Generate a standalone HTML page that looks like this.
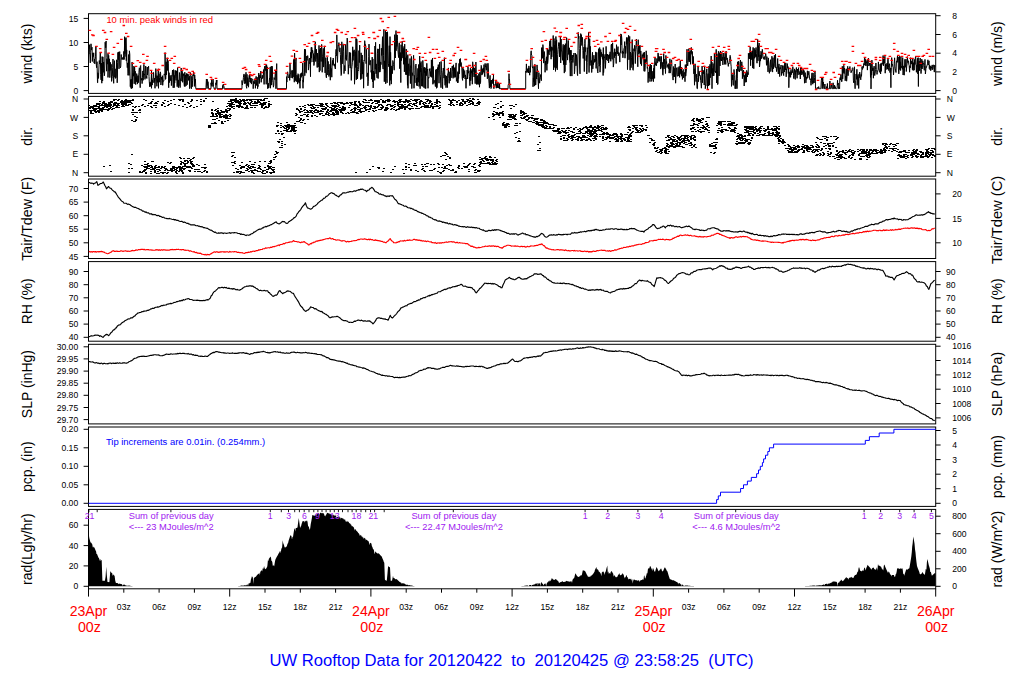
<!DOCTYPE html>
<html><head><meta charset="utf-8"><style>
html,body{margin:0;padding:0;background:#fff;width:1024px;height:700px;overflow:hidden}
svg{display:block}
text{font-family:"Liberation Sans",sans-serif}
</style></head><body>
<svg width="1024" height="700" viewBox="0 0 1024 700" font-family="Liberation Sans, sans-serif"><rect x="88.5" y="13.7" width="847.2" height="79.7" fill="none" stroke="#000" stroke-width="1"/>
<rect x="88.5" y="96.4" width="847.2" height="79.79999999999998" fill="none" stroke="#000" stroke-width="1"/>
<rect x="88.5" y="179.0" width="847.2" height="79.5" fill="none" stroke="#000" stroke-width="1"/>
<rect x="88.5" y="261.6" width="847.2" height="79.59999999999997" fill="none" stroke="#000" stroke-width="1"/>
<rect x="88.5" y="344.3" width="847.2" height="79.59999999999997" fill="none" stroke="#000" stroke-width="1"/>
<rect x="88.5" y="427.0" width="847.2" height="79.39999999999998" fill="none" stroke="#000" stroke-width="1"/>
<rect x="88.5" y="509.4" width="847.2" height="79.39999999999998" fill="none" stroke="#000" stroke-width="1"/>
<line x1="83.6" y1="90.6" x2="88.5" y2="90.6" stroke="#000" stroke-width="1"/>
<text x="78.2" y="93.7" text-anchor="end" font-size="8.6">0</text>
<line x1="83.6" y1="66.5" x2="88.5" y2="66.5" stroke="#000" stroke-width="1"/>
<text x="78.2" y="69.6" text-anchor="end" font-size="8.6">5</text>
<line x1="83.6" y1="42.5" x2="88.5" y2="42.5" stroke="#000" stroke-width="1"/>
<text x="78.2" y="45.6" text-anchor="end" font-size="8.6">10</text>
<line x1="83.6" y1="18.4" x2="88.5" y2="18.4" stroke="#000" stroke-width="1"/>
<text x="78.2" y="21.5" text-anchor="end" font-size="8.6">15</text>
<line x1="935.7" y1="90.6" x2="940.6" y2="90.6" stroke="#000" stroke-width="1"/>
<text x="952.2" y="93.7" font-size="8.6">0</text>
<line x1="935.7" y1="71.9" x2="940.6" y2="71.9" stroke="#000" stroke-width="1"/>
<text x="952.2" y="75.0" font-size="8.6">2</text>
<line x1="935.7" y1="53.2" x2="940.6" y2="53.2" stroke="#000" stroke-width="1"/>
<text x="952.2" y="56.3" font-size="8.6">4</text>
<line x1="935.7" y1="34.5" x2="940.6" y2="34.5" stroke="#000" stroke-width="1"/>
<text x="952.2" y="37.6" font-size="8.6">6</text>
<line x1="935.7" y1="15.7" x2="940.6" y2="15.7" stroke="#000" stroke-width="1"/>
<text x="952.2" y="18.8" font-size="8.6">8</text>
<line x1="83.6" y1="99.0" x2="88.5" y2="99.0" stroke="#000" stroke-width="1"/>
<text x="78.2" y="102.1" text-anchor="end" font-size="8.6">N</text>
<line x1="935.7" y1="99.0" x2="940.6" y2="99.0" stroke="#000" stroke-width="1"/>
<text x="946.8" y="102.1" font-size="8.6">N</text>
<line x1="83.6" y1="117.4" x2="88.5" y2="117.4" stroke="#000" stroke-width="1"/>
<text x="78.2" y="120.5" text-anchor="end" font-size="8.6">W</text>
<line x1="935.7" y1="117.4" x2="940.6" y2="117.4" stroke="#000" stroke-width="1"/>
<text x="946.8" y="120.5" font-size="8.6">W</text>
<line x1="83.6" y1="135.8" x2="88.5" y2="135.8" stroke="#000" stroke-width="1"/>
<text x="78.2" y="138.9" text-anchor="end" font-size="8.6">S</text>
<line x1="935.7" y1="135.8" x2="940.6" y2="135.8" stroke="#000" stroke-width="1"/>
<text x="946.8" y="138.9" font-size="8.6">S</text>
<line x1="83.6" y1="154.3" x2="88.5" y2="154.3" stroke="#000" stroke-width="1"/>
<text x="78.2" y="157.4" text-anchor="end" font-size="8.6">E</text>
<line x1="935.7" y1="154.3" x2="940.6" y2="154.3" stroke="#000" stroke-width="1"/>
<text x="946.8" y="157.4" font-size="8.6">E</text>
<line x1="83.6" y1="172.7" x2="88.5" y2="172.7" stroke="#000" stroke-width="1"/>
<text x="78.2" y="175.8" text-anchor="end" font-size="8.6">N</text>
<line x1="935.7" y1="172.7" x2="940.6" y2="172.7" stroke="#000" stroke-width="1"/>
<text x="946.8" y="175.8" font-size="8.6">N</text>
<line x1="83.6" y1="256.4" x2="88.5" y2="256.4" stroke="#000" stroke-width="1"/>
<text x="78.2" y="259.5" text-anchor="end" font-size="8.6">45</text>
<line x1="83.6" y1="242.8" x2="88.5" y2="242.8" stroke="#000" stroke-width="1"/>
<text x="78.2" y="245.9" text-anchor="end" font-size="8.6">50</text>
<line x1="83.6" y1="229.2" x2="88.5" y2="229.2" stroke="#000" stroke-width="1"/>
<text x="78.2" y="232.3" text-anchor="end" font-size="8.6">55</text>
<line x1="83.6" y1="215.7" x2="88.5" y2="215.7" stroke="#000" stroke-width="1"/>
<text x="78.2" y="218.8" text-anchor="end" font-size="8.6">60</text>
<line x1="83.6" y1="202.1" x2="88.5" y2="202.1" stroke="#000" stroke-width="1"/>
<text x="78.2" y="205.2" text-anchor="end" font-size="8.6">65</text>
<line x1="83.6" y1="188.5" x2="88.5" y2="188.5" stroke="#000" stroke-width="1"/>
<text x="78.2" y="191.6" text-anchor="end" font-size="8.6">70</text>
<line x1="935.7" y1="242.8" x2="940.6" y2="242.8" stroke="#000" stroke-width="1"/>
<text x="952.2" y="245.9" font-size="8.6">10</text>
<line x1="935.7" y1="218.4" x2="940.6" y2="218.4" stroke="#000" stroke-width="1"/>
<text x="952.2" y="221.5" font-size="8.6">15</text>
<line x1="935.7" y1="193.9" x2="940.6" y2="193.9" stroke="#000" stroke-width="1"/>
<text x="952.2" y="197.0" font-size="8.6">20</text>
<line x1="83.6" y1="337.3" x2="88.5" y2="337.3" stroke="#000" stroke-width="1"/>
<text x="78.2" y="340.4" text-anchor="end" font-size="8.6">40</text>
<line x1="935.7" y1="337.3" x2="940.6" y2="337.3" stroke="#000" stroke-width="1"/>
<text x="946.0" y="340.4" font-size="8.6">40</text>
<line x1="83.6" y1="324.1" x2="88.5" y2="324.1" stroke="#000" stroke-width="1"/>
<text x="78.2" y="327.2" text-anchor="end" font-size="8.6">50</text>
<line x1="935.7" y1="324.1" x2="940.6" y2="324.1" stroke="#000" stroke-width="1"/>
<text x="946.0" y="327.2" font-size="8.6">50</text>
<line x1="83.6" y1="311.0" x2="88.5" y2="311.0" stroke="#000" stroke-width="1"/>
<text x="78.2" y="314.1" text-anchor="end" font-size="8.6">60</text>
<line x1="935.7" y1="311.0" x2="940.6" y2="311.0" stroke="#000" stroke-width="1"/>
<text x="946.0" y="314.1" font-size="8.6">60</text>
<line x1="83.6" y1="297.8" x2="88.5" y2="297.8" stroke="#000" stroke-width="1"/>
<text x="78.2" y="300.9" text-anchor="end" font-size="8.6">70</text>
<line x1="935.7" y1="297.8" x2="940.6" y2="297.8" stroke="#000" stroke-width="1"/>
<text x="946.0" y="300.9" font-size="8.6">70</text>
<line x1="83.6" y1="284.7" x2="88.5" y2="284.7" stroke="#000" stroke-width="1"/>
<text x="78.2" y="287.8" text-anchor="end" font-size="8.6">80</text>
<line x1="935.7" y1="284.7" x2="940.6" y2="284.7" stroke="#000" stroke-width="1"/>
<text x="946.0" y="287.8" font-size="8.6">80</text>
<line x1="83.6" y1="271.5" x2="88.5" y2="271.5" stroke="#000" stroke-width="1"/>
<text x="78.2" y="274.6" text-anchor="end" font-size="8.6">90</text>
<line x1="935.7" y1="271.5" x2="940.6" y2="271.5" stroke="#000" stroke-width="1"/>
<text x="946.0" y="274.6" font-size="8.6">90</text>
<line x1="83.6" y1="419.6" x2="88.5" y2="419.6" stroke="#000" stroke-width="1"/>
<text x="78.2" y="422.7" text-anchor="end" font-size="8.6">29.70</text>
<line x1="83.6" y1="407.5" x2="88.5" y2="407.5" stroke="#000" stroke-width="1"/>
<text x="78.2" y="410.6" text-anchor="end" font-size="8.6">29.75</text>
<line x1="83.6" y1="395.3" x2="88.5" y2="395.3" stroke="#000" stroke-width="1"/>
<text x="78.2" y="398.4" text-anchor="end" font-size="8.6">29.80</text>
<line x1="83.6" y1="383.2" x2="88.5" y2="383.2" stroke="#000" stroke-width="1"/>
<text x="78.2" y="386.3" text-anchor="end" font-size="8.6">29.85</text>
<line x1="83.6" y1="371.1" x2="88.5" y2="371.1" stroke="#000" stroke-width="1"/>
<text x="78.2" y="374.2" text-anchor="end" font-size="8.6">29.90</text>
<line x1="83.6" y1="358.9" x2="88.5" y2="358.9" stroke="#000" stroke-width="1"/>
<text x="78.2" y="362.0" text-anchor="end" font-size="8.6">29.95</text>
<line x1="83.6" y1="346.8" x2="88.5" y2="346.8" stroke="#000" stroke-width="1"/>
<text x="78.2" y="349.9" text-anchor="end" font-size="8.6">30.00</text>
<line x1="935.7" y1="417.9" x2="940.6" y2="417.9" stroke="#000" stroke-width="1"/>
<text x="952.2" y="421.0" font-size="8.6">1006</text>
<line x1="935.7" y1="403.5" x2="940.6" y2="403.5" stroke="#000" stroke-width="1"/>
<text x="952.2" y="406.6" font-size="8.6">1008</text>
<line x1="935.7" y1="389.2" x2="940.6" y2="389.2" stroke="#000" stroke-width="1"/>
<text x="952.2" y="392.3" font-size="8.6">1010</text>
<line x1="935.7" y1="374.9" x2="940.6" y2="374.9" stroke="#000" stroke-width="1"/>
<text x="952.2" y="378.0" font-size="8.6">1012</text>
<line x1="935.7" y1="360.5" x2="940.6" y2="360.5" stroke="#000" stroke-width="1"/>
<text x="952.2" y="363.6" font-size="8.6">1014</text>
<line x1="935.7" y1="346.2" x2="940.6" y2="346.2" stroke="#000" stroke-width="1"/>
<text x="952.2" y="349.3" font-size="8.6">1016</text>
<line x1="83.6" y1="503.3" x2="88.5" y2="503.3" stroke="#000" stroke-width="1"/>
<text x="78.2" y="506.4" text-anchor="end" font-size="8.6">0.00</text>
<line x1="83.6" y1="484.8" x2="88.5" y2="484.8" stroke="#000" stroke-width="1"/>
<text x="78.2" y="487.9" text-anchor="end" font-size="8.6">0.05</text>
<line x1="83.6" y1="466.3" x2="88.5" y2="466.3" stroke="#000" stroke-width="1"/>
<text x="78.2" y="469.4" text-anchor="end" font-size="8.6">0.10</text>
<line x1="83.6" y1="447.8" x2="88.5" y2="447.8" stroke="#000" stroke-width="1"/>
<text x="78.2" y="450.9" text-anchor="end" font-size="8.6">0.15</text>
<line x1="83.6" y1="429.3" x2="88.5" y2="429.3" stroke="#000" stroke-width="1"/>
<text x="78.2" y="432.4" text-anchor="end" font-size="8.6">0.20</text>
<line x1="935.7" y1="503.3" x2="940.6" y2="503.3" stroke="#000" stroke-width="1"/>
<text x="952.2" y="506.4" font-size="8.6">0</text>
<line x1="935.7" y1="488.7" x2="940.6" y2="488.7" stroke="#000" stroke-width="1"/>
<text x="952.2" y="491.8" font-size="8.6">1</text>
<line x1="935.7" y1="474.2" x2="940.6" y2="474.2" stroke="#000" stroke-width="1"/>
<text x="952.2" y="477.3" font-size="8.6">2</text>
<line x1="935.7" y1="459.6" x2="940.6" y2="459.6" stroke="#000" stroke-width="1"/>
<text x="952.2" y="462.7" font-size="8.6">3</text>
<line x1="935.7" y1="445.0" x2="940.6" y2="445.0" stroke="#000" stroke-width="1"/>
<text x="952.2" y="448.1" font-size="8.6">4</text>
<line x1="935.7" y1="430.5" x2="940.6" y2="430.5" stroke="#000" stroke-width="1"/>
<text x="952.2" y="433.6" font-size="8.6">5</text>
<line x1="83.6" y1="586.3" x2="88.5" y2="586.3" stroke="#000" stroke-width="1"/>
<text x="78.2" y="589.4" text-anchor="end" font-size="8.6">0</text>
<line x1="83.6" y1="565.9" x2="88.5" y2="565.9" stroke="#000" stroke-width="1"/>
<text x="78.2" y="569.0" text-anchor="end" font-size="8.6">20</text>
<line x1="83.6" y1="545.6" x2="88.5" y2="545.6" stroke="#000" stroke-width="1"/>
<text x="78.2" y="548.7" text-anchor="end" font-size="8.6">40</text>
<line x1="83.6" y1="525.2" x2="88.5" y2="525.2" stroke="#000" stroke-width="1"/>
<text x="78.2" y="528.3" text-anchor="end" font-size="8.6">60</text>
<line x1="935.7" y1="586.3" x2="940.6" y2="586.3" stroke="#000" stroke-width="1"/>
<text x="952.2" y="589.4" font-size="8.6">0</text>
<line x1="935.7" y1="568.8" x2="940.6" y2="568.8" stroke="#000" stroke-width="1"/>
<text x="952.2" y="571.9" font-size="8.6">200</text>
<line x1="935.7" y1="551.3" x2="940.6" y2="551.3" stroke="#000" stroke-width="1"/>
<text x="952.2" y="554.4" font-size="8.6">400</text>
<line x1="935.7" y1="533.7" x2="940.6" y2="533.7" stroke="#000" stroke-width="1"/>
<text x="952.2" y="536.8" font-size="8.6">600</text>
<line x1="935.7" y1="516.2" x2="940.6" y2="516.2" stroke="#000" stroke-width="1"/>
<text x="952.2" y="519.3" font-size="8.6">800</text>
<text transform="translate(32.2,53.6) rotate(-90)" text-anchor="middle" font-size="14">wind (kts)</text>
<text transform="translate(1002.0,53.6) rotate(-90)" text-anchor="middle" font-size="14">wind (m/s)</text>
<text transform="translate(32.2,136.3) rotate(-90)" text-anchor="middle" font-size="14">dir.</text>
<text transform="translate(1002.0,136.3) rotate(-90)" text-anchor="middle" font-size="14">dir.</text>
<text transform="translate(32.2,218.8) rotate(-90)" text-anchor="middle" font-size="14" textLength="84.1" lengthAdjust="spacingAndGlyphs">Tair/Tdew (F)</text>
<text transform="translate(1002.0,219.9) rotate(-90)" text-anchor="middle" font-size="14" textLength="88.3" lengthAdjust="spacingAndGlyphs">Tair/Tdew (C)</text>
<text transform="translate(32.2,301.4) rotate(-90)" text-anchor="middle" font-size="14">RH (%)</text>
<text transform="translate(1002.0,301.4) rotate(-90)" text-anchor="middle" font-size="14">RH (%)</text>
<text transform="translate(32.2,384.1) rotate(-90)" text-anchor="middle" font-size="14">SLP (inHg)</text>
<text transform="translate(1002.0,384.1) rotate(-90)" text-anchor="middle" font-size="14">SLP (hPa)</text>
<text transform="translate(32.2,466.7) rotate(-90)" text-anchor="middle" font-size="14">pcp. (in)</text>
<text transform="translate(1002.0,466.7) rotate(-90)" text-anchor="middle" font-size="14">pcp. (mm)</text>
<text transform="translate(32.2,549.1) rotate(-90)" text-anchor="middle" font-size="14">rad(Lgly/hr)</text>
<text transform="translate(1002.0,549.1) rotate(-90)" text-anchor="middle" font-size="14">rad (W/m^2)</text>
<line x1="88.5" y1="588.8" x2="88.5" y2="596.5999999999999" stroke="#000" stroke-width="1"/>
<line x1="123.8" y1="588.8" x2="123.8" y2="592.6999999999999" stroke="#000" stroke-width="1"/>
<text x="123.8" y="610" text-anchor="middle" font-size="8.6">03z</text>
<line x1="159.1" y1="588.8" x2="159.1" y2="592.6999999999999" stroke="#000" stroke-width="1"/>
<text x="159.1" y="610" text-anchor="middle" font-size="8.6">06z</text>
<line x1="194.4" y1="588.8" x2="194.4" y2="592.6999999999999" stroke="#000" stroke-width="1"/>
<text x="194.4" y="610" text-anchor="middle" font-size="8.6">09z</text>
<line x1="229.7" y1="588.8" x2="229.7" y2="596.5999999999999" stroke="#000" stroke-width="1"/>
<text x="229.7" y="610" text-anchor="middle" font-size="8.6">12z</text>
<line x1="265.0" y1="588.8" x2="265.0" y2="592.6999999999999" stroke="#000" stroke-width="1"/>
<text x="265.0" y="610" text-anchor="middle" font-size="8.6">15z</text>
<line x1="300.3" y1="588.8" x2="300.3" y2="592.6999999999999" stroke="#000" stroke-width="1"/>
<text x="300.3" y="610" text-anchor="middle" font-size="8.6">18z</text>
<line x1="335.6" y1="588.8" x2="335.6" y2="592.6999999999999" stroke="#000" stroke-width="1"/>
<text x="335.6" y="610" text-anchor="middle" font-size="8.6">21z</text>
<line x1="370.9" y1="588.8" x2="370.9" y2="596.5999999999999" stroke="#000" stroke-width="1"/>
<line x1="406.2" y1="588.8" x2="406.2" y2="592.6999999999999" stroke="#000" stroke-width="1"/>
<text x="406.2" y="610" text-anchor="middle" font-size="8.6">03z</text>
<line x1="441.5" y1="588.8" x2="441.5" y2="592.6999999999999" stroke="#000" stroke-width="1"/>
<text x="441.5" y="610" text-anchor="middle" font-size="8.6">06z</text>
<line x1="476.8" y1="588.8" x2="476.8" y2="592.6999999999999" stroke="#000" stroke-width="1"/>
<text x="476.8" y="610" text-anchor="middle" font-size="8.6">09z</text>
<line x1="512.1" y1="588.8" x2="512.1" y2="596.5999999999999" stroke="#000" stroke-width="1"/>
<text x="512.1" y="610" text-anchor="middle" font-size="8.6">12z</text>
<line x1="547.4" y1="588.8" x2="547.4" y2="592.6999999999999" stroke="#000" stroke-width="1"/>
<text x="547.4" y="610" text-anchor="middle" font-size="8.6">15z</text>
<line x1="582.7" y1="588.8" x2="582.7" y2="592.6999999999999" stroke="#000" stroke-width="1"/>
<text x="582.7" y="610" text-anchor="middle" font-size="8.6">18z</text>
<line x1="618.0" y1="588.8" x2="618.0" y2="592.6999999999999" stroke="#000" stroke-width="1"/>
<text x="618.0" y="610" text-anchor="middle" font-size="8.6">21z</text>
<line x1="653.3" y1="588.8" x2="653.3" y2="596.5999999999999" stroke="#000" stroke-width="1"/>
<line x1="688.6" y1="588.8" x2="688.6" y2="592.6999999999999" stroke="#000" stroke-width="1"/>
<text x="688.6" y="610" text-anchor="middle" font-size="8.6">03z</text>
<line x1="723.9" y1="588.8" x2="723.9" y2="592.6999999999999" stroke="#000" stroke-width="1"/>
<text x="723.9" y="610" text-anchor="middle" font-size="8.6">06z</text>
<line x1="759.2" y1="588.8" x2="759.2" y2="592.6999999999999" stroke="#000" stroke-width="1"/>
<text x="759.2" y="610" text-anchor="middle" font-size="8.6">09z</text>
<line x1="794.5" y1="588.8" x2="794.5" y2="596.5999999999999" stroke="#000" stroke-width="1"/>
<text x="794.5" y="610" text-anchor="middle" font-size="8.6">12z</text>
<line x1="829.8" y1="588.8" x2="829.8" y2="592.6999999999999" stroke="#000" stroke-width="1"/>
<text x="829.8" y="610" text-anchor="middle" font-size="8.6">15z</text>
<line x1="865.1" y1="588.8" x2="865.1" y2="592.6999999999999" stroke="#000" stroke-width="1"/>
<text x="865.1" y="610" text-anchor="middle" font-size="8.6">18z</text>
<line x1="900.4" y1="588.8" x2="900.4" y2="592.6999999999999" stroke="#000" stroke-width="1"/>
<text x="900.4" y="610" text-anchor="middle" font-size="8.6">21z</text>
<line x1="935.7" y1="588.8" x2="935.7" y2="596.5999999999999" stroke="#000" stroke-width="1"/>
<text x="88.5" y="616" text-anchor="middle" font-size="14.1" fill="#ff0000">23Apr</text>
<text x="89.4" y="632" text-anchor="middle" font-size="14.2" fill="#ff0000">00z</text>
<text x="370.9" y="616" text-anchor="middle" font-size="14.1" fill="#ff0000">24Apr</text>
<text x="371.8" y="632" text-anchor="middle" font-size="14.2" fill="#ff0000">00z</text>
<text x="653.3" y="616" text-anchor="middle" font-size="14.1" fill="#ff0000">25Apr</text>
<text x="654.2" y="632" text-anchor="middle" font-size="14.2" fill="#ff0000">00z</text>
<text x="935.7" y="616" text-anchor="middle" font-size="14.1" fill="#ff0000">26Apr</text>
<text x="936.6" y="632" text-anchor="middle" font-size="14.2" fill="#ff0000">00z</text>
<text x="269.5" y="665.6" font-size="16.3" fill="#0000ff" xml:space="preserve" textLength="484" lengthAdjust="spacingAndGlyphs">UW Rooftop Data for 20120422  to  20120425 @ 23:58:25  (UTC)</text>
<text x="106.4" y="23.1" font-size="8.7" fill="#ff0000" textLength="106.7" lengthAdjust="spacingAndGlyphs">10 min. peak winds in red</text>
<text x="105.9" y="444.9" font-size="9.2" fill="#0000ff" textLength="159.3" lengthAdjust="spacingAndGlyphs">Tip increments are 0.01in. (0.254mm.)</text>
<polyline fill="none" stroke="#000" stroke-width="1" stroke-linejoin="round" points="88.5,52.9 88.9,54.2 89.2,49.6 89.6,44.7 89.9,54.9 90.3,62.9 90.7,52.8 91.0,43.8 91.4,50.1 91.7,48.1 92.1,47.3 92.3,61.5 92.7,52.9 93.0,56.5 93.4,56.7 93.7,52.8 94.1,63.1 94.5,59.2 94.8,63.9 95.2,59.2 95.5,56.8 95.9,46.0 96.3,64.8 96.6,67.7 97.0,61.7 97.1,65.5 97.5,82.7 97.7,82.8 97.8,72.8 98.2,73.2 98.5,78.4 98.9,68.0 99.3,60.5 99.6,64.0 100.0,60.7 100.3,52.3 100.7,74.7 101.1,79.9 101.4,63.1 101.8,83.2 102.1,56.6 102.5,68.4 102.6,81.0 102.9,56.9 103.2,72.4 103.6,62.0 103.9,68.8 104.3,75.8 104.6,74.0 105.0,50.7 105.0,42.2 105.4,42.6 105.7,47.8 106.1,41.0 106.2,57.4 106.6,71.2 106.9,59.2 107.3,64.2 107.6,63.7 108.0,53.4 108.0,77.4 108.4,59.3 108.7,55.4 109.1,71.1 109.4,58.8 109.8,77.6 110.2,69.9 110.5,62.4 110.9,70.4 111.2,64.3 111.6,81.4 111.9,78.6 112.3,76.6 112.7,67.5 113.0,59.0 113.4,79.1 113.7,83.3 114.1,65.3 114.5,60.7 114.8,77.3 115.2,68.8 115.5,78.4 115.9,78.0 116.3,76.9 116.6,59.8 117.0,64.4 117.2,68.7 117.2,82.8 117.6,62.6 117.9,52.4 118.3,59.7 118.6,51.9 119.0,68.9 119.4,56.1 119.7,51.6 120.1,65.4 120.4,67.9 120.8,66.2 121.2,54.5 121.5,57.5 121.9,59.5 122.2,59.5 122.6,57.5 123.0,59.1 123.3,59.6 123.7,55.3 123.8,51.4 124.2,59.5 124.5,45.9 124.6,36.7 124.9,53.7 125.2,38.5 125.6,43.3 126.0,56.6 126.0,37.5 126.3,60.7 126.7,49.9 126.9,62.0 127.3,67.7 127.6,62.9 128.0,75.3 128.3,73.4 128.7,54.5 129.1,75.4 129.4,50.8 129.8,54.4 129.9,69.1 130.3,86.7 130.6,79.7 131.0,87.6 131.0,88.3 131.3,79.3 131.7,88.7 132.1,62.1 132.4,71.0 132.5,88.0 132.8,74.1 133.1,73.3 133.5,76.2 133.9,66.1 134.2,83.8 134.6,67.1 134.9,74.5 135.3,71.3 135.7,84.6 136.0,77.6 136.4,81.7 136.7,73.6 137.1,76.9 137.5,84.1 137.8,75.8 138.2,75.6 138.5,82.6 138.9,72.5 139.3,67.8 139.6,68.7 140.0,75.6 140.2,87.7 140.3,66.6 140.7,65.5 141.0,78.6 141.4,80.2 141.8,78.2 142.1,83.6 142.5,77.5 142.8,70.9 143.2,80.3 143.6,72.5 143.9,64.4 144.3,74.9 144.6,74.0 145.0,79.4 145.4,68.9 145.7,66.1 146.1,77.9 146.4,76.2 146.8,78.5 147.2,67.0 147.5,75.0 147.9,68.6 148.2,68.3 148.6,66.2 149.0,76.4 149.3,81.8 149.7,86.8 150.0,81.8 150.4,82.4 150.7,86.4 151.1,83.5 151.5,70.2 151.5,88.3 151.8,78.4 152.2,85.1 152.5,80.2 152.9,82.4 153.3,72.3 153.6,72.6 154.0,82.7 154.3,81.1 154.7,78.1 155.0,88.3 155.1,84.4 155.4,79.1 155.8,68.6 156.1,72.7 156.5,78.2 156.9,86.3 157.2,75.7 157.6,82.4 157.9,80.9 158.3,68.8 158.5,88.3 158.7,78.3 159.0,73.6 159.4,77.6 159.7,82.2 160.1,78.1 160.2,71.8 160.6,73.1 160.9,85.0 161.3,80.2 161.6,77.1 162.0,79.2 162.4,75.7 162.7,85.3 163.1,80.6 163.4,81.3 163.8,81.1 164.2,73.9 164.5,74.7 164.9,75.2 165.1,52.6 165.1,54.3 165.5,79.4 165.8,78.8 166.2,61.8 166.5,74.8 166.9,64.1 167.3,57.8 167.6,70.5 168.0,60.5 168.3,63.8 168.7,87.7 168.7,82.0 169.1,72.7 169.4,82.6 169.8,75.6 170.0,79.5 170.4,80.7 170.7,77.1 171.1,75.2 171.4,85.6 171.8,76.8 172.2,74.9 172.5,70.0 172.9,77.3 173.2,87.8 173.6,69.6 174.0,70.8 174.2,87.7 174.3,75.4 174.7,83.1 175.0,76.6 175.4,70.4 175.8,78.4 176.1,80.4 176.5,70.8 176.8,73.3 177.2,86.7 177.6,67.6 177.9,84.6 178.3,79.9 178.4,87.7 178.6,81.5 179.0,85.7 179.4,72.5 179.7,74.5 180.1,87.6 180.4,81.2 180.8,77.1 181.2,68.0 181.5,72.2 181.9,81.2 182.2,71.3 182.6,82.3 183.0,73.6 183.3,75.6 183.7,73.8 184.0,82.6 184.4,86.3 184.8,72.2 185.0,86.6 185.4,74.9 185.7,78.2 186.1,85.8 186.4,73.4 186.8,78.6 187.2,84.7 187.5,73.8 187.9,76.0 188.2,74.3 188.6,80.4 189.0,79.7 189.3,76.1 189.7,88.7 190.0,75.8 190.4,72.5 190.8,74.2 191.1,87.6 191.5,88.7 191.8,76.3 192.2,86.8 192.6,80.2 192.9,74.7 193.3,76.0 193.6,72.1 194.0,73.8 194.4,86.4 194.7,74.9 195.1,80.9 195.4,79.1 195.8,88.7 206.0,88.7 206.0,87.3 206.4,79.1 206.7,81.4 207.1,88.5 207.2,79.2 207.4,85.4 207.8,81.5 208.2,82.1 208.5,88.7 211.0,88.7 211.0,82.8 211.4,85.6 211.7,78.9 212.1,86.5 212.4,82.9 212.8,83.7 213.0,79.0 213.2,80.6 213.5,86.7 213.9,87.1 214.0,88.7 215.8,88.7 215.8,82.8 216.2,85.2 216.4,80.0 216.5,84.2 216.9,80.0 217.0,88.7 222.5,88.7 222.5,85.5 222.9,88.6 223.2,85.2 223.3,84.0 223.6,85.4 223.9,86.2 224.3,88.7 242.0,88.7 242.0,80.5 242.4,85.0 242.7,83.3 243.1,81.4 243.4,77.6 243.8,74.2 244.2,74.2 244.5,81.6 244.9,83.9 245.2,74.8 245.6,83.1 246.0,72.3 246.3,86.4 246.7,88.3 247.0,74.3 247.4,85.6 247.8,77.6 248.1,79.1 248.5,87.2 248.8,82.2 249.2,75.3 249.6,78.7 249.9,74.3 250.0,82.0 250.4,78.2 250.7,82.7 251.1,78.0 251.4,84.1 251.8,80.9 252.2,78.8 252.5,79.0 252.9,79.7 253.2,88.7 253.6,81.4 254.0,81.2 254.3,83.7 254.7,81.3 255.0,78.6 255.4,88.3 255.8,81.9 256.1,76.4 256.5,85.4 256.8,84.2 257.2,77.2 257.6,88.7 257.7,85.0 258.1,86.5 258.3,80.1 258.7,73.0 259.0,73.9 259.4,83.5 259.7,75.3 260.1,76.4 260.5,78.0 260.8,71.1 261.2,82.3 261.5,77.9 261.9,79.0 262.3,75.2 262.6,78.3 263.0,77.4 263.3,75.5 263.7,69.5 264.1,84.4 264.4,68.0 264.8,66.1 265.1,70.2 265.5,70.6 265.9,65.4 266.2,84.3 266.6,64.6 266.9,73.4 267.3,66.8 267.7,88.7 268.0,85.3 268.4,83.2 268.7,88.1 269.1,86.5 269.5,78.2 269.8,79.1 270.2,67.0 270.5,88.2 270.9,73.6 271.3,66.1 271.6,85.1 272.0,67.7 272.3,66.3 272.7,80.5 273.1,82.6 273.4,87.2 273.8,85.2 274.1,77.6 274.5,78.9 274.9,79.6 275.2,73.9 275.6,70.0 275.9,88.7 276.3,81.2 276.7,63.6 277.0,88.7 286.5,88.7 286.5,76.7 286.9,82.1 287.2,75.5 287.6,71.8 287.9,73.4 288.3,77.7 288.7,77.1 289.0,77.7 289.4,74.5 289.7,80.4 290.0,64.1 290.4,73.9 290.7,73.5 291.1,77.9 291.4,71.9 291.8,70.3 292.2,70.6 292.5,78.2 292.9,70.3 293.2,76.9 293.6,59.4 293.9,59.4 294.3,82.2 294.6,53.1 295.0,80.8 295.4,80.6 295.7,61.3 296.1,58.0 296.2,81.8 296.6,81.4 296.9,75.1 297.3,75.9 297.6,84.1 298.0,73.7 298.4,75.0 298.7,82.4 299.1,78.3 299.4,83.1 299.8,80.1 300.0,88.3 300.2,74.4 300.5,81.0 300.9,73.4 301.2,77.3 301.6,72.8 302.0,76.1 302.3,75.8 302.7,63.1 303.0,88.3 303.0,80.0 303.4,82.2 303.8,74.6 304.1,72.7 304.5,49.2 304.8,75.7 305.2,50.5 305.5,49.4 305.9,72.5 306.3,72.9 306.6,56.1 307.0,60.5 307.3,58.7 307.7,55.6 308.1,58.6 308.4,70.1 308.8,66.4 309.1,60.4 309.5,58.0 309.9,63.9 310.2,62.0 310.5,76.7 310.6,52.4 310.9,62.2 311.3,47.3 311.4,58.2 311.8,47.4 312.1,53.2 312.5,50.1 312.8,50.9 313.2,62.0 313.6,53.6 313.9,65.5 314.3,63.1 314.6,54.9 315.0,44.0 315.4,41.8 315.7,61.5 316.1,54.3 316.4,49.2 316.8,59.7 317.2,67.5 317.5,53.2 317.9,58.5 318.2,67.1 318.6,62.3 319.0,45.4 319.3,72.1 319.7,49.6 320.0,70.7 320.4,48.0 320.8,53.0 321.1,61.5 321.5,44.5 321.8,44.5 322.2,72.3 322.6,56.3 322.9,54.0 323.3,48.4 323.6,67.1 324.0,63.2 324.4,45.9 324.7,55.2 325.1,72.9 325.4,64.2 325.8,57.7 326.0,75.7 326.4,77.8 326.7,72.1 327.1,63.2 327.4,57.3 327.8,75.0 328.2,61.4 328.5,69.3 328.9,76.5 329.2,74.1 329.6,74.6 330.0,64.2 330.3,80.2 330.7,57.4 331.0,69.4 331.4,68.6 331.8,77.2 332.1,65.8 332.5,60.4 332.8,65.3 333.2,58.0 333.6,64.3 333.9,63.8 334.3,66.1 334.6,64.2 335.0,67.8 335.4,69.0 335.7,54.4 336.1,49.3 336.4,55.8 336.8,53.2 336.8,34.9 337.1,56.6 337.5,62.4 337.9,49.8 338.2,45.1 338.6,45.7 338.9,42.6 339.3,50.8 339.7,51.8 340.0,47.8 340.4,54.7 340.7,65.1 341.1,75.5 341.5,74.4 341.8,41.8 342.2,63.9 342.5,57.1 342.9,46.7 343.3,43.9 343.6,51.1 344.0,73.6 344.3,69.2 344.7,65.5 345.1,70.9 345.4,44.4 345.8,59.3 346.1,55.2 346.5,60.4 346.9,43.9 347.2,38.1 347.6,42.0 347.9,57.9 348.3,74.2 348.7,64.9 349.0,65.4 349.4,52.3 349.7,58.8 350.1,64.1 350.2,68.1 350.6,52.7 350.9,61.5 351.3,80.4 351.6,69.4 352.0,66.5 352.4,62.2 352.7,46.8 353.1,60.4 353.4,50.8 353.8,56.2 354.2,49.8 354.5,84.2 354.9,75.2 355.2,51.6 355.6,67.5 356.0,38.4 356.3,79.8 356.7,38.9 357.0,41.3 357.4,66.3 357.5,78.8 357.9,70.1 358.2,70.9 358.6,69.4 358.9,50.6 359.3,62.6 359.7,45.1 360.0,60.0 360.4,72.3 360.7,79.6 361.1,52.8 361.5,58.3 361.8,78.7 362.2,55.0 362.5,74.1 362.9,62.0 363.3,64.1 363.6,88.2 364.0,60.4 364.3,61.1 364.7,40.7 365.1,46.1 365.4,44.5 365.8,46.5 366.1,63.7 366.5,49.4 366.9,76.6 367.2,75.9 367.6,72.9 367.9,85.8 368.3,81.3 368.7,56.5 369.0,44.1 369.4,62.1 369.7,64.0 370.0,65.2 370.4,62.4 370.7,60.3 371.1,72.3 371.4,70.3 371.8,79.2 372.2,57.1 372.5,81.7 372.9,58.9 373.2,87.9 373.6,71.0 374.0,73.6 374.3,72.9 374.7,80.3 374.9,46.0 375.3,69.2 375.6,42.3 376.0,73.7 376.3,63.9 376.7,74.4 377.1,77.9 377.4,53.6 377.8,48.8 378.1,78.6 378.5,66.8 378.9,49.0 379.2,72.1 379.6,44.2 379.9,72.1 380.3,70.7 380.7,61.9 381.0,64.6 381.4,48.2 381.7,55.4 382.1,51.4 382.5,36.7 382.8,67.7 383.2,69.1 383.5,55.3 383.9,29.3 384.3,81.7 384.6,60.9 385.0,62.9 385.3,72.4 385.5,31.2 385.7,83.8 386.1,35.0 386.4,32.0 386.8,78.4 387.1,82.8 387.5,31.8 387.9,51.1 388.2,63.3 388.6,65.1 388.9,66.8 389.3,45.7 389.7,85.4 390.0,36.6 390.4,80.3 390.6,52.3 391.0,74.8 391.3,84.1 391.7,65.9 392.0,73.7 392.4,73.6 392.8,60.5 393.1,61.7 393.5,64.6 393.8,66.2 394.2,70.2 394.3,69.3 394.7,34.7 395.0,52.5 395.4,58.0 395.7,44.2 396.0,30.6 396.1,50.8 396.5,34.8 396.8,46.4 397.2,34.9 397.5,40.7 397.9,49.5 398.3,54.6 398.6,57.6 399.0,45.4 399.3,42.9 399.7,68.7 400.1,56.6 400.4,52.5 400.8,82.6 401.1,44.7 401.5,60.6 401.9,52.9 402.2,41.2 402.6,54.9 402.9,58.1 403.3,48.4 403.7,64.3 404.0,46.4 404.4,71.8 404.7,44.1 405.1,61.4 405.5,57.8 405.8,74.7 406.2,49.1 406.4,74.7 406.8,56.2 407.1,66.3 407.5,85.3 407.8,54.7 408.0,88.3 408.2,71.4 408.6,63.8 408.9,75.8 409.3,71.6 409.6,71.6 410.0,58.5 410.4,83.6 410.7,65.7 411.1,67.9 411.4,56.4 411.8,88.6 412.2,72.7 412.5,73.5 412.9,75.6 413.2,60.5 413.6,55.3 414.0,70.3 414.0,88.3 414.3,75.4 414.7,79.5 415.0,82.8 415.4,65.3 415.8,64.3 416.1,64.0 416.5,85.2 416.8,78.0 417.2,86.0 417.6,76.9 417.9,68.4 418.3,82.2 418.6,64.5 419.0,86.4 419.4,83.6 419.7,56.1 420.1,88.7 420.4,63.2 420.8,72.1 421.0,61.5 421.4,67.4 421.7,86.1 422.1,78.7 422.4,86.4 422.8,60.4 423.2,67.5 423.5,67.7 423.9,87.6 424.2,67.0 424.6,72.6 425.0,68.2 425.0,88.3 425.3,71.1 425.7,88.6 426.0,67.6 426.4,75.7 426.8,63.3 427.1,70.0 427.5,69.1 427.8,78.0 428.0,88.3 428.2,79.2 428.6,77.3 428.9,78.1 429.3,68.9 429.6,70.6 430.0,68.5 430.4,76.2 430.7,71.6 431.1,76.9 431.4,59.8 431.8,77.4 432.1,68.9 432.5,58.1 432.9,84.3 433.2,66.4 433.6,76.0 433.9,83.3 434.3,80.4 434.7,81.1 435.0,82.0 435.4,86.6 435.7,69.7 436.1,74.9 436.5,88.3 436.8,69.0 437.0,87.7 437.2,85.1 437.5,67.6 437.9,70.4 438.3,64.6 438.6,70.8 439.0,83.2 439.3,69.9 439.7,62.1 440.1,74.8 440.4,76.2 440.8,83.9 441.0,87.7 441.1,61.4 441.5,70.5 441.9,73.0 442.2,81.6 442.6,88.7 442.9,72.5 443.3,68.0 443.7,70.9 444.0,78.1 444.4,57.7 444.7,71.2 445.1,85.3 445.2,75.2 445.6,83.2 445.9,79.8 446.0,87.7 446.3,79.2 446.6,75.9 447.0,82.7 447.4,87.6 447.7,73.6 448.1,73.1 448.4,67.9 448.8,78.4 449.2,83.3 449.5,78.0 449.9,71.8 450.2,80.8 450.6,68.1 451.0,76.9 451.3,77.7 451.7,77.4 452.0,66.7 452.4,65.9 452.8,71.8 453.1,78.3 453.5,64.8 453.8,76.7 454.2,72.0 454.6,67.8 454.9,77.6 455.0,67.7 455.4,76.8 455.7,68.3 456.1,62.9 456.4,81.3 456.8,80.3 457.2,78.1 457.5,82.9 457.9,71.6 458.0,82.8 458.2,72.7 458.6,78.4 459.0,63.4 459.3,73.8 459.7,59.1 460.0,66.8 460.4,58.5 460.8,65.8 461.1,62.5 461.5,65.8 461.8,68.1 462.2,78.1 462.6,80.4 462.9,67.9 463.3,78.0 463.6,69.2 464.0,76.9 464.4,71.4 464.7,70.6 465.1,79.0 465.4,74.9 465.8,76.7 466.0,88.3 466.2,77.9 466.5,78.8 466.9,78.5 467.2,70.0 467.6,79.0 468.0,66.6 468.3,73.2 468.7,71.5 469.0,70.8 469.4,76.7 469.8,85.6 470.0,85.6 470.4,68.2 470.7,80.8 471.1,77.6 471.4,70.6 471.8,73.1 472.2,68.9 472.3,84.2 472.7,61.8 473.0,65.8 473.4,66.7 473.7,72.4 474.1,77.0 474.5,67.9 474.8,75.4 475.2,83.7 475.5,73.5 475.9,62.0 476.3,73.6 476.6,84.4 477.0,76.2 477.3,84.3 477.7,75.5 478.1,83.8 478.4,84.4 478.8,73.6 479.1,76.8 479.5,87.2 479.9,72.2 480.2,83.7 480.6,82.3 480.8,72.2 481.2,65.4 481.5,66.3 481.9,75.1 482.2,68.8 482.6,74.2 483.0,71.6 483.3,67.9 483.7,72.3 484.0,64.6 484.4,73.3 484.8,76.7 485.1,63.4 485.5,66.9 485.8,66.0 486.2,70.2 486.6,69.2 486.9,63.6 487.3,78.9 487.6,78.4 488.0,63.3 488.4,70.0 488.7,78.3 489.1,83.8 489.4,88.1 489.8,77.9 490.1,75.4 490.5,86.7 490.9,80.3 491.0,88.6 491.4,86.9 491.7,80.0 492.1,83.5 492.4,81.9 492.8,78.8 493.2,83.9 493.5,74.5 493.5,85.4 493.9,88.7 494.1,85.2 494.5,84.8 494.8,84.6 495.2,85.5 495.5,83.7 495.9,81.2 496.3,88.2 496.6,84.6 497.0,86.0 497.0,81.7 497.3,84.3 497.7,87.9 498.1,82.5 498.4,87.8 498.8,86.7 499.1,88.4 499.5,88.7 499.5,83.5 499.8,88.7 500.2,88.6 500.6,88.1 500.8,88.7 508.1,88.7 508.1,85.8 508.5,83.9 508.8,83.3 509.0,73.7 509.2,80.2 509.5,79.2 509.9,88.7 525.7,88.7 525.7,71.2 526.1,72.5 526.4,63.9 526.8,72.2 527.1,72.4 527.5,69.0 527.9,72.3 528.2,68.0 528.6,73.0 528.9,65.9 529.0,70.7 529.4,72.2 529.7,75.2 530.1,67.7 530.4,72.3 530.8,53.2 531.2,50.8 531.5,55.0 531.9,55.6 532.2,66.4 532.6,68.1 533.0,66.3 533.0,86.8 533.4,77.9 533.7,81.7 534.1,66.5 534.4,86.1 534.8,64.3 535.2,65.9 535.5,85.0 535.9,84.9 536.2,71.8 536.6,79.0 537.0,64.9 537.3,68.2 537.7,71.0 537.8,77.5 538.2,82.0 538.5,88.7 538.5,83.3 538.9,72.6 539.2,76.8 539.6,83.2 540.0,79.2 540.3,77.7 540.7,74.5 541.0,77.7 541.4,80.7 541.5,47.8 541.9,58.5 542.2,47.5 542.6,58.1 542.9,44.6 543.3,49.8 543.7,63.1 544.0,52.4 544.4,51.6 544.7,57.2 545.1,72.3 545.5,61.1 545.8,64.8 546.2,60.1 546.5,56.8 546.9,70.4 547.3,48.8 547.6,63.7 548.0,60.1 548.3,54.8 548.7,49.7 549.1,54.9 549.4,46.6 549.8,40.9 550.0,51.5 550.4,50.7 550.7,40.3 551.1,59.2 551.4,46.8 551.8,56.9 552.2,48.4 552.5,47.5 552.9,50.4 553.2,35.5 553.6,69.9 554.0,38.5 554.3,52.8 554.7,45.1 554.8,67.5 555.2,41.1 555.5,71.4 555.9,36.5 556.2,67.9 556.6,39.8 557.0,67.9 557.3,69.8 557.7,54.6 558.0,49.4 558.4,46.7 558.8,42.5 559.1,46.6 559.5,57.0 559.8,42.8 560.0,56.6 560.4,36.2 560.7,63.0 561.1,39.0 561.4,51.1 561.8,50.9 562.2,57.5 562.5,60.3 562.9,47.2 563.2,44.3 563.6,64.6 564.0,46.4 564.3,73.1 564.7,45.1 565.0,71.7 565.4,43.7 565.8,65.0 566.1,58.4 566.5,37.6 566.8,37.8 567.2,56.2 567.6,60.1 567.9,52.3 568.3,40.5 568.6,54.4 569.0,54.0 569.4,47.8 569.7,61.9 570.1,63.2 570.3,76.1 570.4,50.3 570.8,60.2 571.1,50.2 571.5,60.4 571.9,76.1 572.2,55.0 572.6,58.6 572.9,62.5 573.3,57.2 573.7,54.8 574.0,53.0 574.4,73.8 574.7,71.4 575.1,60.4 575.5,53.2 575.8,65.9 576.2,65.4 576.5,54.6 576.9,59.0 577.3,73.7 577.6,75.6 578.0,50.4 578.2,32.4 578.6,38.5 578.9,36.2 579.3,48.5 579.6,67.0 580.0,73.9 580.4,54.0 580.7,33.6 581.1,41.9 581.4,34.7 581.8,45.5 582.2,37.2 582.5,37.8 582.9,50.5 583.2,58.5 583.6,50.2 584.0,47.0 584.3,71.6 584.7,43.7 585.0,39.1 585.4,51.6 585.8,47.5 586.1,60.7 586.5,55.5 586.8,74.0 587.2,62.7 587.6,47.8 587.9,48.6 588.3,43.8 588.6,32.2 589.0,71.6 589.1,72.5 589.4,53.1 589.7,38.7 590.1,65.5 590.3,46.3 590.7,55.2 591.0,62.5 591.4,60.5 591.7,72.5 592.1,64.0 592.5,52.3 592.8,68.9 593.2,62.7 593.5,64.6 593.9,55.2 594.3,62.4 594.6,59.0 595.0,60.1 595.3,61.7 595.7,51.9 596.1,68.4 596.4,61.8 596.8,52.4 597.1,65.5 597.5,71.6 597.9,72.9 598.2,64.4 598.6,48.7 598.9,50.4 599.3,66.2 599.7,47.5 600.0,72.2 600.4,65.5 600.7,49.5 601.1,56.6 601.5,52.4 601.8,56.4 602.2,57.2 602.5,59.3 602.9,53.9 603.1,75.5 603.3,47.6 603.6,72.6 604.0,64.5 604.3,56.8 604.7,57.8 605.1,54.3 605.4,68.4 605.8,60.4 606.1,46.4 606.5,59.8 606.8,54.2 607.2,56.0 607.5,54.2 607.9,60.9 608.3,55.0 608.6,63.0 609.0,59.0 609.3,54.3 609.7,58.7 610.1,51.8 610.4,57.3 610.8,61.3 611.1,45.3 611.5,44.0 611.9,58.4 612.2,59.3 612.6,42.8 612.9,52.2 613.3,67.1 613.7,63.9 614.0,52.4 614.4,57.7 614.7,48.7 615.1,55.7 615.5,52.2 615.8,56.5 616.2,63.5 616.5,44.7 616.9,51.0 617.3,54.0 617.6,50.8 618.0,46.6 618.3,55.7 618.7,52.3 619.1,52.9 619.4,55.4 619.8,62.1 620.1,53.1 620.5,52.9 620.7,33.9 621.1,45.0 621.4,34.4 621.8,38.6 622.1,53.4 622.5,50.9 622.9,57.8 623.2,52.0 623.6,53.4 623.9,48.7 624.3,47.7 624.7,41.6 625.0,58.2 625.4,46.2 625.7,53.5 626.1,49.1 626.5,37.6 626.8,44.2 627.2,37.5 627.5,69.6 627.9,39.6 628.3,40.3 628.6,35.3 629.0,59.8 629.3,47.0 629.7,36.4 630.1,70.2 630.4,52.0 630.8,52.9 631.1,67.7 631.5,57.8 631.9,52.6 632.2,39.6 632.6,64.4 632.8,52.0 632.8,69.5 633.2,70.3 633.5,64.0 633.9,48.7 634.2,51.3 634.6,45.3 635.0,46.3 635.3,63.6 635.7,51.4 636.0,45.5 636.4,39.0 636.8,47.3 637.1,49.6 637.5,57.9 637.8,66.8 638.2,39.7 638.6,52.7 638.9,54.1 639.3,45.9 639.6,53.1 640.0,45.3 640.1,55.3 640.5,63.7 640.8,50.9 641.2,63.4 641.5,65.6 641.9,56.5 642.3,54.5 642.6,56.1 643.0,58.2 643.3,52.7 643.7,56.7 644.1,71.2 644.4,52.1 644.8,71.4 645.1,67.8 645.5,59.5 645.9,62.7 646.2,50.8 646.6,61.4 646.9,54.9 647.3,68.4 647.4,67.2 647.8,67.9 648.1,82.6 648.5,72.1 648.8,78.2 649.2,77.6 649.6,66.4 649.9,79.5 650.0,81.6 650.3,64.2 650.6,69.4 651.0,79.0 651.4,65.1 651.7,81.4 652.1,77.5 652.4,78.7 652.8,71.2 653.2,78.3 653.5,81.6 653.5,68.4 653.9,73.1 654.2,64.7 654.6,78.4 654.7,60.2 655.1,57.7 655.4,65.3 655.8,62.6 656.1,63.7 656.5,65.7 656.9,58.5 657.2,63.1 657.6,62.7 657.9,53.0 658.3,53.2 658.7,61.3 659.0,59.2 659.4,56.8 659.7,61.4 660.0,56.3 660.4,61.6 660.7,69.1 661.1,60.0 661.4,56.4 661.8,66.1 662.2,67.9 662.3,62.3 662.7,74.5 663.0,75.2 663.4,64.5 663.7,53.7 664.1,68.9 664.5,59.2 664.8,60.8 665.2,64.9 665.5,73.5 665.9,55.4 666.3,63.4 666.6,61.6 667.0,67.5 667.3,66.8 667.7,64.6 668.1,65.0 668.4,68.6 668.8,63.5 669.1,73.1 669.5,70.0 669.9,58.8 670.2,73.1 670.6,66.4 670.9,66.1 671.3,59.8 671.7,60.1 672.0,70.0 672.4,75.5 672.7,76.2 673.1,80.1 673.4,66.5 673.8,76.8 674.2,68.2 674.5,76.7 674.9,70.8 675.2,64.0 675.6,83.2 676.0,75.0 676.3,69.0 676.7,67.7 677.0,74.7 677.4,76.3 677.8,75.2 678.1,67.4 678.5,74.7 678.8,76.1 679.2,66.4 679.6,77.4 679.9,70.6 680.3,60.7 680.6,73.5 681.0,74.4 681.4,67.2 681.7,76.2 682.1,70.9 682.4,79.4 682.8,76.6 683.2,69.3 683.5,77.8 683.9,74.3 684.2,72.6 684.6,72.4 685.0,81.7 685.3,64.6 685.7,76.2 686.0,73.8 686.4,70.0 686.6,63.5 687.0,49.2 687.3,62.7 687.7,65.9 688.0,62.4 688.4,60.3 688.8,48.7 689.1,61.6 689.5,52.0 689.8,61.8 690.2,50.7 690.6,64.3 690.9,53.9 691.3,47.4 691.6,53.1 692.0,54.4 692.4,51.5 692.7,63.9 693.1,56.3 693.4,56.7 693.8,73.8 694.2,68.8 694.5,85.2 694.9,64.0 695.2,63.9 695.6,74.7 696.0,81.6 696.3,74.0 696.7,79.2 697.0,88.5 697.4,88.7 697.8,77.5 698.1,66.8 698.5,81.7 698.8,75.5 699.2,71.2 699.6,75.8 699.9,75.1 700.3,75.4 700.6,80.3 701.0,83.5 701.4,88.2 701.7,82.7 702.1,66.1 702.4,82.8 702.8,70.3 703.2,74.0 703.5,71.5 703.9,70.4 704.2,85.0 704.6,65.9 705.0,75.8 705.3,88.7 705.7,84.8 706.0,85.5 706.4,72.3 706.8,68.8 707.1,75.8 707.5,88.7 707.8,75.0 708.2,73.6 708.6,86.0 708.9,66.2 709.3,73.5 709.6,85.1 710.0,64.3 710.4,77.7 710.7,76.0 710.8,67.0 711.2,56.0 711.5,73.3 711.9,62.0 712.0,88.7 712.2,68.4 712.6,75.8 713.0,63.5 713.3,65.1 713.7,76.0 714.0,74.3 714.4,53.5 714.8,71.5 715.1,72.0 715.5,71.2 715.8,72.9 716.2,49.4 716.6,83.0 716.9,53.6 717.3,56.5 717.6,84.6 718.0,84.1 718.4,51.3 718.7,52.0 719.1,75.9 719.3,59.2 719.7,52.8 720.0,66.0 720.4,51.0 720.7,60.4 721.1,59.5 721.5,61.0 721.8,52.3 722.2,58.1 722.5,57.4 722.9,64.9 723.3,53.1 723.6,54.5 724.0,60.2 724.3,57.0 724.7,64.4 725.1,52.7 725.4,60.0 725.8,64.4 726.1,51.1 726.5,57.8 726.9,59.8 727.2,57.9 727.6,62.0 727.9,63.4 728.3,66.4 728.7,63.1 729.0,63.9 729.4,59.9 729.7,58.5 730.1,55.3 730.5,56.7 730.8,63.0 731.2,66.8 731.5,86.4 731.9,84.4 732.2,74.7 732.6,80.0 732.9,74.6 733.3,84.9 733.7,85.4 734.0,69.5 734.4,74.3 734.7,75.5 735.1,88.7 735.5,80.7 735.8,88.7 736.2,85.6 736.5,69.1 736.9,80.8 737.0,88.7 737.3,78.3 737.5,61.8 737.9,70.1 738.2,71.2 738.6,61.2 738.9,62.3 739.3,72.0 739.7,69.6 740.0,70.2 740.4,60.0 740.7,63.0 741.1,70.8 741.5,63.4 741.8,61.8 742.2,64.7 742.4,78.7 742.8,71.5 743.1,76.6 743.5,70.2 743.8,74.2 744.2,86.0 744.6,75.3 744.9,80.8 745.3,82.3 745.6,73.3 746.0,80.6 746.4,82.1 746.7,70.4 747.1,72.3 747.4,77.0 747.8,72.4 748.2,74.7 748.4,53.3 748.8,58.6 749.1,57.5 749.5,52.9 749.8,59.0 750.2,46.9 750.6,65.7 750.9,51.3 751.3,59.7 751.6,52.8 752.0,53.7 752.4,50.8 752.7,68.1 753.1,47.4 753.4,61.3 753.8,68.7 754.2,48.3 754.5,58.2 754.9,58.1 755.2,49.9 755.6,56.7 756.0,47.5 756.3,53.3 756.7,57.9 757.0,63.2 757.3,48.6 757.7,39.4 758.0,60.8 758.4,45.7 758.7,56.8 759.1,43.0 759.5,67.0 759.8,64.3 760.2,54.9 760.5,61.1 760.9,51.2 761.3,51.8 761.6,58.7 762.0,55.7 762.3,49.3 762.7,52.9 763.1,57.5 763.4,57.2 763.8,59.3 764.1,57.6 764.5,56.6 764.9,59.6 765.2,57.4 765.6,53.5 765.8,53.8 766.2,59.1 766.5,65.3 766.9,56.6 767.2,64.8 767.6,60.5 768.0,71.9 768.3,57.9 768.7,63.0 769.0,69.6 769.4,73.3 769.8,67.6 770.1,64.2 770.5,59.7 770.8,71.6 771.2,67.9 771.6,67.1 771.9,56.2 772.3,66.5 772.6,72.1 773.0,57.7 773.4,68.8 773.7,63.5 774.1,62.9 774.4,55.3 774.8,66.5 775.2,67.5 775.5,54.0 775.9,67.6 776.2,67.0 776.6,71.6 777.0,68.0 777.3,67.8 777.7,58.5 777.9,68.0 778.3,74.0 778.6,65.9 779.0,63.9 779.3,66.3 779.7,76.6 780.1,67.9 780.4,69.1 780.8,66.3 781.1,65.0 781.5,75.5 781.9,72.2 782.2,73.1 782.6,65.5 782.9,67.1 783.3,73.2 783.7,75.6 784.0,65.6 784.4,72.0 784.7,63.2 785.1,67.8 785.5,69.9 785.8,62.9 786.2,76.8 786.5,69.0 786.9,69.3 787.3,63.6 787.6,67.9 788.0,66.5 788.3,73.5 788.7,67.7 788.8,73.9 788.8,87.7 789.2,72.1 789.5,72.7 789.9,77.2 790.2,71.6 790.6,77.3 791.0,69.4 791.3,74.7 791.7,71.6 792.0,72.2 792.4,72.8 792.8,66.7 793.1,69.3 793.5,75.4 793.8,78.6 794.2,72.9 794.6,68.9 794.9,77.6 795.3,79.4 795.6,70.5 796.0,71.6 796.4,67.5 796.7,70.8 797.1,78.3 797.4,69.0 797.8,73.3 798.2,74.8 798.5,67.7 798.9,72.2 799.2,72.4 799.6,74.4 800.0,71.3 800.3,79.0 800.7,67.7 801.0,75.0 801.4,73.2 801.8,68.0 802.1,74.7 802.5,71.9 802.8,72.2 803.2,69.6 803.4,69.5 803.8,76.5 804.1,70.6 804.5,83.2 804.8,76.8 805.2,72.6 805.6,78.1 805.9,82.9 806.3,76.9 806.6,79.2 807.0,78.9 807.4,70.8 807.7,77.9 808.1,74.5 808.4,74.9 808.8,71.2 809.2,74.2 809.5,78.1 809.9,79.5 810.2,78.7 810.6,80.6 811.0,85.3 811.3,83.2 811.7,75.1 812.0,72.9 812.4,80.2 812.8,84.2 813.1,72.9 813.5,82.7 813.8,81.4 814.2,82.9 814.6,77.7 814.9,70.9 815.3,74.5 815.5,88.7 815.9,88.7 816.2,88.7 816.6,88.7 816.9,88.7 817.3,87.3 817.7,88.7 818.0,88.7 818.4,88.7 818.7,86.6 819.1,88.7 819.5,88.7 819.8,88.7 820.2,88.7 820.5,88.7 820.9,88.7 821.3,80.7 821.6,78.1 822.0,77.3 822.3,88.7 822.7,77.8 823.1,85.2 823.4,82.1 823.8,88.7 824.1,88.7 824.5,88.7 824.9,84.0 825.2,88.7 825.6,88.7 825.9,88.7 826.3,88.7 826.7,86.6 827.0,88.7 827.4,83.5 827.7,88.7 828.1,88.7 828.5,88.7 828.8,88.7 829.2,88.7 829.5,88.7 829.9,81.0 830.3,88.7 830.6,88.7 831.0,88.7 831.3,87.1 831.7,83.5 832.1,88.7 832.4,88.7 832.8,88.7 833.1,82.8 833.5,88.7 833.9,88.7 834.2,88.7 834.6,85.2 834.9,88.7 835.3,86.7 835.7,88.7 836.0,88.7 836.4,88.7 836.7,88.7 837.1,88.7 837.5,80.3 837.8,85.1 838.2,83.0 838.5,88.7 838.9,88.7 839.3,87.5 839.6,88.7 839.8,78.7 840.2,77.5 840.5,80.1 840.9,74.4 841.2,76.9 841.6,81.8 842.0,81.3 842.3,66.3 842.7,78.9 843.0,71.8 843.4,72.5 843.8,65.3 844.1,73.6 844.5,68.1 844.8,70.2 845.2,80.8 845.6,76.0 845.9,77.1 846.3,68.8 846.6,81.2 847.0,76.8 847.4,71.8 847.7,66.3 848.1,75.7 848.4,70.0 848.8,68.2 849.2,69.0 849.5,69.4 849.9,66.5 850.2,71.4 850.6,72.3 851.0,72.8 851.3,72.6 851.7,70.6 852.0,71.0 852.3,68.2 852.7,67.7 853.0,67.8 853.4,80.2 853.7,82.9 854.1,82.4 854.5,66.8 854.7,81.9 855.1,88.7 855.4,80.6 855.8,80.2 856.1,74.0 856.5,79.2 856.9,69.3 857.2,85.3 857.6,75.5 857.9,74.6 858.3,74.3 858.7,88.5 859.0,77.4 859.4,77.9 859.7,72.1 860.1,74.9 860.5,78.9 860.8,79.8 861.2,74.4 861.5,76.3 861.9,69.2 862.0,66.6 862.4,69.5 862.7,69.2 863.1,66.0 863.4,67.6 863.8,63.5 864.2,65.0 864.5,57.7 864.9,58.2 865.2,65.4 865.6,59.4 866.0,65.9 866.3,61.9 866.7,62.8 867.0,60.4 867.4,70.1 867.8,59.5 868.1,60.5 868.5,58.0 868.8,66.0 869.2,65.2 869.6,63.1 869.9,65.0 870.3,65.9 870.5,77.4 870.9,62.7 871.0,88.9 871.2,70.2 871.6,75.1 871.9,60.1 872.3,67.9 872.7,70.8 873.0,67.8 873.4,78.2 873.7,71.7 874.1,66.1 874.5,75.1 874.8,75.6 875.2,73.1 875.5,69.7 875.9,63.0 876.3,69.3 876.6,69.6 877.0,74.4 877.3,72.7 877.7,71.1 878.1,69.7 878.4,61.9 878.8,69.4 879.1,69.3 879.5,72.3 879.9,71.6 880.2,64.2 880.6,74.0 880.9,63.4 881.3,71.4 881.6,64.0 882.0,62.8 882.4,64.3 882.7,63.8 883.1,55.5 883.4,65.8 883.8,57.1 884.2,62.3 884.5,63.3 884.9,56.2 885.2,73.2 885.6,64.2 886.0,69.7 886.3,66.1 886.7,64.2 887.0,63.2 887.4,69.2 887.8,59.6 888.1,59.0 888.5,67.3 888.8,70.6 889.2,65.6 889.6,63.7 889.9,72.5 890.3,70.1 890.6,67.9 890.9,87.7 891.0,73.8 891.4,67.4 891.7,57.6 892.1,64.8 892.4,64.1 892.8,66.8 893.2,67.6 893.5,75.0 893.9,70.7 894.2,63.4 894.6,57.8 895.0,66.9 895.3,68.8 895.7,71.0 896.0,72.5 896.4,62.0 896.8,60.7 897.1,59.5 897.5,55.7 897.8,62.4 898.2,56.9 898.4,69.0 898.8,73.9 899.1,69.2 899.5,56.3 899.8,69.6 900.2,61.8 900.6,70.5 900.9,56.5 901.3,65.9 901.6,67.7 902.0,66.1 902.4,69.3 902.7,57.6 903.1,75.0 903.4,66.0 903.8,66.0 904.2,75.2 904.5,68.1 904.9,59.3 905.2,66.8 905.6,67.3 906.0,59.2 906.3,71.5 906.7,66.5 907.0,64.1 907.4,56.6 907.8,62.6 908.1,60.9 908.5,60.9 908.8,64.5 909.2,65.7 909.6,72.2 909.9,65.9 910.3,67.8 910.6,57.7 911.0,63.3 911.4,64.1 911.7,60.9 912.1,62.3 912.4,69.7 912.8,58.3 913.2,70.5 913.5,62.8 913.9,62.7 914.2,70.2 914.6,59.5 915.0,64.5 915.3,58.0 915.7,56.3 916.0,62.0 916.4,72.3 916.8,65.2 917.1,66.6 917.5,58.4 917.8,73.9 918.2,57.6 918.4,86.5 918.5,64.7 918.9,66.4 919.2,61.1 919.6,70.7 920.0,58.3 920.3,58.0 920.7,68.5 921.0,73.6 921.4,69.6 921.8,59.2 922.1,69.0 922.5,65.5 922.8,60.8 923.2,63.8 923.6,63.2 923.9,67.4 924.3,70.3 924.6,65.4 925.0,59.4 925.4,74.0 925.7,71.3 926.1,66.5 926.4,67.5 926.8,66.1 927.2,64.9 927.5,63.8 927.9,59.8 928.2,65.0 928.6,63.5 929.0,60.8 929.3,68.6 929.7,65.2 930.0,69.7 930.4,66.2 930.7,70.7 931.1,69.9 931.4,66.7 931.8,68.2 932.2,64.9 932.5,69.7 932.9,68.9 933.2,65.5 933.6,64.8 934.0,67.9 934.3,72.1 934.7,65.1 935.0,67.2"/>
<line x1="195.8" y1="89.4" x2="206.0" y2="89.4" stroke="#ff0000" stroke-width="1.15"/>
<line x1="208.5" y1="89.4" x2="211.0" y2="89.4" stroke="#ff0000" stroke-width="1.15"/>
<line x1="214.0" y1="89.4" x2="215.8" y2="89.4" stroke="#ff0000" stroke-width="1.15"/>
<line x1="217.0" y1="89.4" x2="222.5" y2="89.4" stroke="#ff0000" stroke-width="1.15"/>
<line x1="224.3" y1="89.4" x2="242.0" y2="89.4" stroke="#ff0000" stroke-width="1.15"/>
<line x1="277.0" y1="89.4" x2="286.5" y2="89.4" stroke="#ff0000" stroke-width="1.15"/>
<line x1="500.8" y1="89.4" x2="508.1" y2="89.4" stroke="#ff0000" stroke-width="1.15"/>
<line x1="509.9" y1="89.4" x2="525.7" y2="89.4" stroke="#ff0000" stroke-width="1.15"/>
<path d="M88.6 30.4h2.6M91.0 34.9h2.6M92.2 35.5h2.6M95.2 46.4h2.6M98.9 48.6h2.6M99.5 52.5h2.6M101.9 30.4h2.6M103.7 32.5h2.6M105.5 39.4h2.6M107.4 53.1h2.6M109.8 31.6h2.6M111.6 54.3h2.6M112.8 47.4h2.6M116.5 43.4h2.6M120.1 39.4h2.6M122.5 25.5h2.6M125.0 33.3h2.6M126.8 36.5h2.6M129.8 46.4h2.6M131.6 63.4h2.6M134.7 66.4h2.6M136.5 60.7h2.6M138.9 62.4h2.6M142.0 54.3h2.6M142.6 63.4h2.6M146.2 56.4h2.6M145.6 60.4h2.6M149.8 70.3h2.6M150.4 73.3h2.6M152.9 63.4h2.6M156.5 70.3h2.6M157.7 69.5h2.6M161.4 65.5h2.6M163.8 46.4h2.6M163.8 53.3h2.6M166.2 58.3h2.6M168.7 60.4h2.6M170.5 58.3h2.6M172.9 63.4h2.6M173.5 56.4h2.6M177.8 67.3h2.6M180.8 70.3h2.6M182.6 68.5h2.6M180.5 70.4h2.6M182.9 68.3h2.6M185.4 69.5h2.6M187.8 72.5h2.6M189.6 74.3h2.6M191.4 71.3h2.6M192.7 73.1h2.6M205.4 74.3h2.6M209.6 77.4h2.6M210.5 79.4h2.6M214.7 78.3h2.6M221.8 82.3h2.6M223.8 84.3h2.6M241.8 68.3h2.6M243.6 67.3h2.6M244.8 69.5h2.6M248.5 72.5h2.6M249.1 74.7h2.6M250.9 75.5h2.6M252.7 74.3h2.6M253.9 79.4h2.6M257.6 64.6h2.6M258.2 66.4h2.6M260.6 72.5h2.6M263.7 64.4h2.6M264.9 60.4h2.6M266.7 68.3h2.6M268.5 56.4h2.6M269.7 61.3h2.6M272.8 73.1h2.6M274.0 70.3h2.6M274.3 70.1h2.6M285.2 73.1h2.6M285.8 66.4h2.6M288.9 63.4h2.6M290.7 56.1h2.6M292.5 50.4h2.6M293.7 58.5h2.6M295.5 51.3h2.6M298.6 58.3h2.6M299.8 62.4h2.6M302.8 61.6h2.6M303.4 44.6h2.6M305.9 46.4h2.6M307.7 43.4h2.6M310.7 35.5h2.6M312.5 41.6h2.6M313.7 44.6h2.6M315.6 33.3h2.6M316.8 32.5h2.6M319.8 46.4h2.6M321.0 40.3h2.6M323.5 46.4h2.6M325.9 56.1h2.6M326.5 52.5h2.6M329.5 42.5h2.6M331.7 41.6h2.6M333.8 32.5h2.6M335.6 29.4h2.6M336.8 30.4h2.6M338.6 44.6h2.6M340.4 32.5h2.6M342.9 44.6h2.6M344.7 34.3h2.6M346.5 31.6h2.6M348.9 41.6h2.6M350.8 37.7h2.6M353.6 28.4h2.6M353.8 37.7h2.6M356.8 35.5h2.6M358.7 41.6h2.6M361.7 32.5h2.6M362.0 34.3h2.6M363.5 46.4h2.6M366.5 48.6h2.6M367.8 37.7h2.6M370.8 53.3h2.6M372.6 32.5h2.6M373.2 38.5h2.6M370.5 53.1h2.6M372.3 32.5h2.6M373.6 38.5h2.6M376.6 36.5h2.6M378.4 30.4h2.6M379.6 18.5h2.6M381.4 21.5h2.6M384.5 30.4h2.6M386.7 27.6h2.6M387.5 17.3h2.6M390.5 44.6h2.6M392.4 41.6h2.6M393.6 16.3h2.6M396.6 32.5h2.6M397.8 32.5h2.6M399.6 42.2h2.6M401.5 38.5h2.6M402.7 41.3h2.6M405.7 51.3h2.6M408.7 54.9h2.6M412.4 48.6h2.6M413.0 59.5h2.6M415.4 49.4h2.6M416.6 47.4h2.6M418.5 53.3h2.6M421.5 57.3h2.6M423.9 53.3h2.6M424.5 60.4h2.6M427.6 37.3h2.6M428.8 52.5h2.6M431.8 49.4h2.6M433.6 58.3h2.6M435.4 49.4h2.6M436.7 53.3h2.6M437.9 57.3h2.6M441.5 51.3h2.6M441.5 60.4h2.6M443.9 58.3h2.6M446.4 69.5h2.6M448.8 63.4h2.6M449.4 60.4h2.6M452.4 55.5h2.6M453.7 53.3h2.6M456.7 47.4h2.6M459.7 50.4h2.6M461.5 67.3h2.6M464.6 59.5h2.6M465.8 66.4h2.6M468.2 65.5h2.6M464.3 59.5h2.6M465.5 66.4h2.6M468.6 65.5h2.6M470.4 67.3h2.6M472.8 53.3h2.6M473.4 65.5h2.6M475.2 73.3h2.6M478.3 70.3h2.6M479.5 61.3h2.6M482.5 59.5h2.6M484.6 56.4h2.6M485.5 60.4h2.6M486.5 72.5h2.6M491.6 74.3h2.6M492.8 86.5h2.6M494.6 80.4h2.6M495.9 82.5h2.6M498.9 83.4h2.6M507.4 71.3h2.6M508.6 84.3h2.6M525.6 60.4h2.6M529.8 59.4h2.6M530.4 48.6h2.6M531.7 57.3h2.6M533.5 65.5h2.6M536.5 71.3h2.6M539.5 60.4h2.6M540.8 41.3h2.6M542.6 31.6h2.6M544.4 40.3h2.6M545.6 48.6h2.6M549.9 39.4h2.6M553.5 28.2h2.6M555.3 31.6h2.6M558.4 36.5h2.6M559.6 32.5h2.6M562.6 39.4h2.6M563.2 37.3h2.6M559.3 32.5h2.6M559.3 36.5h2.6M562.9 39.4h2.6M563.6 37.3h2.6M565.4 28.4h2.6M567.8 39.4h2.6M570.2 46.4h2.6M572.7 42.5h2.6M574.5 37.3h2.6M576.3 33.3h2.6M577.5 25.5h2.6M580.5 24.3h2.6M580.5 28.4h2.6M584.8 38.5h2.6M585.4 36.5h2.6M588.4 32.5h2.6M588.4 36.5h2.6M592.7 41.3h2.6M593.9 46.4h2.6M595.7 40.3h2.6M596.9 44.3h2.6M600.0 41.8h2.6M604.2 36.5h2.6M606.6 41.3h2.6M608.5 33.3h2.6M610.9 41.3h2.6M613.9 41.3h2.6M614.5 40.3h2.6M618.2 35.5h2.6M621.8 23.3h2.6M623.6 32.5h2.6M624.8 28.4h2.6M626.7 29.4h2.6M628.8 26.4h2.6M629.7 42.5h2.6M633.7 30.4h2.6M634.5 40.3h2.6M636.4 45.4h2.6M637.6 56.4h2.6M640.6 46.4h2.6M642.4 58.5h2.6M644.9 63.4h2.6M647.3 65.5h2.6M650.9 63.4h2.6M653.4 57.3h2.6M654.6 51.3h2.6M655.8 48.6h2.6M654.9 48.6h2.6M654.9 51.3h2.6M659.8 54.3h2.6M662.2 49.4h2.6M663.4 52.5h2.6M665.8 57.3h2.6M667.7 52.5h2.6M669.5 63.4h2.6M671.9 58.5h2.6M673.7 57.3h2.6M675.5 60.4h2.6M677.4 59.5h2.6M680.4 60.4h2.6M680.4 68.3h2.6M684.6 68.3h2.6M686.5 51.3h2.6M688.9 48.6h2.6M689.5 39.4h2.6M690.7 49.4h2.6M692.5 64.4h2.6M696.8 66.4h2.6M697.4 61.3h2.6M699.8 71.3h2.6M701.6 63.4h2.6M702.9 66.4h2.6M705.9 67.3h2.6M706.5 89.5h2.6M710.7 60.4h2.6M711.7 47.4h2.6M713.8 53.3h2.6M715.0 56.4h2.6M717.4 46.4h2.6M719.8 53.3h2.6M721.7 51.3h2.6M722.9 47.4h2.6M724.7 52.5h2.6M727.5 46.4h2.6M727.7 49.4h2.6M729.5 60.4h2.6M731.4 73.3h2.6M736.2 65.5h2.6M737.4 58.5h2.6M738.7 55.3h2.6M741.1 66.4h2.6M742.9 68.3h2.6M743.5 72.5h2.6M747.8 46.4h2.6M749.0 51.3h2.6M750.8 41.3h2.6M752.6 41.3h2.6M750.5 41.3h2.6M752.3 41.3h2.6M754.8 39.4h2.6M757.8 34.3h2.6M757.8 41.3h2.6M759.6 46.4h2.6M762.7 53.3h2.6M764.5 48.6h2.6M766.3 48.6h2.6M768.1 52.5h2.6M769.9 52.5h2.6M771.8 53.3h2.6M774.8 49.4h2.6M777.8 56.4h2.6M779.6 60.4h2.6M782.7 62.4h2.6M785.7 60.4h2.6M788.7 68.3h2.6M790.6 65.5h2.6M792.4 63.4h2.6M796.6 63.4h2.6M797.9 65.5h2.6M799.7 67.3h2.6M800.9 69.5h2.6M803.3 68.5h2.6M805.7 68.5h2.6M808.8 64.4h2.6M810.6 70.3h2.6M813.0 71.3h2.6M814.8 89.5h2.6M816.7 80.4h2.6M819.7 77.4h2.6M821.5 77.4h2.6M823.9 74.3h2.6M824.9 72.5h2.6M825.8 89.5h2.6M829.8 79.4h2.6M829.8 84.3h2.6M832.4 72.5h2.6M833.7 77.4h2.6M837.9 74.3h2.6M839.7 68.3h2.6M840.9 61.3h2.6M842.8 64.4h2.6M845.2 61.3h2.6M847.6 69.5h2.6M848.2 62.4h2.6M844.3 61.3h2.6M848.6 62.4h2.6M847.9 69.5h2.6M851.6 46.4h2.6M851.6 51.3h2.6M854.6 63.4h2.6M857.0 65.5h2.6M858.9 65.5h2.6M860.7 61.3h2.6M861.7 53.3h2.6M863.7 57.3h2.6M866.8 59.5h2.6M868.6 61.3h2.6M871.0 63.4h2.6M874.6 57.3h2.6M874.6 59.5h2.6M878.9 57.3h2.6M878.9 60.4h2.6M881.9 58.3h2.6M883.7 55.3h2.6M886.8 58.3h2.6M888.6 56.4h2.6M890.4 60.4h2.6M892.9 43.4h2.6M892.9 49.4h2.6M896.5 51.3h2.6M897.1 55.3h2.6M900.7 53.3h2.6M900.7 56.4h2.6M903.8 54.3h2.6M905.6 57.3h2.6M907.4 55.3h2.6M909.2 58.3h2.6M911.1 58.3h2.6M912.6 50.3h2.6M915.3 56.4h2.6M917.7 56.4h2.6M919.5 63.4h2.6M921.4 56.4h2.6M922.6 55.3h2.6M925.6 53.3h2.6M927.4 49.4h2.6M928.7 56.4h2.6M931.7 56.4h2.6" stroke="#ff0000" stroke-width="1.3" fill="none"/>
<path d="M121 103h2v1h-2zM104 104h2v1h-2zM110 107h2v1h-2zM128 104h2v1h-2zM127 102h2v1h-2zM107 104h2v1h-2zM131 100h2v1h-2zM95 106h2v1h-2zM129 104h2v1h-2zM103 109h2v1h-2zM128 102h2v1h-2zM97 110h2v1h-2zM105 103h2v1h-2zM128 102h2v1h-2zM106 107h2v1h-2zM99 103h2v1h-2zM105 105h2v1h-2zM89 108h2v1h-2zM122 102h2v1h-2zM118 105h2v1h-2zM96 103h2v1h-2zM118 105h2v1h-2zM101 104h2v1h-2zM126 105h2v1h-2zM98 108h2v1h-2zM114 103h2v1h-2zM90 107h2v1h-2zM117 105h2v1h-2zM111 102h2v1h-2zM98 106h2v1h-2zM107 105h2v1h-2zM128 100h2v1h-2zM132 100h2v1h-2zM126 101h2v1h-2zM114 104h2v1h-2zM90 112h2v1h-2zM124 101h2v1h-2zM123 103h2v1h-2zM132 99h2v1h-2zM105 104h2v1h-2zM116 106h2v1h-2zM125 103h2v1h-2zM105 109h2v1h-2zM93 106h2v1h-2zM122 103h2v1h-2zM132 99h2v1h-2zM109 103h2v1h-2zM88 105h2v1h-2zM92 107h2v1h-2zM107 106h2v1h-2zM101 109h2v1h-2zM111 109h2v1h-2zM96 108h2v1h-2zM110 104h2v1h-2zM126 100h2v1h-2zM127 101h2v1h-2zM103 107h2v1h-2zM113 103h2v1h-2zM92 113h2v1h-2zM105 103h2v1h-2zM117 104h2v1h-2zM103 105h2v1h-2zM126 101h2v1h-2zM107 110h2v1h-2zM104 105h2v1h-2zM95 109h2v1h-2zM118 103h2v1h-2zM106 104h2v1h-2zM123 103h2v1h-2zM125 102h2v1h-2zM121 100h2v1h-2zM98 112h2v1h-2zM118 105h2v1h-2zM110 105h2v1h-2zM97 104h2v1h-2zM117 105h2v1h-2zM100 108h2v1h-2zM94 109h2v1h-2zM96 108h2v1h-2zM102 107h2v1h-2zM94 108h2v1h-2zM115 102h2v1h-2zM102 108h2v1h-2zM112 106h2v1h-2zM123 103h2v1h-2zM98 107h2v1h-2zM125 103h2v1h-2zM122 102h2v1h-2zM108 109h2v1h-2zM125 104h2v1h-2zM93 109h2v1h-2zM90 113h2v1h-2zM131 103h2v1h-2zM100 110h2v1h-2zM96 111h2v1h-2zM111 101h2v1h-2zM128 102h2v1h-2zM125 104h2v1h-2zM112 108h2v1h-2zM97 111h2v1h-2zM103 102h2v1h-2zM103 103h2v1h-2zM91 110h2v1h-2zM93 105h2v1h-2zM101 105h2v1h-2zM129 104h2v1h-2zM127 105h2v1h-2zM108 108h2v1h-2zM101 111h2v1h-2zM124 104h2v1h-2zM98 104h2v1h-2zM129 102h2v1h-2zM115 107h2v1h-2zM94 110h2v1h-2zM109 108h2v1h-2zM108 103h2v1h-2zM131 100h2v1h-2zM121 106h2v1h-2zM99 109h2v1h-2zM106 104h2v1h-2zM98 111h2v1h-2zM104 106h2v1h-2zM110 101h2v1h-2zM122 105h2v1h-2zM127 101h2v1h-2zM97 106h2v1h-2zM121 104h2v1h-2zM106 106h2v1h-2zM95 112h2v1h-2zM109 105h2v1h-2zM123 101h2v1h-2zM120 102h2v1h-2zM124 100h2v1h-2zM100 108h2v1h-2zM110 104h2v1h-2zM114 102h2v1h-2zM108 102h2v1h-2zM124 101h2v1h-2zM125 103h2v1h-2zM115 105h2v1h-2zM94 111h2v1h-2zM101 110h2v1h-2zM123 104h2v1h-2zM124 102h2v1h-2zM118 107h2v1h-2zM96 104h2v1h-2zM106 106h2v1h-2zM95 105h2v1h-2zM127 102h2v1h-2zM95 105h2v1h-2zM114 102h2v1h-2zM109 106h2v1h-2zM108 106h2v1h-2zM125 99h2v1h-2zM129 100h2v1h-2zM90 111h2v1h-2zM113 105h2v1h-2zM98 110h2v1h-2zM102 109h2v1h-2zM98 108h2v1h-2zM117 103h2v1h-2zM109 102h2v1h-2zM117 105h2v1h-2zM95 108h2v1h-2zM121 101h2v1h-2zM125 105h2v1h-2zM90 106h2v1h-2zM92 106h2v1h-2zM92 108h2v1h-2zM99 105h2v1h-2zM109 104h2v1h-2zM123 104h2v1h-2zM93 105h2v1h-2zM88 107h2v1h-2zM93 110h2v1h-2zM123 106h2v1h-2zM97 103h2v1h-2zM122 103h2v1h-2zM129 101h2v1h-2zM102 103h2v1h-2zM130 102h2v1h-2zM108 105h2v1h-2zM122 105h2v1h-2zM109 103h2v1h-2zM106 109h2v1h-2zM106 107h2v1h-2zM113 104h2v1h-2zM114 103h2v1h-2zM113 108h2v1h-2zM92 107h2v1h-2zM127 105h2v1h-2zM89 110h2v1h-2zM116 107h2v1h-2zM109 102h2v1h-2zM101 109h2v1h-2zM120 101h2v1h-2zM117 105h2v1h-2zM117 100h2v1h-2zM108 104h2v1h-2zM115 103h2v1h-2zM99 101h2v1h-2zM102 102h2v1h-2zM103 101h2v1h-2zM115 99h2v1h-2zM113 99h2v1h-2zM118 99h2v1h-2zM113 100h2v1h-2zM132 112h2v1h-2zM136 112h2v1h-2zM132 114h2v1h-2zM134 121h2v1h-2zM134 112h2v1h-2zM133 121h2v1h-2zM134 116h2v1h-2zM139 112h2v1h-2zM138 110h2v1h-2zM132 106h2v1h-2zM135 119h2v1h-2zM133 112h2v1h-2zM138 110h2v1h-2zM132 114h2v1h-2zM135 120h2v1h-2zM139 109h2v1h-2zM136 112h2v1h-2zM131 112h2v1h-2zM139 110h2v1h-2zM136 117h2v1h-2zM131 120h2v1h-2zM132 110h2v1h-2zM138 106h2v1h-2zM134 107h2v1h-2zM135 106h2v1h-2zM132 109h2v1h-2zM143 99h2v1h-2zM150 103h2v1h-2zM147 105h2v1h-2zM164 100h2v1h-2zM153 105h2v1h-2zM141 105h2v1h-2zM144 106h2v1h-2zM163 103h2v1h-2zM191 99h2v1h-2zM142 104h2v1h-2zM174 104h2v1h-2zM155 102h2v1h-2zM150 102h2v1h-2zM156 103h2v1h-2zM157 101h2v1h-2zM178 99h2v1h-2zM187 102h2v1h-2zM152 99h2v1h-2zM170 103h2v1h-2zM182 101h2v1h-2zM164 106h2v1h-2zM155 107h2v1h-2zM193 107h2v1h-2zM196 100h2v1h-2zM188 103h2v1h-2zM151 107h2v1h-2zM178 105h2v1h-2zM173 99h2v1h-2zM191 100h2v1h-2zM154 103h2v1h-2zM150 102h2v1h-2zM182 99h2v1h-2zM179 99h2v1h-2zM168 104h2v1h-2zM180 99h2v1h-2zM150 106h2v1h-2zM162 102h2v1h-2zM161 104h2v1h-2zM184 104h2v1h-2zM163 103h2v1h-2zM170 100h2v1h-2zM196 106h2v1h-2zM186 107h2v1h-2zM167 105h2v1h-2zM153 105h2v1h-2zM182 106h2v1h-2zM189 106h2v1h-2zM155 105h2v1h-2zM167 101h2v1h-2zM161 105h2v1h-2zM190 105h2v1h-2zM179 100h2v1h-2zM148 103h2v1h-2zM151 101h2v1h-2zM145 100h2v1h-2zM182 100h2v1h-2zM190 101h2v1h-2zM190 101h2v1h-2zM203 101h2v1h-2zM200 101h2v1h-2zM205 98h2v1h-2zM212 101h2v1h-2zM200 104h2v1h-2zM203 100h2v1h-2zM200 99h2v1h-2zM224 117h2v1h-2zM219 112h2v1h-2zM213 123h2v1h-2zM215 123h2v1h-2zM228 110h2v1h-2zM227 108h2v1h-2zM224 121h2v1h-2zM223 116h2v1h-2zM226 110h2v1h-2zM219 112h2v1h-2zM216 111h2v1h-2zM223 117h2v1h-2zM225 118h2v1h-2zM221 122h2v1h-2zM226 117h2v1h-2zM214 122h2v1h-2zM215 109h2v1h-2zM214 119h2v1h-2zM229 118h2v1h-2zM222 123h2v1h-2zM225 115h2v1h-2zM218 120h2v1h-2zM214 110h2v1h-2zM221 121h2v1h-2zM212 119h2v1h-2zM228 110h2v1h-2zM210 116h2v1h-2zM215 123h2v1h-2zM230 115h2v1h-2zM226 118h2v1h-2zM211 123h2v1h-2zM211 109h2v1h-2zM217 108h2v1h-2zM218 114h2v1h-2zM229 114h2v1h-2zM227 120h2v1h-2zM221 112h2v1h-2zM214 116h2v1h-2zM216 118h2v1h-2zM219 113h2v1h-2zM221 123h2v1h-2zM211 113h2v1h-2zM211 110h2v1h-2zM212 113h2v1h-2zM223 115h2v1h-2zM225 116h2v1h-2zM220 114h2v1h-2zM211 112h2v1h-2zM215 114h2v1h-2zM212 114h2v1h-2zM217 113h2v1h-2zM217 110h2v1h-2zM222 116h2v1h-2zM220 110h2v1h-2zM220 116h2v1h-2zM226 115h2v1h-2zM212 116h2v1h-2zM221 111h2v1h-2zM225 116h2v1h-2zM224 111h2v1h-2zM220 112h2v1h-2zM216 115h2v1h-2zM220 112h2v1h-2zM219 117h2v1h-2zM219 117h2v1h-2zM219 117h2v1h-2zM212 113h2v1h-2zM219 115h2v1h-2zM225 114h2v1h-2zM218 114h2v1h-2zM219 115h2v1h-2zM225 109h2v1h-2zM216 116h2v1h-2zM212 116h2v1h-2zM212 115h2v1h-2zM223 111h2v1h-2zM217 111h2v1h-2zM221 114h2v1h-2zM220 112h2v1h-2zM220 117h2v1h-2zM223 117h2v1h-2zM215 113h2v1h-2zM217 112h2v1h-2zM223 111h2v1h-2zM219 116h2v1h-2zM225 109h2v1h-2zM215 113h2v1h-2zM225 110h2v1h-2zM223 112h2v1h-2zM250 107h2v1h-2zM228 101h2v1h-2zM232 100h2v1h-2zM239 105h2v1h-2zM252 99h2v1h-2zM262 103h2v1h-2zM231 106h2v1h-2zM263 100h2v1h-2zM268 106h2v1h-2zM235 98h2v1h-2zM265 106h2v1h-2zM229 106h2v1h-2zM261 104h2v1h-2zM263 108h2v1h-2zM240 106h2v1h-2zM268 101h2v1h-2zM256 105h2v1h-2zM264 104h2v1h-2zM237 101h2v1h-2zM250 100h2v1h-2zM265 107h2v1h-2zM236 105h2v1h-2zM256 99h2v1h-2zM261 106h2v1h-2zM239 99h2v1h-2zM238 106h2v1h-2zM246 106h2v1h-2zM232 99h2v1h-2zM241 107h2v1h-2zM232 99h2v1h-2zM260 99h2v1h-2zM256 99h2v1h-2zM236 105h2v1h-2zM265 102h2v1h-2zM246 99h2v1h-2zM240 101h2v1h-2zM261 105h2v1h-2zM261 103h2v1h-2zM257 100h2v1h-2zM243 101h2v1h-2zM238 105h2v1h-2zM235 101h2v1h-2zM238 107h2v1h-2zM254 103h2v1h-2zM242 107h2v1h-2zM268 103h2v1h-2zM251 107h2v1h-2zM236 101h2v1h-2zM229 103h2v1h-2zM260 100h2v1h-2zM245 108h2v1h-2zM247 102h2v1h-2zM264 107h2v1h-2zM242 99h2v1h-2zM254 105h2v1h-2zM268 105h2v1h-2zM239 103h2v1h-2zM238 103h2v1h-2zM246 107h2v1h-2zM267 107h2v1h-2zM247 108h2v1h-2zM231 107h2v1h-2zM254 107h2v1h-2zM244 108h2v1h-2zM226 106h2v1h-2zM263 102h2v1h-2zM263 100h2v1h-2zM260 103h2v1h-2zM244 100h2v1h-2zM262 105h2v1h-2zM229 108h2v1h-2zM235 102h2v1h-2zM244 104h2v1h-2zM266 107h2v1h-2zM254 102h2v1h-2zM230 99h2v1h-2zM249 104h2v1h-2zM245 108h2v1h-2zM244 102h2v1h-2zM244 100h2v1h-2zM268 104h2v1h-2zM250 102h2v1h-2zM236 101h2v1h-2zM248 103h2v1h-2zM270 104h2v1h-2zM234 99h2v1h-2zM232 102h2v1h-2zM261 107h2v1h-2zM236 106h2v1h-2zM245 103h2v1h-2zM249 99h2v1h-2zM228 105h2v1h-2zM257 102h2v1h-2zM268 106h2v1h-2zM239 99h2v1h-2zM250 105h2v1h-2zM235 99h2v1h-2zM247 99h2v1h-2zM259 104h2v1h-2zM238 103h2v1h-2zM235 100h2v1h-2zM233 106h2v1h-2zM246 105h2v1h-2zM241 106h2v1h-2zM252 105h2v1h-2zM243 104h2v1h-2zM233 108h2v1h-2zM256 103h2v1h-2zM254 99h2v1h-2zM240 101h2v1h-2zM264 98h2v1h-2zM245 107h2v1h-2zM261 105h2v1h-2zM239 101h2v1h-2zM257 101h2v1h-2zM258 102h2v1h-2zM260 104h2v1h-2zM260 104h2v1h-2zM244 104h2v1h-2zM230 104h2v1h-2zM231 102h2v1h-2zM244 103h2v1h-2zM241 100h2v1h-2zM259 102h2v1h-2zM258 101h2v1h-2zM231 103h2v1h-2zM238 101h2v1h-2zM230 100h2v1h-2zM255 103h2v1h-2zM254 101h2v1h-2zM257 102h2v1h-2zM237 102h2v1h-2zM252 103h2v1h-2zM237 100h2v1h-2zM243 99h2v1h-2zM243 103h2v1h-2zM251 99h2v1h-2zM257 99h2v1h-2zM258 99h2v1h-2zM233 100h2v1h-2zM249 100h2v1h-2zM263 104h2v1h-2zM240 103h2v1h-2zM256 102h2v1h-2zM239 104h2v1h-2zM266 98h2v1h-2zM242 100h2v1h-2zM237 101h2v1h-2zM264 98h2v1h-2zM261 100h2v1h-2zM230 104h2v1h-2zM240 100h2v1h-2zM234 101h2v1h-2zM234 99h2v1h-2zM239 102h2v1h-2zM246 100h2v1h-2zM249 103h2v1h-2zM257 100h2v1h-2zM264 103h2v1h-2zM251 101h2v1h-2zM242 99h2v1h-2zM263 102h2v1h-2zM233 104h2v1h-2zM263 99h2v1h-2zM230 105h2v1h-2zM229 116h2v1h-2zM227 110h2v1h-2zM229 104h2v1h-2zM229 109h2v1h-2zM232 104h2v1h-2zM230 101h2v1h-2zM227 103h2v1h-2zM226 111h2v1h-2zM226 116h2v1h-2zM226 112h2v1h-2zM231 103h2v1h-2zM227 115h2v1h-2zM228 118h2v1h-2zM103 166h2v1h-2zM109 165h2v1h-2zM110 171h2v1h-2zM128 163h2v1h-2zM131 154h2v1h-2zM131 168h2v1h-2zM130 164h2v1h-2zM128 172h2v1h-2zM128 168h2v1h-2zM172 168h2v1h-2zM170 169h2v1h-2zM173 166h2v1h-2zM181 168h2v1h-2zM175 169h2v1h-2zM176 168h2v1h-2zM164 166h2v1h-2zM161 166h2v1h-2zM178 171h2v1h-2zM158 173h2v1h-2zM182 173h2v1h-2zM142 171h2v1h-2zM172 170h2v1h-2zM139 172h2v1h-2zM159 170h2v1h-2zM176 168h2v1h-2zM140 172h2v1h-2zM151 166h2v1h-2zM145 173h2v1h-2zM173 167h2v1h-2zM145 172h2v1h-2zM169 170h2v1h-2zM145 169h2v1h-2zM182 166h2v1h-2zM158 166h2v1h-2zM184 166h2v1h-2zM182 172h2v1h-2zM172 166h2v1h-2zM170 169h2v1h-2zM161 167h2v1h-2zM162 172h2v1h-2zM145 172h2v1h-2zM158 167h2v1h-2zM150 169h2v1h-2zM168 170h2v1h-2zM179 169h2v1h-2zM162 173h2v1h-2zM148 166h2v1h-2zM154 168h2v1h-2zM144 169h2v1h-2zM140 172h2v1h-2zM161 172h2v1h-2zM171 171h2v1h-2zM173 168h2v1h-2zM172 167h2v1h-2zM164 170h2v1h-2zM174 167h2v1h-2zM154 172h2v1h-2zM176 173h2v1h-2zM144 167h2v1h-2zM143 171h2v1h-2zM173 170h2v1h-2zM174 169h2v1h-2zM164 172h2v1h-2zM168 170h2v1h-2zM166 169h2v1h-2zM173 170h2v1h-2zM144 169h2v1h-2zM158 169h2v1h-2zM164 168h2v1h-2zM156 169h2v1h-2zM156 173h2v1h-2zM143 166h2v1h-2zM172 168h2v1h-2zM159 170h2v1h-2zM155 167h2v1h-2zM139 172h2v1h-2zM182 168h2v1h-2zM160 168h2v1h-2zM141 172h2v1h-2zM177 167h2v1h-2zM150 171h2v1h-2zM175 169h2v1h-2zM156 167h2v1h-2zM175 172h2v1h-2zM178 166h2v1h-2zM166 173h2v1h-2zM171 169h2v1h-2zM145 166h2v1h-2zM172 166h2v1h-2zM176 170h2v1h-2zM160 172h2v1h-2zM181 170h2v1h-2zM143 170h2v1h-2zM158 167h2v1h-2zM181 171h2v1h-2zM144 167h2v1h-2zM154 170h2v1h-2zM153 169h2v1h-2zM176 167h2v1h-2zM172 168h2v1h-2zM182 173h2v1h-2zM154 170h2v1h-2zM144 169h2v1h-2zM167 170h2v1h-2zM154 166h2v1h-2zM144 170h2v1h-2zM146 168h2v1h-2zM167 172h2v1h-2zM162 167h2v1h-2zM165 168h2v1h-2zM174 167h2v1h-2zM151 169h2v1h-2zM180 167h2v1h-2zM147 166h2v1h-2zM148 168h2v1h-2zM157 171h2v1h-2zM157 169h2v1h-2zM157 171h2v1h-2zM180 169h2v1h-2zM181 167h2v1h-2zM183 169h2v1h-2zM170 168h2v1h-2zM151 167h2v1h-2zM179 168h2v1h-2zM171 169h2v1h-2zM163 167h2v1h-2zM147 168h2v1h-2zM170 170h2v1h-2zM139 171h2v1h-2zM158 166h2v1h-2zM150 167h2v1h-2zM176 170h2v1h-2zM154 167h2v1h-2zM152 168h2v1h-2zM154 171h2v1h-2zM175 171h2v1h-2zM179 170h2v1h-2zM144 166h2v1h-2zM146 167h2v1h-2zM163 172h2v1h-2zM165 169h2v1h-2zM150 173h2v1h-2zM173 168h2v1h-2zM141 165h2v1h-2zM150 165h2v1h-2zM144 164h2v1h-2zM155 165h2v1h-2zM152 161h2v1h-2zM148 165h2v1h-2zM184 164h2v1h-2zM170 162h2v1h-2zM151 161h2v1h-2zM184 161h2v1h-2zM167 162h2v1h-2zM147 163h2v1h-2zM181 162h2v1h-2zM146 164h2v1h-2zM169 163h2v1h-2zM147 165h2v1h-2zM144 161h2v1h-2zM191 168h2v1h-2zM196 169h2v1h-2zM201 172h2v1h-2zM196 164h2v1h-2zM204 164h2v1h-2zM192 165h2v1h-2zM199 171h2v1h-2zM188 166h2v1h-2zM204 170h2v1h-2zM188 170h2v1h-2zM203 167h2v1h-2zM189 170h2v1h-2zM193 165h2v1h-2zM189 167h2v1h-2zM188 167h2v1h-2zM198 169h2v1h-2zM194 171h2v1h-2zM187 167h2v1h-2zM206 172h2v1h-2zM206 171h2v1h-2zM197 171h2v1h-2zM198 165h2v1h-2zM191 164h2v1h-2zM205 167h2v1h-2zM194 169h2v1h-2zM188 170h2v1h-2zM203 171h2v1h-2zM205 167h2v1h-2zM189 171h2v1h-2zM201 167h2v1h-2zM193 165h2v1h-2zM204 168h2v1h-2zM203 167h2v1h-2zM183 163h2v1h-2zM190 167h2v1h-2zM184 165h2v1h-2zM184 166h2v1h-2zM190 163h2v1h-2zM184 160h2v1h-2zM192 166h2v1h-2zM183 158h2v1h-2zM181 168h2v1h-2zM179 166h2v1h-2zM186 163h2v1h-2zM187 162h2v1h-2zM187 158h2v1h-2zM192 158h2v1h-2zM180 164h2v1h-2zM188 166h2v1h-2zM189 167h2v1h-2zM179 157h2v1h-2zM182 166h2v1h-2zM180 163h2v1h-2zM190 159h2v1h-2zM186 167h2v1h-2zM190 161h2v1h-2zM186 160h2v1h-2zM193 166h2v1h-2zM189 160h2v1h-2zM190 162h2v1h-2zM191 161h2v1h-2zM192 164h2v1h-2zM185 163h2v1h-2zM191 163h2v1h-2zM193 157h2v1h-2zM192 165h2v1h-2zM186 166h2v1h-2zM180 161h2v1h-2zM189 166h2v1h-2zM184 168h2v1h-2zM188 158h2v1h-2zM180 158h2v1h-2zM187 161h2v1h-2zM182 162h2v1h-2zM179 167h2v1h-2zM191 163h2v1h-2zM185 160h2v1h-2zM234 157h2v1h-2zM236 171h2v1h-2zM235 168h2v1h-2zM231 152h2v1h-2zM233 152h2v1h-2zM233 172h2v1h-2zM236 172h2v1h-2zM232 155h2v1h-2zM231 156h2v1h-2zM231 162h2v1h-2zM232 165h2v1h-2zM234 163h2v1h-2zM248 171h2v1h-2zM262 171h2v1h-2zM254 169h2v1h-2zM247 166h2v1h-2zM254 170h2v1h-2zM243 172h2v1h-2zM269 172h2v1h-2zM267 169h2v1h-2zM243 167h2v1h-2zM264 173h2v1h-2zM241 166h2v1h-2zM250 168h2v1h-2zM259 166h2v1h-2zM268 168h2v1h-2zM270 168h2v1h-2zM248 167h2v1h-2zM272 170h2v1h-2zM267 166h2v1h-2zM257 171h2v1h-2zM273 172h2v1h-2zM240 168h2v1h-2zM273 169h2v1h-2zM272 167h2v1h-2zM237 172h2v1h-2zM246 170h2v1h-2zM250 170h2v1h-2zM271 172h2v1h-2zM269 167h2v1h-2zM267 166h2v1h-2zM252 172h2v1h-2zM246 168h2v1h-2zM258 167h2v1h-2zM263 170h2v1h-2zM240 172h2v1h-2zM239 171h2v1h-2zM249 167h2v1h-2zM239 173h2v1h-2zM266 169h2v1h-2zM266 172h2v1h-2zM271 169h2v1h-2zM247 169h2v1h-2zM273 171h2v1h-2zM261 172h2v1h-2zM252 170h2v1h-2zM268 167h2v1h-2zM268 166h2v1h-2zM256 170h2v1h-2zM242 172h2v1h-2zM253 167h2v1h-2zM252 170h2v1h-2zM252 166h2v1h-2zM240 171h2v1h-2zM241 167h2v1h-2zM266 172h2v1h-2zM269 167h2v1h-2zM237 171h2v1h-2zM259 168h2v1h-2zM237 169h2v1h-2zM245 170h2v1h-2zM273 167h2v1h-2zM239 171h2v1h-2zM240 167h2v1h-2zM253 173h2v1h-2zM249 168h2v1h-2zM254 167h2v1h-2zM251 171h2v1h-2zM248 171h2v1h-2zM243 166h2v1h-2zM260 169h2v1h-2zM270 166h2v1h-2zM264 170h2v1h-2zM250 166h2v1h-2zM259 171h2v1h-2zM254 169h2v1h-2zM262 170h2v1h-2zM252 167h2v1h-2zM254 169h2v1h-2zM270 173h2v1h-2zM257 168h2v1h-2zM245 170h2v1h-2zM264 167h2v1h-2zM262 173h2v1h-2zM251 172h2v1h-2zM253 170h2v1h-2zM269 167h2v1h-2zM245 165h2v1h-2zM233 162h2v1h-2zM251 164h2v1h-2zM258 165h2v1h-2zM259 161h2v1h-2zM234 161h2v1h-2zM249 161h2v1h-2zM253 164h2v1h-2zM239 165h2v1h-2zM248 165h2v1h-2zM246 164h2v1h-2zM254 162h2v1h-2zM264 161h2v1h-2zM241 162h2v1h-2zM268 163h2v1h-2zM232 162h2v1h-2zM273 159h2v1h-2zM267 169h2v1h-2zM270 162h2v1h-2zM270 161h2v1h-2zM277 152h2v1h-2zM276 153h2v1h-2zM274 154h2v1h-2zM266 171h2v1h-2zM273 157h2v1h-2zM269 163h2v1h-2zM276 152h2v1h-2zM266 169h2v1h-2zM269 161h2v1h-2zM277 152h2v1h-2zM275 151h2v1h-2zM270 160h2v1h-2zM274 157h2v1h-2zM275 156h2v1h-2zM267 165h2v1h-2zM277 131h2v1h-2zM292 127h2v1h-2zM280 131h2v1h-2zM277 125h2v1h-2zM275 133h2v1h-2zM283 130h2v1h-2zM291 128h2v1h-2zM295 130h2v1h-2zM294 133h2v1h-2zM277 130h2v1h-2zM280 125h2v1h-2zM282 133h2v1h-2zM276 126h2v1h-2zM278 133h2v1h-2zM285 130h2v1h-2zM286 130h2v1h-2zM282 126h2v1h-2zM290 130h2v1h-2zM293 125h2v1h-2zM292 130h2v1h-2zM287 126h2v1h-2zM286 122h2v1h-2zM277 125h2v1h-2zM277 122h2v1h-2zM290 130h2v1h-2zM287 124h2v1h-2zM290 131h2v1h-2zM288 124h2v1h-2zM286 126h2v1h-2zM280 123h2v1h-2zM293 129h2v1h-2zM294 123h2v1h-2zM280 127h2v1h-2zM276 125h2v1h-2zM286 127h2v1h-2zM293 128h2v1h-2zM288 128h2v1h-2zM291 125h2v1h-2zM275 133h2v1h-2zM293 126h2v1h-2zM285 126h2v1h-2zM291 126h2v1h-2zM284 128h2v1h-2zM283 127h2v1h-2zM288 126h2v1h-2zM283 127h2v1h-2zM286 127h2v1h-2zM288 127h2v1h-2zM287 125h2v1h-2zM293 130h2v1h-2zM289 125h2v1h-2zM286 131h2v1h-2zM289 126h2v1h-2zM293 131h2v1h-2zM285 128h2v1h-2zM290 126h2v1h-2zM287 129h2v1h-2zM291 129h2v1h-2zM291 127h2v1h-2zM284 125h2v1h-2zM293 131h2v1h-2zM294 125h2v1h-2zM293 126h2v1h-2zM287 126h2v1h-2zM294 131h2v1h-2zM293 127h2v1h-2zM295 127h2v1h-2zM290 130h2v1h-2zM286 127h2v1h-2zM285 130h2v1h-2zM286 126h2v1h-2zM287 129h2v1h-2zM291 128h2v1h-2zM294 130h2v1h-2zM286 129h2v1h-2zM285 126h2v1h-2zM285 125h2v1h-2zM288 131h2v1h-2zM291 125h2v1h-2zM278 142h2v1h-2zM281 133h2v1h-2zM277 141h2v1h-2zM281 134h2v1h-2zM283 137h2v1h-2zM281 141h2v1h-2zM279 147h2v1h-2zM279 139h2v1h-2zM281 145h2v1h-2zM284 144h2v1h-2zM281 143h2v1h-2zM281 147h2v1h-2zM284 144h2v1h-2zM278 141h2v1h-2zM300 109h2v1h-2zM304 109h2v1h-2zM303 114h2v1h-2zM300 118h2v1h-2zM304 123h2v1h-2zM307 119h2v1h-2zM298 117h2v1h-2zM301 122h2v1h-2zM300 111h2v1h-2zM295 113h2v1h-2zM301 111h2v1h-2zM296 114h2v1h-2zM296 108h2v1h-2zM300 111h2v1h-2zM301 115h2v1h-2zM300 108h2v1h-2zM295 115h2v1h-2zM306 110h2v1h-2zM299 111h2v1h-2zM304 114h2v1h-2zM304 105h2v1h-2zM297 109h2v1h-2zM299 112h2v1h-2zM300 122h2v1h-2zM300 115h2v1h-2zM306 116h2v1h-2zM302 120h2v1h-2zM299 106h2v1h-2zM306 115h2v1h-2zM302 106h2v1h-2zM304 112h2v1h-2zM303 110h2v1h-2zM306 112h2v1h-2zM298 121h2v1h-2zM298 110h2v1h-2zM301 122h2v1h-2zM296 109h2v1h-2zM304 107h2v1h-2zM300 119h2v1h-2zM303 119h2v1h-2zM296 121h2v1h-2zM299 120h2v1h-2zM333 113h2v1h-2zM333 105h2v1h-2zM315 109h2v1h-2zM310 105h2v1h-2zM355 108h2v1h-2zM354 103h2v1h-2zM333 108h2v1h-2zM313 107h2v1h-2zM357 109h2v1h-2zM335 110h2v1h-2zM354 112h2v1h-2zM339 102h2v1h-2zM354 103h2v1h-2zM320 105h2v1h-2zM335 109h2v1h-2zM332 108h2v1h-2zM315 112h2v1h-2zM336 106h2v1h-2zM352 112h2v1h-2zM357 113h2v1h-2zM311 108h2v1h-2zM331 105h2v1h-2zM347 112h2v1h-2zM314 110h2v1h-2zM360 111h2v1h-2zM331 103h2v1h-2zM332 109h2v1h-2zM350 103h2v1h-2zM322 115h2v1h-2zM307 111h2v1h-2zM312 113h2v1h-2zM330 114h2v1h-2zM319 114h2v1h-2zM319 103h2v1h-2zM312 104h2v1h-2zM328 115h2v1h-2zM326 111h2v1h-2zM309 110h2v1h-2zM336 103h2v1h-2zM339 107h2v1h-2zM325 113h2v1h-2zM345 103h2v1h-2zM313 104h2v1h-2zM321 111h2v1h-2zM360 112h2v1h-2zM354 102h2v1h-2zM350 110h2v1h-2zM333 115h2v1h-2zM340 103h2v1h-2zM319 105h2v1h-2zM340 109h2v1h-2zM354 101h2v1h-2zM307 116h2v1h-2zM321 106h2v1h-2zM354 102h2v1h-2zM350 112h2v1h-2zM338 109h2v1h-2zM307 111h2v1h-2zM340 111h2v1h-2zM335 103h2v1h-2zM319 111h2v1h-2zM311 105h2v1h-2zM321 113h2v1h-2zM337 106h2v1h-2zM360 108h2v1h-2zM320 110h2v1h-2zM354 105h2v1h-2zM331 109h2v1h-2zM361 108h2v1h-2zM317 110h2v1h-2zM324 109h2v1h-2zM346 102h2v1h-2zM335 106h2v1h-2zM340 112h2v1h-2zM332 110h2v1h-2zM323 106h2v1h-2zM335 109h2v1h-2zM319 113h2v1h-2zM334 106h2v1h-2zM321 113h2v1h-2zM356 112h2v1h-2zM320 104h2v1h-2zM341 102h2v1h-2zM354 109h2v1h-2zM325 108h2v1h-2zM344 103h2v1h-2zM327 112h2v1h-2zM344 109h2v1h-2zM312 106h2v1h-2zM321 103h2v1h-2zM342 109h2v1h-2zM357 107h2v1h-2zM357 106h2v1h-2zM335 105h2v1h-2zM332 114h2v1h-2zM333 102h2v1h-2zM326 105h2v1h-2zM341 108h2v1h-2zM333 114h2v1h-2zM349 102h2v1h-2zM308 112h2v1h-2zM339 110h2v1h-2zM334 102h2v1h-2zM332 113h2v1h-2zM340 102h2v1h-2zM314 115h2v1h-2zM337 104h2v1h-2zM345 113h2v1h-2zM354 109h2v1h-2zM351 102h2v1h-2zM332 112h2v1h-2zM325 104h2v1h-2zM354 109h2v1h-2zM307 104h2v1h-2zM337 114h2v1h-2zM341 112h2v1h-2zM313 111h2v1h-2zM317 107h2v1h-2zM315 109h2v1h-2zM309 112h2v1h-2zM342 113h2v1h-2zM349 102h2v1h-2zM354 107h2v1h-2zM358 107h2v1h-2zM311 112h2v1h-2zM316 116h2v1h-2zM336 113h2v1h-2zM334 106h2v1h-2zM343 110h2v1h-2zM332 106h2v1h-2zM330 111h2v1h-2zM319 105h2v1h-2zM333 110h2v1h-2zM310 107h2v1h-2zM360 104h2v1h-2zM349 105h2v1h-2zM311 110h2v1h-2zM354 110h2v1h-2zM309 112h2v1h-2zM341 108h2v1h-2zM343 108h2v1h-2zM317 112h2v1h-2zM314 107h2v1h-2zM353 108h2v1h-2zM335 111h2v1h-2zM334 107h2v1h-2zM337 102h2v1h-2zM326 103h2v1h-2zM361 111h2v1h-2zM343 103h2v1h-2zM354 104h2v1h-2zM351 109h2v1h-2zM340 111h2v1h-2zM321 113h2v1h-2zM336 111h2v1h-2zM353 104h2v1h-2zM329 107h2v1h-2zM311 115h2v1h-2zM344 107h2v1h-2zM337 113h2v1h-2zM311 108h2v1h-2zM344 108h2v1h-2zM334 105h2v1h-2zM319 111h2v1h-2zM325 114h2v1h-2zM356 113h2v1h-2zM322 109h2v1h-2zM313 108h2v1h-2zM311 110h2v1h-2zM359 110h2v1h-2zM327 106h2v1h-2zM358 101h2v1h-2zM353 111h2v1h-2zM311 116h2v1h-2zM342 106h2v1h-2zM330 110h2v1h-2zM336 113h2v1h-2zM356 105h2v1h-2zM307 114h2v1h-2zM342 110h2v1h-2zM311 104h2v1h-2zM356 105h2v1h-2zM333 114h2v1h-2zM317 111h2v1h-2zM310 111h2v1h-2zM347 103h2v1h-2zM348 113h2v1h-2zM352 111h2v1h-2zM359 109h2v1h-2zM337 112h2v1h-2zM351 109h2v1h-2zM343 104h2v1h-2zM325 107h2v1h-2zM354 110h2v1h-2zM323 115h2v1h-2zM310 104h2v1h-2zM325 103h2v1h-2zM359 105h2v1h-2zM328 113h2v1h-2zM336 110h2v1h-2zM331 108h2v1h-2zM359 104h2v1h-2zM336 108h2v1h-2zM315 105h2v1h-2zM335 112h2v1h-2zM330 103h2v1h-2zM358 102h2v1h-2zM355 101h2v1h-2zM342 103h2v1h-2zM321 108h2v1h-2zM348 107h2v1h-2zM330 107h2v1h-2zM335 105h2v1h-2zM359 103h2v1h-2zM314 110h2v1h-2zM326 112h2v1h-2zM309 112h2v1h-2zM327 114h2v1h-2zM323 108h2v1h-2zM324 109h2v1h-2zM322 111h2v1h-2zM329 111h2v1h-2zM323 108h2v1h-2zM337 111h2v1h-2zM342 107h2v1h-2zM311 105h2v1h-2zM315 105h2v1h-2zM317 111h2v1h-2zM325 114h2v1h-2zM320 106h2v1h-2zM317 105h2v1h-2zM344 109h2v1h-2zM321 113h2v1h-2zM344 107h2v1h-2zM340 110h2v1h-2zM331 103h2v1h-2zM327 114h2v1h-2zM327 110h2v1h-2zM312 113h2v1h-2zM354 105h2v1h-2zM327 109h2v1h-2zM321 105h2v1h-2zM314 112h2v1h-2zM335 114h2v1h-2zM359 111h2v1h-2zM358 111h2v1h-2zM308 105h2v1h-2zM360 111h2v1h-2zM340 109h2v1h-2zM331 108h2v1h-2zM315 110h2v1h-2zM322 104h2v1h-2zM354 108h2v1h-2zM355 104h2v1h-2zM338 105h2v1h-2zM352 104h2v1h-2zM342 108h2v1h-2zM325 104h2v1h-2zM333 109h2v1h-2zM352 104h2v1h-2zM317 107h2v1h-2zM351 104h2v1h-2zM341 102h2v1h-2zM311 112h2v1h-2zM334 103h2v1h-2zM398 109h2v1h-2zM392 105h2v1h-2zM394 104h2v1h-2zM365 110h2v1h-2zM407 102h2v1h-2zM384 101h2v1h-2zM435 106h2v1h-2zM391 106h2v1h-2zM405 101h2v1h-2zM364 108h2v1h-2zM374 106h2v1h-2zM363 99h2v1h-2zM374 107h2v1h-2zM409 109h2v1h-2zM413 104h2v1h-2zM363 111h2v1h-2zM400 108h2v1h-2zM365 109h2v1h-2zM399 101h2v1h-2zM393 100h2v1h-2zM407 101h2v1h-2zM416 100h2v1h-2zM415 105h2v1h-2zM417 108h2v1h-2zM385 107h2v1h-2zM393 109h2v1h-2zM426 106h2v1h-2zM408 101h2v1h-2zM432 108h2v1h-2zM436 102h2v1h-2zM426 105h2v1h-2zM427 106h2v1h-2zM397 103h2v1h-2zM424 105h2v1h-2zM404 108h2v1h-2zM364 99h2v1h-2zM398 100h2v1h-2zM427 99h2v1h-2zM430 101h2v1h-2zM372 108h2v1h-2zM414 103h2v1h-2zM408 104h2v1h-2zM436 103h2v1h-2zM404 104h2v1h-2zM394 106h2v1h-2zM370 107h2v1h-2zM434 106h2v1h-2zM404 102h2v1h-2zM369 100h2v1h-2zM404 108h2v1h-2zM429 100h2v1h-2zM420 107h2v1h-2zM399 108h2v1h-2zM376 103h2v1h-2zM402 107h2v1h-2zM397 102h2v1h-2zM429 102h2v1h-2zM394 101h2v1h-2zM399 106h2v1h-2zM390 106h2v1h-2zM400 99h2v1h-2zM437 101h2v1h-2zM404 109h2v1h-2zM378 100h2v1h-2zM378 101h2v1h-2zM428 103h2v1h-2zM365 102h2v1h-2zM401 101h2v1h-2zM385 109h2v1h-2zM396 101h2v1h-2zM408 100h2v1h-2zM402 106h2v1h-2zM368 106h2v1h-2zM386 107h2v1h-2zM410 108h2v1h-2zM409 101h2v1h-2zM376 107h2v1h-2zM425 99h2v1h-2zM394 102h2v1h-2zM398 108h2v1h-2zM405 107h2v1h-2zM421 101h2v1h-2zM410 103h2v1h-2zM399 104h2v1h-2zM414 100h2v1h-2zM427 100h2v1h-2zM386 109h2v1h-2zM439 102h2v1h-2zM436 99h2v1h-2zM436 100h2v1h-2zM364 108h2v1h-2zM374 108h2v1h-2zM362 101h2v1h-2zM389 100h2v1h-2zM398 102h2v1h-2zM419 103h2v1h-2zM437 106h2v1h-2zM375 110h2v1h-2zM431 104h2v1h-2zM403 101h2v1h-2zM387 101h2v1h-2zM377 106h2v1h-2zM387 108h2v1h-2zM406 107h2v1h-2zM368 109h2v1h-2zM401 106h2v1h-2zM380 107h2v1h-2zM393 107h2v1h-2zM407 100h2v1h-2zM385 107h2v1h-2zM363 107h2v1h-2zM404 106h2v1h-2zM387 104h2v1h-2zM399 107h2v1h-2zM367 105h2v1h-2zM382 106h2v1h-2zM382 101h2v1h-2zM380 109h2v1h-2zM390 109h2v1h-2zM419 101h2v1h-2zM405 99h2v1h-2zM434 104h2v1h-2zM370 105h2v1h-2zM400 106h2v1h-2zM384 109h2v1h-2zM410 99h2v1h-2zM426 107h2v1h-2zM385 107h2v1h-2zM429 107h2v1h-2zM367 109h2v1h-2zM381 108h2v1h-2zM415 103h2v1h-2zM432 106h2v1h-2zM439 107h2v1h-2zM406 106h2v1h-2zM414 103h2v1h-2zM401 104h2v1h-2zM378 102h2v1h-2zM428 107h2v1h-2zM416 106h2v1h-2zM401 105h2v1h-2zM414 99h2v1h-2zM396 109h2v1h-2zM378 104h2v1h-2zM368 102h2v1h-2zM426 99h2v1h-2zM424 106h2v1h-2zM429 101h2v1h-2zM434 102h2v1h-2zM397 109h2v1h-2zM404 106h2v1h-2zM370 99h2v1h-2zM382 100h2v1h-2zM426 101h2v1h-2zM436 105h2v1h-2zM376 107h2v1h-2zM386 105h2v1h-2zM367 109h2v1h-2zM423 104h2v1h-2zM416 102h2v1h-2zM371 103h2v1h-2zM419 104h2v1h-2zM372 102h2v1h-2zM399 99h2v1h-2zM365 105h2v1h-2zM372 110h2v1h-2zM372 108h2v1h-2zM424 102h2v1h-2zM404 109h2v1h-2zM410 103h2v1h-2zM438 101h2v1h-2zM436 101h2v1h-2zM394 102h2v1h-2zM412 108h2v1h-2zM415 100h2v1h-2zM439 105h2v1h-2zM401 108h2v1h-2zM370 106h2v1h-2zM423 106h2v1h-2zM414 99h2v1h-2zM399 102h2v1h-2zM409 103h2v1h-2zM397 105h2v1h-2zM408 108h2v1h-2zM384 102h2v1h-2zM376 100h2v1h-2zM428 107h2v1h-2zM371 103h2v1h-2zM432 107h2v1h-2zM438 108h2v1h-2zM385 100h2v1h-2zM381 105h2v1h-2zM363 102h2v1h-2zM398 106h2v1h-2zM374 100h2v1h-2zM387 100h2v1h-2zM371 100h2v1h-2zM424 107h2v1h-2zM365 109h2v1h-2zM427 105h2v1h-2zM385 108h2v1h-2zM368 100h2v1h-2zM436 100h2v1h-2zM433 106h2v1h-2zM365 100h2v1h-2zM412 100h2v1h-2zM414 105h2v1h-2zM380 104h2v1h-2zM378 109h2v1h-2zM411 106h2v1h-2zM410 99h2v1h-2zM431 106h2v1h-2zM402 105h2v1h-2zM400 107h2v1h-2zM403 102h2v1h-2zM402 101h2v1h-2zM362 105h2v1h-2zM430 105h2v1h-2zM378 105h2v1h-2zM407 105h2v1h-2zM397 104h2v1h-2zM415 108h2v1h-2zM402 107h2v1h-2zM415 100h2v1h-2zM382 102h2v1h-2zM389 104h2v1h-2zM385 110h2v1h-2zM419 102h2v1h-2zM416 108h2v1h-2zM374 106h2v1h-2zM436 102h2v1h-2zM430 106h2v1h-2zM387 100h2v1h-2zM425 103h2v1h-2zM389 104h2v1h-2zM418 108h2v1h-2zM433 106h2v1h-2zM375 103h2v1h-2zM362 101h2v1h-2zM388 101h2v1h-2zM399 100h2v1h-2zM413 103h2v1h-2zM381 107h2v1h-2zM387 99h2v1h-2zM427 106h2v1h-2zM430 101h2v1h-2zM382 107h2v1h-2zM373 111h2v1h-2zM413 104h2v1h-2zM366 102h2v1h-2zM395 110h2v1h-2zM373 106h2v1h-2zM368 111h2v1h-2zM420 107h2v1h-2zM420 100h2v1h-2zM380 99h2v1h-2zM405 100h2v1h-2zM376 101h2v1h-2zM433 106h2v1h-2zM384 110h2v1h-2zM374 101h2v1h-2zM391 108h2v1h-2zM369 109h2v1h-2zM404 107h2v1h-2zM388 99h2v1h-2zM369 108h2v1h-2zM401 107h2v1h-2zM377 102h2v1h-2zM378 109h2v1h-2zM416 100h2v1h-2zM418 99h2v1h-2zM398 102h2v1h-2zM421 106h2v1h-2zM415 101h2v1h-2zM365 107h2v1h-2zM416 99h2v1h-2zM427 107h2v1h-2zM390 105h2v1h-2zM412 108h2v1h-2zM412 104h2v1h-2zM422 103h2v1h-2zM364 106h2v1h-2zM394 102h2v1h-2zM392 101h2v1h-2zM386 107h2v1h-2zM431 103h2v1h-2zM428 100h2v1h-2zM402 107h2v1h-2zM423 102h2v1h-2zM375 110h2v1h-2zM409 105h2v1h-2zM389 100h2v1h-2zM466 101h2v1h-2zM476 103h2v1h-2zM472 102h2v1h-2zM472 99h2v1h-2zM479 102h2v1h-2zM467 100h2v1h-2zM450 103h2v1h-2zM471 103h2v1h-2zM456 102h2v1h-2zM472 103h2v1h-2zM477 99h2v1h-2zM472 98h2v1h-2zM468 102h2v1h-2zM450 101h2v1h-2zM469 104h2v1h-2zM450 102h2v1h-2zM473 99h2v1h-2zM476 105h2v1h-2zM458 100h2v1h-2zM452 100h2v1h-2zM461 103h2v1h-2zM477 102h2v1h-2zM478 101h2v1h-2zM469 98h2v1h-2zM461 99h2v1h-2zM452 104h2v1h-2zM451 100h2v1h-2zM464 102h2v1h-2zM448 99h2v1h-2zM469 101h2v1h-2zM450 102h2v1h-2zM459 105h2v1h-2zM449 100h2v1h-2zM450 102h2v1h-2zM478 104h2v1h-2zM451 102h2v1h-2zM459 105h2v1h-2zM470 103h2v1h-2zM456 101h2v1h-2zM464 101h2v1h-2zM466 99h2v1h-2zM461 105h2v1h-2zM460 102h2v1h-2zM472 104h2v1h-2zM471 101h2v1h-2zM470 100h2v1h-2zM467 99h2v1h-2zM454 100h2v1h-2zM459 103h2v1h-2zM448 104h2v1h-2zM450 105h2v1h-2zM478 103h2v1h-2zM474 105h2v1h-2zM462 104h2v1h-2zM449 104h2v1h-2zM468 104h2v1h-2zM452 99h2v1h-2zM464 103h2v1h-2zM469 100h2v1h-2zM466 105h2v1h-2zM456 104h2v1h-2zM478 103h2v1h-2zM462 101h2v1h-2zM462 99h2v1h-2zM450 100h2v1h-2zM453 105h2v1h-2zM459 104h2v1h-2zM466 105h2v1h-2zM476 103h2v1h-2zM462 100h2v1h-2zM378 168h2v1h-2zM394 166h2v1h-2zM383 168h2v1h-2zM369 169h2v1h-2zM403 173h2v1h-2zM366 172h2v1h-2zM402 169h2v1h-2zM378 167h2v1h-2zM392 169h2v1h-2zM390 172h2v1h-2zM382 171h2v1h-2zM377 167h2v1h-2zM372 166h2v1h-2zM355 172h2v1h-2zM433 164h2v1h-2zM437 163h2v1h-2zM450 165h2v1h-2zM421 169h2v1h-2zM474 163h2v1h-2zM458 168h2v1h-2zM441 167h2v1h-2zM405 166h2v1h-2zM444 166h2v1h-2zM479 166h2v1h-2zM468 171h2v1h-2zM464 167h2v1h-2zM442 171h2v1h-2zM413 165h2v1h-2zM405 167h2v1h-2zM439 172h2v1h-2zM474 167h2v1h-2zM442 164h2v1h-2zM461 168h2v1h-2zM417 171h2v1h-2zM408 164h2v1h-2zM440 173h2v1h-2zM415 165h2v1h-2zM464 166h2v1h-2zM474 163h2v1h-2zM422 166h2v1h-2zM468 164h2v1h-2zM455 171h2v1h-2zM478 171h2v1h-2zM408 167h2v1h-2zM421 164h2v1h-2zM423 170h2v1h-2zM448 164h2v1h-2zM426 163h2v1h-2zM474 170h2v1h-2zM440 172h2v1h-2zM478 165h2v1h-2zM424 164h2v1h-2zM452 169h2v1h-2zM443 170h2v1h-2zM444 166h2v1h-2zM455 172h2v1h-2zM408 167h2v1h-2zM415 170h2v1h-2zM437 171h2v1h-2zM455 172h2v1h-2zM448 169h2v1h-2zM478 171h2v1h-2zM430 164h2v1h-2zM474 163h2v1h-2zM474 172h2v1h-2zM454 172h2v1h-2zM450 170h2v1h-2zM449 165h2v1h-2zM410 170h2v1h-2zM438 164h2v1h-2zM446 165h2v1h-2zM424 171h2v1h-2zM451 170h2v1h-2zM466 167h2v1h-2zM438 167h2v1h-2zM431 170h2v1h-2zM471 166h2v1h-2zM458 165h2v1h-2zM405 169h2v1h-2zM463 166h2v1h-2zM479 170h2v1h-2zM429 170h2v1h-2zM468 164h2v1h-2zM473 167h2v1h-2zM425 166h2v1h-2zM444 168h2v1h-2zM427 163h2v1h-2zM452 170h2v1h-2zM457 167h2v1h-2zM469 163h2v1h-2zM414 163h2v1h-2zM446 168h2v1h-2zM422 168h2v1h-2zM405 163h2v1h-2zM477 171h2v1h-2zM410 169h2v1h-2zM443 168h2v1h-2zM468 169h2v1h-2zM475 169h2v1h-2zM473 164h2v1h-2zM466 166h2v1h-2zM474 170h2v1h-2zM477 170h2v1h-2zM434 168h2v1h-2zM463 163h2v1h-2zM445 168h2v1h-2zM458 166h2v1h-2zM450 170h2v1h-2zM433 169h2v1h-2zM472 166h2v1h-2zM444 167h2v1h-2zM467 165h2v1h-2zM426 166h2v1h-2zM446 154h2v1h-2zM449 157h2v1h-2zM447 156h2v1h-2zM440 156h2v1h-2zM445 153h2v1h-2zM449 158h2v1h-2zM444 152h2v1h-2zM442 155h2v1h-2zM446 154h2v1h-2zM444 155h2v1h-2zM445 159h2v1h-2zM488 162h2v1h-2zM489 157h2v1h-2zM490 160h2v1h-2zM492 163h2v1h-2zM485 163h2v1h-2zM483 161h2v1h-2zM479 162h2v1h-2zM486 160h2v1h-2zM487 159h2v1h-2zM483 161h2v1h-2zM489 156h2v1h-2zM483 163h2v1h-2zM483 158h2v1h-2zM489 159h2v1h-2zM495 164h2v1h-2zM481 158h2v1h-2zM481 159h2v1h-2zM483 161h2v1h-2zM494 157h2v1h-2zM479 157h2v1h-2zM484 157h2v1h-2zM486 159h2v1h-2zM491 164h2v1h-2zM496 159h2v1h-2zM490 157h2v1h-2zM489 163h2v1h-2zM494 157h2v1h-2zM481 163h2v1h-2zM491 162h2v1h-2zM480 161h2v1h-2zM479 162h2v1h-2zM492 159h2v1h-2zM479 162h2v1h-2zM496 161h2v1h-2zM485 159h2v1h-2zM493 164h2v1h-2zM485 158h2v1h-2zM496 159h2v1h-2zM486 158h2v1h-2zM491 164h2v1h-2zM487 163h2v1h-2zM486 159h2v1h-2zM493 164h2v1h-2zM492 161h2v1h-2zM493 163h2v1h-2zM495 160h2v1h-2zM485 156h2v1h-2zM488 159h2v1h-2zM479 164h2v1h-2zM484 163h2v1h-2zM479 159h2v1h-2zM492 161h2v1h-2zM490 160h2v1h-2zM480 162h2v1h-2zM492 160h2v1h-2zM488 162h2v1h-2zM487 160h2v1h-2zM487 162h2v1h-2zM491 159h2v1h-2zM492 159h2v1h-2zM490 159h2v1h-2zM494 163h2v1h-2zM492 159h2v1h-2zM485 159h2v1h-2zM489 156h2v1h-2zM488 163h2v1h-2zM480 163h2v1h-2zM489 164h2v1h-2zM491 162h2v1h-2zM492 159h2v1h-2zM481 163h2v1h-2zM494 162h2v1h-2zM482 160h2v1h-2zM488 159h2v1h-2zM487 160h2v1h-2zM496 161h2v1h-2zM496 163h2v1h-2zM475 172h2v1h-2zM493 111h2v1h-2zM496 114h2v1h-2zM492 113h2v1h-2zM493 115h2v1h-2zM495 112h2v1h-2zM502 105h2v1h-2zM488 117h2v1h-2zM495 112h2v1h-2zM499 117h2v1h-2zM493 119h2v1h-2zM494 114h2v1h-2zM500 106h2v1h-2zM494 107h2v1h-2zM493 107h2v1h-2zM500 101h2v1h-2zM502 115h2v1h-2zM496 112h2v1h-2zM492 114h2v1h-2zM500 107h2v1h-2zM495 104h2v1h-2zM492 116h2v1h-2zM497 108h2v1h-2zM497 103h2v1h-2zM496 113h2v1h-2zM500 112h2v1h-2zM499 112h2v1h-2zM497 114h2v1h-2zM498 114h2v1h-2zM501 113h2v1h-2zM496 114h2v1h-2zM499 113h2v1h-2zM500 113h2v1h-2zM502 111h2v1h-2zM502 114h2v1h-2zM498 115h2v1h-2zM502 113h2v1h-2zM496 114h2v1h-2zM498 113h2v1h-2zM501 112h2v1h-2zM507 124h2v1h-2zM503 122h2v1h-2zM502 124h2v1h-2zM505 127h2v1h-2zM502 124h2v1h-2zM504 125h2v1h-2zM504 126h2v1h-2zM502 123h2v1h-2zM505 126h2v1h-2zM502 123h2v1h-2zM506 123h2v1h-2zM508 126h2v1h-2zM502 124h2v1h-2zM502 123h2v1h-2zM504 127h2v1h-2zM508 126h2v1h-2zM506 125h2v1h-2zM505 125h2v1h-2zM505 124h2v1h-2zM507 124h2v1h-2zM504 126h2v1h-2zM508 124h2v1h-2zM504 124h2v1h-2zM503 124h2v1h-2zM507 123h2v1h-2zM505 124h2v1h-2zM505 126h2v1h-2zM502 125h2v1h-2zM502 125h2v1h-2zM513 115h2v1h-2zM509 115h2v1h-2zM510 119h2v1h-2zM514 119h2v1h-2zM510 116h2v1h-2zM508 116h2v1h-2zM515 114h2v1h-2zM510 115h2v1h-2zM514 115h2v1h-2zM511 114h2v1h-2zM513 117h2v1h-2zM514 118h2v1h-2zM513 115h2v1h-2zM509 117h2v1h-2zM507 119h2v1h-2zM513 117h2v1h-2zM510 114h2v1h-2zM512 118h2v1h-2zM508 114h2v1h-2zM513 117h2v1h-2zM514 116h2v1h-2zM515 119h2v1h-2zM510 117h2v1h-2zM512 116h2v1h-2zM514 118h2v1h-2zM514 115h2v1h-2zM511 117h2v1h-2zM512 114h2v1h-2zM514 116h2v1h-2zM508 119h2v1h-2zM512 118h2v1h-2zM513 117h2v1h-2zM515 104h2v1h-2zM511 105h2v1h-2zM513 106h2v1h-2zM509 105h2v1h-2zM510 108h2v1h-2zM516 132h2v1h-2zM514 133h2v1h-2zM515 123h2v1h-2zM514 125h2v1h-2zM516 125h2v1h-2zM516 125h2v1h-2zM518 140h2v1h-2zM516 123h2v1h-2zM519 123h2v1h-2zM518 138h2v1h-2zM517 141h2v1h-2zM515 137h2v1h-2zM519 141h2v1h-2zM519 131h2v1h-2zM540 125h2v1h-2zM535 118h2v1h-2zM521 112h2v1h-2zM525 119h2v1h-2zM532 118h2v1h-2zM558 132h2v1h-2zM537 118h2v1h-2zM534 118h2v1h-2zM557 129h2v1h-2zM558 128h2v1h-2zM521 118h2v1h-2zM523 117h2v1h-2zM543 122h2v1h-2zM553 127h2v1h-2zM559 131h2v1h-2zM557 133h2v1h-2zM535 121h2v1h-2zM549 127h2v1h-2zM520 115h2v1h-2zM550 124h2v1h-2zM523 112h2v1h-2zM541 120h2v1h-2zM553 127h2v1h-2zM559 132h2v1h-2zM537 118h2v1h-2zM537 122h2v1h-2zM554 131h2v1h-2zM532 115h2v1h-2zM546 126h2v1h-2zM545 127h2v1h-2zM552 128h2v1h-2zM552 124h2v1h-2zM557 131h2v1h-2zM523 112h2v1h-2zM545 123h2v1h-2zM557 128h2v1h-2zM539 122h2v1h-2zM557 128h2v1h-2zM555 130h2v1h-2zM542 127h2v1h-2zM555 131h2v1h-2zM541 119h2v1h-2zM528 118h2v1h-2zM524 117h2v1h-2zM533 118h2v1h-2zM552 130h2v1h-2zM549 126h2v1h-2zM541 126h2v1h-2zM557 130h2v1h-2zM523 118h2v1h-2zM521 111h2v1h-2zM546 122h2v1h-2zM550 128h2v1h-2zM526 120h2v1h-2zM559 132h2v1h-2zM559 133h2v1h-2zM538 124h2v1h-2zM557 131h2v1h-2zM523 114h2v1h-2zM548 124h2v1h-2zM526 116h2v1h-2zM525 116h2v1h-2zM523 117h2v1h-2zM528 121h2v1h-2zM524 116h2v1h-2zM545 122h2v1h-2zM545 125h2v1h-2zM544 121h2v1h-2zM539 124h2v1h-2zM544 122h2v1h-2zM533 122h2v1h-2zM522 114h2v1h-2zM540 122h2v1h-2zM520 110h2v1h-2zM553 127h2v1h-2zM531 118h2v1h-2zM522 111h2v1h-2zM553 130h2v1h-2zM527 115h2v1h-2zM523 113h2v1h-2zM540 124h2v1h-2zM540 125h2v1h-2zM559 131h2v1h-2zM521 111h2v1h-2zM546 122h2v1h-2zM555 125h2v1h-2zM522 118h2v1h-2zM536 121h2v1h-2zM543 121h2v1h-2zM533 118h2v1h-2zM549 128h2v1h-2zM547 123h2v1h-2zM538 125h2v1h-2zM526 115h2v1h-2zM544 128h2v1h-2zM521 115h2v1h-2zM538 122h2v1h-2zM553 125h2v1h-2zM543 122h2v1h-2zM550 128h2v1h-2zM536 118h2v1h-2zM550 128h2v1h-2zM542 125h2v1h-2zM557 128h2v1h-2zM547 128h2v1h-2zM530 121h2v1h-2zM532 122h2v1h-2zM543 127h2v1h-2zM555 131h2v1h-2zM534 119h2v1h-2zM543 126h2v1h-2zM536 124h2v1h-2zM528 117h2v1h-2zM525 113h2v1h-2zM531 115h2v1h-2zM542 124h2v1h-2zM535 123h2v1h-2zM541 124h2v1h-2zM523 114h2v1h-2zM520 111h2v1h-2zM553 125h2v1h-2zM543 123h2v1h-2zM546 128h2v1h-2zM553 131h2v1h-2zM558 129h2v1h-2zM559 132h2v1h-2zM531 117h2v1h-2zM540 125h2v1h-2zM523 118h2v1h-2zM546 126h2v1h-2zM536 119h2v1h-2zM536 122h2v1h-2zM537 123h2v1h-2zM555 125h2v1h-2zM520 117h2v1h-2zM527 119h2v1h-2zM536 118h2v1h-2zM520 113h2v1h-2zM543 120h2v1h-2zM520 112h2v1h-2zM555 130h2v1h-2zM530 117h2v1h-2zM536 122h2v1h-2zM531 117h2v1h-2zM540 120h2v1h-2zM537 123h2v1h-2zM540 119h2v1h-2zM533 120h2v1h-2zM529 117h2v1h-2zM542 122h2v1h-2zM537 150h2v1h-2zM537 150h2v1h-2zM537 144h2v1h-2zM539 142h2v1h-2zM539 150h2v1h-2zM538 136h2v1h-2zM537 150h2v1h-2zM539 148h2v1h-2zM578 131h2v1h-2zM592 134h2v1h-2zM603 129h2v1h-2zM576 136h2v1h-2zM603 133h2v1h-2zM597 128h2v1h-2zM590 131h2v1h-2zM593 131h2v1h-2zM568 130h2v1h-2zM594 136h2v1h-2zM603 132h2v1h-2zM563 138h2v1h-2zM572 137h2v1h-2zM583 133h2v1h-2zM561 130h2v1h-2zM595 133h2v1h-2zM602 138h2v1h-2zM585 140h2v1h-2zM560 132h2v1h-2zM585 127h2v1h-2zM601 129h2v1h-2zM587 130h2v1h-2zM578 133h2v1h-2zM573 129h2v1h-2zM591 135h2v1h-2zM563 140h2v1h-2zM565 130h2v1h-2zM573 132h2v1h-2zM583 139h2v1h-2zM564 135h2v1h-2zM589 130h2v1h-2zM576 133h2v1h-2zM602 137h2v1h-2zM582 128h2v1h-2zM577 138h2v1h-2zM580 132h2v1h-2zM590 127h2v1h-2zM590 136h2v1h-2zM565 132h2v1h-2zM600 130h2v1h-2zM585 131h2v1h-2zM586 132h2v1h-2zM576 139h2v1h-2zM593 140h2v1h-2zM576 133h2v1h-2zM577 139h2v1h-2zM577 136h2v1h-2zM568 134h2v1h-2zM572 139h2v1h-2zM577 140h2v1h-2zM587 131h2v1h-2zM586 139h2v1h-2zM593 138h2v1h-2zM587 135h2v1h-2zM566 138h2v1h-2zM590 136h2v1h-2zM574 137h2v1h-2zM585 131h2v1h-2zM607 137h2v1h-2zM592 138h2v1h-2zM593 132h2v1h-2zM605 139h2v1h-2zM592 133h2v1h-2zM583 127h2v1h-2zM602 138h2v1h-2zM588 133h2v1h-2zM598 127h2v1h-2zM579 130h2v1h-2zM589 132h2v1h-2zM589 139h2v1h-2zM579 128h2v1h-2zM560 138h2v1h-2zM582 133h2v1h-2zM561 128h2v1h-2zM560 139h2v1h-2zM562 131h2v1h-2zM582 135h2v1h-2zM570 136h2v1h-2zM590 140h2v1h-2zM564 131h2v1h-2zM564 131h2v1h-2zM570 127h2v1h-2zM598 130h2v1h-2zM595 138h2v1h-2zM598 127h2v1h-2zM588 138h2v1h-2zM590 135h2v1h-2zM580 138h2v1h-2zM585 132h2v1h-2zM583 133h2v1h-2zM568 136h2v1h-2zM599 136h2v1h-2zM560 132h2v1h-2zM596 128h2v1h-2zM584 136h2v1h-2zM585 131h2v1h-2zM560 136h2v1h-2zM567 135h2v1h-2zM585 137h2v1h-2zM565 140h2v1h-2zM595 139h2v1h-2zM568 137h2v1h-2zM578 136h2v1h-2zM593 132h2v1h-2zM605 133h2v1h-2zM582 136h2v1h-2zM567 139h2v1h-2zM575 139h2v1h-2zM566 128h2v1h-2zM588 130h2v1h-2zM581 129h2v1h-2zM594 137h2v1h-2zM592 129h2v1h-2zM562 135h2v1h-2zM563 137h2v1h-2zM586 139h2v1h-2zM599 136h2v1h-2zM599 134h2v1h-2zM573 128h2v1h-2zM593 136h2v1h-2zM590 134h2v1h-2zM581 139h2v1h-2zM577 129h2v1h-2zM605 137h2v1h-2zM602 140h2v1h-2zM580 129h2v1h-2zM583 133h2v1h-2zM578 137h2v1h-2zM571 140h2v1h-2zM570 131h2v1h-2zM599 130h2v1h-2zM594 130h2v1h-2zM579 133h2v1h-2zM571 138h2v1h-2zM604 139h2v1h-2zM567 127h2v1h-2zM581 137h2v1h-2zM586 140h2v1h-2zM607 136h2v1h-2zM572 132h2v1h-2zM563 132h2v1h-2zM595 131h2v1h-2zM568 134h2v1h-2zM602 136h2v1h-2zM565 133h2v1h-2zM570 138h2v1h-2zM579 133h2v1h-2zM601 131h2v1h-2zM581 140h2v1h-2zM574 134h2v1h-2zM590 131h2v1h-2zM590 132h2v1h-2zM599 134h2v1h-2zM594 135h2v1h-2zM593 132h2v1h-2zM567 132h2v1h-2zM575 127h2v1h-2zM596 134h2v1h-2zM582 136h2v1h-2zM563 128h2v1h-2zM594 127h2v1h-2zM601 134h2v1h-2zM606 138h2v1h-2zM579 131h2v1h-2zM580 137h2v1h-2zM582 137h2v1h-2zM607 137h2v1h-2zM584 137h2v1h-2zM583 135h2v1h-2zM580 140h2v1h-2zM607 134h2v1h-2zM586 128h2v1h-2zM587 139h2v1h-2zM571 137h2v1h-2zM572 136h2v1h-2zM573 135h2v1h-2zM597 127h2v1h-2zM600 134h2v1h-2zM571 131h2v1h-2zM586 137h2v1h-2zM568 128h2v1h-2zM571 135h2v1h-2zM579 137h2v1h-2zM594 132h2v1h-2zM588 129h2v1h-2zM589 136h2v1h-2zM571 136h2v1h-2zM566 140h2v1h-2zM586 139h2v1h-2zM591 130h2v1h-2zM595 135h2v1h-2zM578 136h2v1h-2zM596 136h2v1h-2zM589 134h2v1h-2zM605 129h2v1h-2zM606 134h2v1h-2zM592 127h2v1h-2zM590 130h2v1h-2zM587 127h2v1h-2zM601 125h2v1h-2zM598 129h2v1h-2zM601 127h2v1h-2zM595 127h2v1h-2zM584 133h2v1h-2zM592 128h2v1h-2zM606 128h2v1h-2zM597 126h2v1h-2zM594 133h2v1h-2zM603 133h2v1h-2zM605 127h2v1h-2zM585 126h2v1h-2zM599 130h2v1h-2zM593 132h2v1h-2zM589 131h2v1h-2zM594 126h2v1h-2zM602 127h2v1h-2zM603 132h2v1h-2zM594 129h2v1h-2zM589 126h2v1h-2zM600 128h2v1h-2zM597 128h2v1h-2zM590 126h2v1h-2zM602 129h2v1h-2zM587 133h2v1h-2zM588 127h2v1h-2zM588 130h2v1h-2zM602 125h2v1h-2zM606 132h2v1h-2zM603 129h2v1h-2zM594 126h2v1h-2zM590 133h2v1h-2zM591 134h2v1h-2zM603 134h2v1h-2zM587 129h2v1h-2zM603 128h2v1h-2zM590 125h2v1h-2zM596 130h2v1h-2zM589 127h2v1h-2zM599 126h2v1h-2zM602 133h2v1h-2zM594 126h2v1h-2zM597 128h2v1h-2zM586 132h2v1h-2zM597 127h2v1h-2zM590 132h2v1h-2zM605 128h2v1h-2zM598 127h2v1h-2zM595 130h2v1h-2zM591 131h2v1h-2zM597 125h2v1h-2zM587 129h2v1h-2zM587 130h2v1h-2zM621 138h2v1h-2zM628 138h2v1h-2zM625 134h2v1h-2zM628 141h2v1h-2zM621 140h2v1h-2zM620 136h2v1h-2zM611 137h2v1h-2zM624 140h2v1h-2zM628 137h2v1h-2zM630 136h2v1h-2zM608 136h2v1h-2zM620 139h2v1h-2zM613 133h2v1h-2zM624 134h2v1h-2zM627 138h2v1h-2zM610 137h2v1h-2zM625 134h2v1h-2zM630 133h2v1h-2zM611 138h2v1h-2zM623 138h2v1h-2zM629 134h2v1h-2zM608 137h2v1h-2zM616 136h2v1h-2zM617 140h2v1h-2zM614 139h2v1h-2zM621 135h2v1h-2zM629 135h2v1h-2zM614 134h2v1h-2zM624 139h2v1h-2zM616 134h2v1h-2zM621 136h2v1h-2zM620 138h2v1h-2zM607 133h2v1h-2zM627 140h2v1h-2zM609 134h2v1h-2zM617 140h2v1h-2zM615 141h2v1h-2zM609 141h2v1h-2zM609 138h2v1h-2zM630 139h2v1h-2zM629 136h2v1h-2zM630 141h2v1h-2zM614 139h2v1h-2zM629 134h2v1h-2zM617 139h2v1h-2zM621 141h2v1h-2zM617 136h2v1h-2zM611 135h2v1h-2zM628 135h2v1h-2zM628 140h2v1h-2zM621 135h2v1h-2zM607 134h2v1h-2zM627 141h2v1h-2zM630 135h2v1h-2zM629 136h2v1h-2zM616 141h2v1h-2zM627 139h2v1h-2zM614 133h2v1h-2zM612 135h2v1h-2zM612 138h2v1h-2zM615 134h2v1h-2zM628 136h2v1h-2zM607 133h2v1h-2zM620 133h2v1h-2zM620 133h2v1h-2zM618 138h2v1h-2zM620 134h2v1h-2zM627 141h2v1h-2zM626 141h2v1h-2zM630 136h2v1h-2zM620 136h2v1h-2zM626 134h2v1h-2zM613 137h2v1h-2zM620 141h2v1h-2zM615 133h2v1h-2zM616 140h2v1h-2zM610 137h2v1h-2zM621 140h2v1h-2zM615 138h2v1h-2zM630 141h2v1h-2zM621 136h2v1h-2zM623 139h2v1h-2zM623 139h2v1h-2zM616 139h2v1h-2zM616 135h2v1h-2zM610 137h2v1h-2zM611 135h2v1h-2zM614 136h2v1h-2zM617 141h2v1h-2zM620 137h2v1h-2zM617 137h2v1h-2zM626 137h2v1h-2zM619 136h2v1h-2zM612 134h2v1h-2zM609 135h2v1h-2zM608 136h2v1h-2zM621 134h2v1h-2zM625 137h2v1h-2zM639 128h2v1h-2zM642 130h2v1h-2zM629 129h2v1h-2zM632 131h2v1h-2zM634 127h2v1h-2zM627 132h2v1h-2zM629 127h2v1h-2zM645 125h2v1h-2zM635 128h2v1h-2zM640 131h2v1h-2zM646 127h2v1h-2zM628 126h2v1h-2zM627 127h2v1h-2zM639 132h2v1h-2zM629 127h2v1h-2zM644 129h2v1h-2zM635 125h2v1h-2zM628 126h2v1h-2zM639 125h2v1h-2zM637 131h2v1h-2zM627 127h2v1h-2zM635 129h2v1h-2zM641 130h2v1h-2zM635 127h2v1h-2zM639 128h2v1h-2zM645 129h2v1h-2zM638 130h2v1h-2zM636 129h2v1h-2zM640 129h2v1h-2zM646 127h2v1h-2zM636 132h2v1h-2zM643 129h2v1h-2zM633 126h2v1h-2zM635 128h2v1h-2zM635 127h2v1h-2zM636 129h2v1h-2zM629 130h2v1h-2zM641 126h2v1h-2zM632 125h2v1h-2zM636 130h2v1h-2zM635 129h2v1h-2zM639 125h2v1h-2zM628 129h2v1h-2zM645 130h2v1h-2zM636 127h2v1h-2zM629 130h2v1h-2zM642 128h2v1h-2zM628 127h2v1h-2zM641 131h2v1h-2zM635 132h2v1h-2zM634 125h2v1h-2zM631 132h2v1h-2zM641 125h2v1h-2zM632 128h2v1h-2zM636 125h2v1h-2zM645 129h2v1h-2zM632 125h2v1h-2zM638 132h2v1h-2zM641 131h2v1h-2zM653 144h2v1h-2zM647 135h2v1h-2zM651 140h2v1h-2zM648 135h2v1h-2zM653 144h2v1h-2zM649 138h2v1h-2zM653 140h2v1h-2zM651 139h2v1h-2zM653 145h2v1h-2zM654 142h2v1h-2zM650 138h2v1h-2zM649 142h2v1h-2zM654 147h2v1h-2zM653 143h2v1h-2zM652 144h2v1h-2zM660 153h2v1h-2zM665 148h2v1h-2zM659 151h2v1h-2zM656 148h2v1h-2zM657 147h2v1h-2zM667 153h2v1h-2zM665 150h2v1h-2zM664 151h2v1h-2zM660 150h2v1h-2zM656 148h2v1h-2zM659 149h2v1h-2zM663 148h2v1h-2zM657 152h2v1h-2zM665 153h2v1h-2zM665 148h2v1h-2zM661 152h2v1h-2zM665 148h2v1h-2zM661 150h2v1h-2zM654 148h2v1h-2zM664 151h2v1h-2zM660 150h2v1h-2zM661 149h2v1h-2zM655 151h2v1h-2zM665 149h2v1h-2zM665 152h2v1h-2zM664 152h2v1h-2zM667 146h2v1h-2zM667 149h2v1h-2zM665 151h2v1h-2zM656 150h2v1h-2zM655 151h2v1h-2zM659 149h2v1h-2zM658 152h2v1h-2zM663 148h2v1h-2zM664 147h2v1h-2zM665 150h2v1h-2zM665 150h2v1h-2zM668 151h2v1h-2zM661 150h2v1h-2zM662 148h2v1h-2zM658 152h2v1h-2zM665 153h2v1h-2zM664 150h2v1h-2zM660 151h2v1h-2zM671 146h2v1h-2zM672 139h2v1h-2zM667 135h2v1h-2zM672 140h2v1h-2zM668 135h2v1h-2zM669 146h2v1h-2zM667 144h2v1h-2zM672 143h2v1h-2zM670 138h2v1h-2zM671 142h2v1h-2zM674 141h2v1h-2zM668 146h2v1h-2zM671 139h2v1h-2zM671 136h2v1h-2zM666 146h2v1h-2zM669 145h2v1h-2zM666 140h2v1h-2zM666 145h2v1h-2zM670 139h2v1h-2zM668 137h2v1h-2zM666 143h2v1h-2zM667 136h2v1h-2zM668 140h2v1h-2zM674 139h2v1h-2zM668 147h2v1h-2zM672 140h2v1h-2zM668 137h2v1h-2zM666 140h2v1h-2zM671 136h2v1h-2zM669 137h2v1h-2zM670 139h2v1h-2zM671 144h2v1h-2zM668 139h2v1h-2zM665 137h2v1h-2zM671 145h2v1h-2zM673 147h2v1h-2zM693 139h2v1h-2zM683 143h2v1h-2zM678 139h2v1h-2zM688 141h2v1h-2zM681 142h2v1h-2zM672 140h2v1h-2zM677 137h2v1h-2zM683 143h2v1h-2zM683 141h2v1h-2zM687 140h2v1h-2zM694 137h2v1h-2zM670 142h2v1h-2zM687 139h2v1h-2zM680 139h2v1h-2zM676 145h2v1h-2zM691 138h2v1h-2zM684 140h2v1h-2zM673 144h2v1h-2zM683 147h2v1h-2zM693 146h2v1h-2zM676 136h2v1h-2zM690 136h2v1h-2zM687 137h2v1h-2zM687 135h2v1h-2zM672 146h2v1h-2zM683 140h2v1h-2zM694 144h2v1h-2zM675 143h2v1h-2zM679 140h2v1h-2zM677 137h2v1h-2zM677 138h2v1h-2zM674 146h2v1h-2zM679 142h2v1h-2zM690 143h2v1h-2zM673 147h2v1h-2zM693 145h2v1h-2zM678 145h2v1h-2zM686 135h2v1h-2zM679 143h2v1h-2zM683 147h2v1h-2zM690 145h2v1h-2zM694 139h2v1h-2zM693 135h2v1h-2zM690 136h2v1h-2zM682 140h2v1h-2zM671 143h2v1h-2zM690 137h2v1h-2zM676 144h2v1h-2zM683 135h2v1h-2zM677 146h2v1h-2zM677 138h2v1h-2zM681 146h2v1h-2zM690 139h2v1h-2zM686 135h2v1h-2zM671 139h2v1h-2zM686 136h2v1h-2zM671 145h2v1h-2zM674 135h2v1h-2zM672 136h2v1h-2zM677 142h2v1h-2zM686 138h2v1h-2zM683 139h2v1h-2zM684 136h2v1h-2zM685 135h2v1h-2zM693 137h2v1h-2zM684 137h2v1h-2zM681 138h2v1h-2zM686 144h2v1h-2zM691 147h2v1h-2zM681 141h2v1h-2zM678 138h2v1h-2zM682 147h2v1h-2zM671 144h2v1h-2zM678 142h2v1h-2zM676 144h2v1h-2zM682 138h2v1h-2zM681 135h2v1h-2zM672 146h2v1h-2zM672 140h2v1h-2zM687 135h2v1h-2zM693 137h2v1h-2zM694 140h2v1h-2zM684 142h2v1h-2zM672 141h2v1h-2zM689 145h2v1h-2zM688 143h2v1h-2zM673 140h2v1h-2zM682 135h2v1h-2zM689 136h2v1h-2zM684 138h2v1h-2zM674 147h2v1h-2zM685 144h2v1h-2zM685 142h2v1h-2zM692 135h2v1h-2zM679 137h2v1h-2zM685 140h2v1h-2zM693 137h2v1h-2zM676 146h2v1h-2zM688 140h2v1h-2zM679 144h2v1h-2zM673 144h2v1h-2zM675 145h2v1h-2zM671 146h2v1h-2zM691 135h2v1h-2zM674 146h2v1h-2zM690 138h2v1h-2zM690 142h2v1h-2zM676 143h2v1h-2zM680 136h2v1h-2zM691 144h2v1h-2zM676 140h2v1h-2zM687 139h2v1h-2zM676 141h2v1h-2zM694 136h2v1h-2zM676 141h2v1h-2zM695 147h2v1h-2zM670 143h2v1h-2zM673 137h2v1h-2zM673 141h2v1h-2zM695 147h2v1h-2zM679 146h2v1h-2zM687 135h2v1h-2zM692 138h2v1h-2zM694 136h2v1h-2zM707 125h2v1h-2zM700 120h2v1h-2zM699 129h2v1h-2zM700 132h2v1h-2zM700 131h2v1h-2zM692 128h2v1h-2zM701 131h2v1h-2zM696 124h2v1h-2zM705 121h2v1h-2zM697 130h2v1h-2zM702 125h2v1h-2zM690 129h2v1h-2zM698 121h2v1h-2zM697 119h2v1h-2zM706 129h2v1h-2zM708 127h2v1h-2zM693 123h2v1h-2zM708 117h2v1h-2zM696 119h2v1h-2zM693 121h2v1h-2zM701 118h2v1h-2zM706 124h2v1h-2zM693 118h2v1h-2zM700 122h2v1h-2zM699 119h2v1h-2zM697 125h2v1h-2zM692 125h2v1h-2zM706 126h2v1h-2zM692 127h2v1h-2zM692 119h2v1h-2zM690 125h2v1h-2zM693 121h2v1h-2zM692 131h2v1h-2zM693 127h2v1h-2zM705 124h2v1h-2zM701 122h2v1h-2zM705 128h2v1h-2zM691 128h2v1h-2zM693 124h2v1h-2zM693 124h2v1h-2zM702 128h2v1h-2zM696 118h2v1h-2zM698 131h2v1h-2zM700 127h2v1h-2zM704 127h2v1h-2zM708 132h2v1h-2zM704 129h2v1h-2zM693 121h2v1h-2zM703 126h2v1h-2zM706 129h2v1h-2zM696 120h2v1h-2zM702 119h2v1h-2zM699 121h2v1h-2zM697 127h2v1h-2zM702 127h2v1h-2zM691 131h2v1h-2zM703 131h2v1h-2zM701 127h2v1h-2zM706 129h2v1h-2zM702 118h2v1h-2zM690 128h2v1h-2zM706 123h2v1h-2zM694 124h2v1h-2zM706 129h2v1h-2zM692 120h2v1h-2zM694 129h2v1h-2zM695 131h2v1h-2zM698 120h2v1h-2zM698 119h2v1h-2zM706 117h2v1h-2zM698 123h2v1h-2zM691 120h2v1h-2zM708 130h2v1h-2zM698 131h2v1h-2zM707 130h2v1h-2zM714 145h2v1h-2zM713 148h2v1h-2zM713 153h2v1h-2zM710 152h2v1h-2zM714 142h2v1h-2zM715 139h2v1h-2zM712 145h2v1h-2zM716 138h2v1h-2zM715 147h2v1h-2zM716 139h2v1h-2zM714 152h2v1h-2zM715 148h2v1h-2zM715 144h2v1h-2zM713 142h2v1h-2zM713 146h2v1h-2zM716 142h2v1h-2zM711 143h2v1h-2zM715 142h2v1h-2zM715 142h2v1h-2zM711 146h2v1h-2zM709 144h2v1h-2zM711 145h2v1h-2zM709 145h2v1h-2zM711 146h2v1h-2zM711 145h2v1h-2zM709 146h2v1h-2zM714 146h2v1h-2zM731 122h2v1h-2zM731 125h2v1h-2zM720 131h2v1h-2zM729 125h2v1h-2zM718 128h2v1h-2zM718 124h2v1h-2zM717 123h2v1h-2zM731 124h2v1h-2zM736 124h2v1h-2zM732 129h2v1h-2zM729 128h2v1h-2zM719 130h2v1h-2zM734 127h2v1h-2zM720 122h2v1h-2zM721 132h2v1h-2zM723 124h2v1h-2zM727 121h2v1h-2zM732 130h2v1h-2zM722 121h2v1h-2zM734 130h2v1h-2zM731 123h2v1h-2zM735 128h2v1h-2zM717 132h2v1h-2zM730 123h2v1h-2zM734 128h2v1h-2zM729 121h2v1h-2zM721 130h2v1h-2zM717 123h2v1h-2zM718 128h2v1h-2zM719 130h2v1h-2zM725 130h2v1h-2zM734 132h2v1h-2zM720 125h2v1h-2zM732 125h2v1h-2zM735 125h2v1h-2zM729 124h2v1h-2zM730 124h2v1h-2zM725 129h2v1h-2zM733 122h2v1h-2zM720 123h2v1h-2zM731 129h2v1h-2zM730 130h2v1h-2zM721 127h2v1h-2zM716 125h2v1h-2zM728 124h2v1h-2zM732 123h2v1h-2zM725 129h2v1h-2zM721 129h2v1h-2zM724 121h2v1h-2zM718 128h2v1h-2zM732 129h2v1h-2zM733 129h2v1h-2zM732 131h2v1h-2zM728 127h2v1h-2zM720 124h2v1h-2zM718 122h2v1h-2zM724 124h2v1h-2zM727 130h2v1h-2zM722 131h2v1h-2zM733 123h2v1h-2zM728 123h2v1h-2zM718 123h2v1h-2zM720 121h2v1h-2zM717 130h2v1h-2zM733 131h2v1h-2zM718 121h2v1h-2zM733 125h2v1h-2zM723 129h2v1h-2zM727 125h2v1h-2zM719 122h2v1h-2zM730 131h2v1h-2zM717 123h2v1h-2zM727 124h2v1h-2zM743 138h2v1h-2zM739 134h2v1h-2zM741 142h2v1h-2zM736 139h2v1h-2zM748 139h2v1h-2zM740 143h2v1h-2zM748 144h2v1h-2zM739 138h2v1h-2zM742 142h2v1h-2zM745 139h2v1h-2zM743 143h2v1h-2zM740 134h2v1h-2zM737 135h2v1h-2zM736 144h2v1h-2zM744 142h2v1h-2zM742 139h2v1h-2zM738 143h2v1h-2zM741 137h2v1h-2zM747 143h2v1h-2zM751 138h2v1h-2zM741 142h2v1h-2zM741 135h2v1h-2zM742 136h2v1h-2zM739 142h2v1h-2zM740 140h2v1h-2zM739 134h2v1h-2zM748 142h2v1h-2zM746 140h2v1h-2zM737 138h2v1h-2zM749 142h2v1h-2zM744 140h2v1h-2zM737 133h2v1h-2zM749 133h2v1h-2zM738 137h2v1h-2zM746 141h2v1h-2zM749 143h2v1h-2zM739 135h2v1h-2zM736 136h2v1h-2zM736 144h2v1h-2zM744 138h2v1h-2zM735 143h2v1h-2zM738 142h2v1h-2zM738 136h2v1h-2zM736 139h2v1h-2zM739 139h2v1h-2zM747 135h2v1h-2zM736 139h2v1h-2zM741 138h2v1h-2zM740 134h2v1h-2zM736 141h2v1h-2zM745 141h2v1h-2zM745 139h2v1h-2zM737 143h2v1h-2zM743 138h2v1h-2zM739 137h2v1h-2zM751 137h2v1h-2zM748 134h2v1h-2zM744 136h2v1h-2zM738 136h2v1h-2zM741 140h2v1h-2zM741 143h2v1h-2zM737 143h2v1h-2zM742 142h2v1h-2zM741 136h2v1h-2zM750 140h2v1h-2zM747 139h2v1h-2zM769 135h2v1h-2zM770 135h2v1h-2zM756 129h2v1h-2zM775 134h2v1h-2zM775 130h2v1h-2zM758 135h2v1h-2zM751 127h2v1h-2zM750 129h2v1h-2zM758 129h2v1h-2zM760 126h2v1h-2zM756 131h2v1h-2zM746 130h2v1h-2zM776 132h2v1h-2zM777 134h2v1h-2zM761 126h2v1h-2zM746 131h2v1h-2zM773 129h2v1h-2zM748 133h2v1h-2zM763 130h2v1h-2zM748 131h2v1h-2zM764 133h2v1h-2zM775 126h2v1h-2zM773 129h2v1h-2zM758 129h2v1h-2zM772 130h2v1h-2zM746 130h2v1h-2zM749 126h2v1h-2zM745 129h2v1h-2zM760 126h2v1h-2zM749 135h2v1h-2zM763 135h2v1h-2zM763 135h2v1h-2zM768 129h2v1h-2zM745 127h2v1h-2zM772 132h2v1h-2zM754 127h2v1h-2zM766 135h2v1h-2zM752 135h2v1h-2zM763 128h2v1h-2zM750 133h2v1h-2zM776 128h2v1h-2zM752 127h2v1h-2zM751 128h2v1h-2zM758 128h2v1h-2zM767 128h2v1h-2zM753 130h2v1h-2zM750 126h2v1h-2zM747 126h2v1h-2zM767 126h2v1h-2zM761 134h2v1h-2zM765 129h2v1h-2zM758 130h2v1h-2zM755 126h2v1h-2zM749 127h2v1h-2zM751 129h2v1h-2zM747 132h2v1h-2zM751 131h2v1h-2zM768 131h2v1h-2zM770 133h2v1h-2zM759 128h2v1h-2zM745 132h2v1h-2zM757 129h2v1h-2zM747 127h2v1h-2zM775 130h2v1h-2zM774 134h2v1h-2zM752 128h2v1h-2zM775 128h2v1h-2zM765 135h2v1h-2zM760 130h2v1h-2zM777 134h2v1h-2zM776 133h2v1h-2zM752 126h2v1h-2zM744 135h2v1h-2zM763 134h2v1h-2zM777 128h2v1h-2zM778 128h2v1h-2zM750 128h2v1h-2zM779 135h2v1h-2zM756 130h2v1h-2zM773 134h2v1h-2zM775 129h2v1h-2zM752 131h2v1h-2zM777 132h2v1h-2zM774 128h2v1h-2zM762 135h2v1h-2zM764 133h2v1h-2zM772 130h2v1h-2zM768 132h2v1h-2zM759 131h2v1h-2zM772 134h2v1h-2zM778 129h2v1h-2zM768 131h2v1h-2zM774 128h2v1h-2zM760 128h2v1h-2zM772 133h2v1h-2zM744 127h2v1h-2zM749 131h2v1h-2zM771 129h2v1h-2zM746 131h2v1h-2zM765 130h2v1h-2zM753 129h2v1h-2zM752 134h2v1h-2zM757 133h2v1h-2zM763 128h2v1h-2zM754 132h2v1h-2zM774 135h2v1h-2zM749 128h2v1h-2zM747 128h2v1h-2zM757 133h2v1h-2zM776 131h2v1h-2zM749 129h2v1h-2zM749 128h2v1h-2zM764 131h2v1h-2zM750 128h2v1h-2zM775 132h2v1h-2zM765 129h2v1h-2zM754 133h2v1h-2zM744 132h2v1h-2zM777 132h2v1h-2zM745 126h2v1h-2zM771 128h2v1h-2zM759 132h2v1h-2zM767 129h2v1h-2zM768 135h2v1h-2zM760 130h2v1h-2zM768 134h2v1h-2zM768 135h2v1h-2zM771 135h2v1h-2zM753 132h2v1h-2zM751 127h2v1h-2zM756 135h2v1h-2zM754 129h2v1h-2zM776 135h2v1h-2zM770 129h2v1h-2zM773 126h2v1h-2zM744 126h2v1h-2zM755 128h2v1h-2zM774 130h2v1h-2zM774 130h2v1h-2zM757 129h2v1h-2zM745 130h2v1h-2zM777 135h2v1h-2zM776 127h2v1h-2zM759 134h2v1h-2zM749 126h2v1h-2zM751 127h2v1h-2zM770 133h2v1h-2zM778 126h2v1h-2zM768 133h2v1h-2zM750 126h2v1h-2zM778 133h2v1h-2zM746 128h2v1h-2zM767 127h2v1h-2zM759 127h2v1h-2zM747 130h2v1h-2zM763 134h2v1h-2zM744 129h2v1h-2zM746 131h2v1h-2zM750 129h2v1h-2zM778 132h2v1h-2zM767 132h2v1h-2zM778 141h2v1h-2zM790 147h2v1h-2zM788 146h2v1h-2zM778 140h2v1h-2zM788 145h2v1h-2zM778 139h2v1h-2zM778 139h2v1h-2zM790 147h2v1h-2zM782 140h2v1h-2zM778 139h2v1h-2zM790 149h2v1h-2zM784 145h2v1h-2zM788 151h2v1h-2zM780 138h2v1h-2zM789 149h2v1h-2zM789 146h2v1h-2zM787 144h2v1h-2zM777 135h2v1h-2zM781 141h2v1h-2zM785 148h2v1h-2zM782 143h2v1h-2zM781 141h2v1h-2zM779 136h2v1h-2zM779 141h2v1h-2zM787 148h2v1h-2zM782 142h2v1h-2zM778 137h2v1h-2zM791 150h2v1h-2zM781 142h2v1h-2zM783 141h2v1h-2zM782 141h2v1h-2zM789 151h2v1h-2zM779 140h2v1h-2zM778 143h2v1h-2zM777 138h2v1h-2zM775 136h2v1h-2zM782 139h2v1h-2zM777 138h2v1h-2zM782 141h2v1h-2zM776 136h2v1h-2zM780 138h2v1h-2zM784 142h2v1h-2zM803 150h2v1h-2zM787 148h2v1h-2zM807 151h2v1h-2zM808 151h2v1h-2zM807 146h2v1h-2zM812 150h2v1h-2zM802 152h2v1h-2zM788 151h2v1h-2zM798 149h2v1h-2zM812 146h2v1h-2zM802 144h2v1h-2zM788 152h2v1h-2zM794 148h2v1h-2zM790 152h2v1h-2zM803 151h2v1h-2zM795 148h2v1h-2zM794 149h2v1h-2zM809 149h2v1h-2zM805 147h2v1h-2zM816 144h2v1h-2zM792 150h2v1h-2zM817 151h2v1h-2zM794 152h2v1h-2zM801 149h2v1h-2zM807 149h2v1h-2zM814 151h2v1h-2zM797 151h2v1h-2zM797 150h2v1h-2zM792 149h2v1h-2zM796 152h2v1h-2zM807 147h2v1h-2zM817 145h2v1h-2zM810 149h2v1h-2zM787 148h2v1h-2zM790 152h2v1h-2zM790 149h2v1h-2zM804 145h2v1h-2zM816 149h2v1h-2zM806 146h2v1h-2zM791 147h2v1h-2zM788 146h2v1h-2zM802 147h2v1h-2zM810 145h2v1h-2zM793 148h2v1h-2zM808 147h2v1h-2zM793 145h2v1h-2zM798 147h2v1h-2zM812 146h2v1h-2zM797 150h2v1h-2zM793 145h2v1h-2zM817 151h2v1h-2zM797 147h2v1h-2zM801 146h2v1h-2zM811 151h2v1h-2zM809 147h2v1h-2zM813 152h2v1h-2zM792 150h2v1h-2zM792 152h2v1h-2zM812 147h2v1h-2zM810 147h2v1h-2zM789 148h2v1h-2zM789 148h2v1h-2zM813 149h2v1h-2zM795 146h2v1h-2zM804 148h2v1h-2zM815 146h2v1h-2zM801 148h2v1h-2zM798 146h2v1h-2zM799 149h2v1h-2zM793 147h2v1h-2zM803 152h2v1h-2zM802 147h2v1h-2zM788 148h2v1h-2zM797 145h2v1h-2zM801 149h2v1h-2zM798 150h2v1h-2zM806 145h2v1h-2zM788 148h2v1h-2zM806 149h2v1h-2zM794 147h2v1h-2zM809 147h2v1h-2zM803 146h2v1h-2zM806 148h2v1h-2zM787 150h2v1h-2zM812 152h2v1h-2zM816 150h2v1h-2zM801 146h2v1h-2zM809 148h2v1h-2zM797 145h2v1h-2zM806 150h2v1h-2zM811 145h2v1h-2zM793 149h2v1h-2zM791 151h2v1h-2zM816 149h2v1h-2zM795 149h2v1h-2zM811 147h2v1h-2zM807 149h2v1h-2zM815 150h2v1h-2zM808 149h2v1h-2zM814 149h2v1h-2zM808 147h2v1h-2zM790 149h2v1h-2zM794 152h2v1h-2zM794 151h2v1h-2zM797 146h2v1h-2zM805 147h2v1h-2zM818 149h2v1h-2zM790 147h2v1h-2zM790 148h2v1h-2zM803 147h2v1h-2zM808 148h2v1h-2zM812 150h2v1h-2zM795 151h2v1h-2zM788 146h2v1h-2zM815 155h2v1h-2zM827 153h2v1h-2zM837 137h2v1h-2zM835 136h2v1h-2zM830 152h2v1h-2zM823 154h2v1h-2zM832 146h2v1h-2zM821 139h2v1h-2zM816 147h2v1h-2zM826 139h2v1h-2zM826 137h2v1h-2zM821 149h2v1h-2zM818 146h2v1h-2zM817 154h2v1h-2zM819 155h2v1h-2zM836 155h2v1h-2zM821 149h2v1h-2zM816 155h2v1h-2zM830 136h2v1h-2zM817 138h2v1h-2zM822 155h2v1h-2zM833 142h2v1h-2zM833 136h2v1h-2zM827 143h2v1h-2zM816 154h2v1h-2zM829 156h2v1h-2zM829 148h2v1h-2zM817 145h2v1h-2zM835 147h2v1h-2zM829 145h2v1h-2zM822 136h2v1h-2zM819 139h2v1h-2zM816 137h2v1h-2zM832 156h2v1h-2zM830 153h2v1h-2zM819 153h2v1h-2zM823 153h2v1h-2zM820 142h2v1h-2zM826 140h2v1h-2zM820 150h2v1h-2zM833 156h2v1h-2zM829 143h2v1h-2zM825 148h2v1h-2zM828 154h2v1h-2zM827 155h2v1h-2zM825 145h2v1h-2zM815 142h2v1h-2zM825 136h2v1h-2zM824 138h2v1h-2zM820 154h2v1h-2zM836 138h2v1h-2zM828 145h2v1h-2zM815 142h2v1h-2zM827 144h2v1h-2zM827 137h2v1h-2zM828 148h2v1h-2zM818 147h2v1h-2zM836 154h2v1h-2zM828 146h2v1h-2zM832 145h2v1h-2zM831 143h2v1h-2zM827 151h2v1h-2zM828 148h2v1h-2zM823 143h2v1h-2zM829 145h2v1h-2zM824 143h2v1h-2zM821 148h2v1h-2zM835 139h2v1h-2zM829 146h2v1h-2zM829 149h2v1h-2zM823 136h2v1h-2zM823 146h2v1h-2zM829 154h2v1h-2zM829 149h2v1h-2zM822 152h2v1h-2zM817 154h2v1h-2zM851 154h2v1h-2zM858 154h2v1h-2zM869 150h2v1h-2zM836 155h2v1h-2zM842 151h2v1h-2zM869 154h2v1h-2zM844 153h2v1h-2zM842 152h2v1h-2zM838 159h2v1h-2zM860 153h2v1h-2zM837 159h2v1h-2zM866 150h2v1h-2zM865 155h2v1h-2zM869 153h2v1h-2zM849 149h2v1h-2zM854 151h2v1h-2zM865 151h2v1h-2zM865 152h2v1h-2zM863 156h2v1h-2zM867 155h2v1h-2zM846 152h2v1h-2zM842 150h2v1h-2zM844 152h2v1h-2zM863 149h2v1h-2zM852 154h2v1h-2zM839 156h2v1h-2zM841 156h2v1h-2zM840 158h2v1h-2zM845 150h2v1h-2zM839 151h2v1h-2zM838 152h2v1h-2zM868 153h2v1h-2zM848 157h2v1h-2zM836 150h2v1h-2zM865 152h2v1h-2zM840 151h2v1h-2zM860 159h2v1h-2zM848 156h2v1h-2zM850 151h2v1h-2zM845 152h2v1h-2zM843 157h2v1h-2zM837 153h2v1h-2zM860 149h2v1h-2zM868 155h2v1h-2zM857 151h2v1h-2zM841 157h2v1h-2zM869 149h2v1h-2zM863 151h2v1h-2zM836 155h2v1h-2zM837 157h2v1h-2zM864 152h2v1h-2zM839 154h2v1h-2zM860 149h2v1h-2zM859 150h2v1h-2zM847 151h2v1h-2zM836 154h2v1h-2zM844 158h2v1h-2zM866 156h2v1h-2zM852 155h2v1h-2zM845 154h2v1h-2zM853 153h2v1h-2zM850 158h2v1h-2zM869 156h2v1h-2zM864 152h2v1h-2zM836 151h2v1h-2zM851 157h2v1h-2zM860 158h2v1h-2zM862 152h2v1h-2zM835 154h2v1h-2zM845 158h2v1h-2zM866 154h2v1h-2zM861 156h2v1h-2zM852 153h2v1h-2zM868 157h2v1h-2zM854 159h2v1h-2zM839 157h2v1h-2zM853 152h2v1h-2zM838 155h2v1h-2zM865 151h2v1h-2zM866 159h2v1h-2zM840 155h2v1h-2zM851 152h2v1h-2zM838 152h2v1h-2zM867 157h2v1h-2zM868 154h2v1h-2zM851 150h2v1h-2zM849 155h2v1h-2zM869 150h2v1h-2zM857 149h2v1h-2zM868 151h2v1h-2zM858 155h2v1h-2zM841 154h2v1h-2zM849 151h2v1h-2zM848 150h2v1h-2zM859 159h2v1h-2zM853 153h2v1h-2zM852 150h2v1h-2zM860 156h2v1h-2zM837 153h2v1h-2zM838 156h2v1h-2zM834 158h2v1h-2zM836 157h2v1h-2zM840 154h2v1h-2zM859 158h2v1h-2zM865 151h2v1h-2zM859 153h2v1h-2zM864 151h2v1h-2zM880 149h2v1h-2zM875 151h2v1h-2zM879 151h2v1h-2zM865 153h2v1h-2zM862 152h2v1h-2zM866 149h2v1h-2zM864 153h2v1h-2zM863 153h2v1h-2zM863 153h2v1h-2zM861 152h2v1h-2zM871 152h2v1h-2zM880 150h2v1h-2zM881 151h2v1h-2zM877 150h2v1h-2zM881 152h2v1h-2zM870 150h2v1h-2zM879 151h2v1h-2zM881 153h2v1h-2zM876 152h2v1h-2zM864 153h2v1h-2zM875 149h2v1h-2zM861 149h2v1h-2zM865 152h2v1h-2zM876 152h2v1h-2zM868 153h2v1h-2zM863 150h2v1h-2zM869 150h2v1h-2zM876 153h2v1h-2zM876 150h2v1h-2zM872 150h2v1h-2zM872 151h2v1h-2zM863 153h2v1h-2zM877 152h2v1h-2zM862 150h2v1h-2zM876 153h2v1h-2zM873 153h2v1h-2zM869 150h2v1h-2zM870 150h2v1h-2zM868 152h2v1h-2zM867 152h2v1h-2zM873 149h2v1h-2zM871 153h2v1h-2zM874 153h2v1h-2zM874 153h2v1h-2zM861 151h2v1h-2zM864 152h2v1h-2zM866 152h2v1h-2zM874 149h2v1h-2zM873 150h2v1h-2zM865 152h2v1h-2zM874 150h2v1h-2zM875 149h2v1h-2zM861 153h2v1h-2zM880 153h2v1h-2zM881 152h2v1h-2zM872 151h2v1h-2zM871 153h2v1h-2zM881 151h2v1h-2zM864 151h2v1h-2zM869 153h2v1h-2zM880 152h2v1h-2zM862 151h2v1h-2zM863 151h2v1h-2zM878 152h2v1h-2zM870 149h2v1h-2zM880 153h2v1h-2zM870 149h2v1h-2zM875 151h2v1h-2zM868 151h2v1h-2zM886 144h2v1h-2zM892 148h2v1h-2zM888 150h2v1h-2zM889 144h2v1h-2zM886 148h2v1h-2zM892 149h2v1h-2zM893 146h2v1h-2zM893 148h2v1h-2zM885 144h2v1h-2zM891 151h2v1h-2zM896 151h2v1h-2zM894 148h2v1h-2zM885 146h2v1h-2zM895 145h2v1h-2zM889 148h2v1h-2zM882 144h2v1h-2zM885 150h2v1h-2zM894 144h2v1h-2zM884 152h2v1h-2zM884 150h2v1h-2zM891 151h2v1h-2zM893 144h2v1h-2zM894 150h2v1h-2zM882 152h2v1h-2zM886 147h2v1h-2zM890 148h2v1h-2zM890 143h2v1h-2zM895 148h2v1h-2zM883 148h2v1h-2zM884 147h2v1h-2zM893 150h2v1h-2zM884 145h2v1h-2zM897 149h2v1h-2zM884 149h2v1h-2zM885 143h2v1h-2zM892 144h2v1h-2zM884 149h2v1h-2zM897 143h2v1h-2zM893 144h2v1h-2zM882 143h2v1h-2zM882 150h2v1h-2zM896 143h2v1h-2zM884 143h2v1h-2zM888 146h2v1h-2zM884 151h2v1h-2zM883 149h2v1h-2zM884 149h2v1h-2zM884 145h2v1h-2zM911 152h2v1h-2zM904 156h2v1h-2zM911 155h2v1h-2zM899 156h2v1h-2zM907 155h2v1h-2zM903 157h2v1h-2zM898 155h2v1h-2zM905 158h2v1h-2zM908 152h2v1h-2zM903 155h2v1h-2zM903 150h2v1h-2zM911 154h2v1h-2zM899 151h2v1h-2zM897 158h2v1h-2zM899 155h2v1h-2zM911 157h2v1h-2zM906 152h2v1h-2zM907 157h2v1h-2zM900 152h2v1h-2zM903 155h2v1h-2zM910 155h2v1h-2zM901 156h2v1h-2zM899 151h2v1h-2zM897 155h2v1h-2zM905 154h2v1h-2zM905 152h2v1h-2zM900 155h2v1h-2zM903 154h2v1h-2zM910 154h2v1h-2zM908 150h2v1h-2zM904 150h2v1h-2zM900 152h2v1h-2zM903 151h2v1h-2zM911 153h2v1h-2zM901 151h2v1h-2zM902 157h2v1h-2zM905 158h2v1h-2zM906 156h2v1h-2zM903 157h2v1h-2zM904 151h2v1h-2zM900 157h2v1h-2zM898 152h2v1h-2zM906 156h2v1h-2zM904 156h2v1h-2zM903 155h2v1h-2zM898 154h2v1h-2zM911 155h2v1h-2zM902 156h2v1h-2zM911 154h2v1h-2zM903 157h2v1h-2zM931 150h2v1h-2zM927 151h2v1h-2zM920 155h2v1h-2zM920 156h2v1h-2zM923 156h2v1h-2zM914 152h2v1h-2zM912 156h2v1h-2zM932 152h2v1h-2zM922 157h2v1h-2zM920 151h2v1h-2zM915 156h2v1h-2zM930 153h2v1h-2zM928 156h2v1h-2zM927 149h2v1h-2zM926 156h2v1h-2zM922 152h2v1h-2zM926 150h2v1h-2zM917 154h2v1h-2zM934 149h2v1h-2zM927 153h2v1h-2zM912 150h2v1h-2zM918 154h2v1h-2zM915 151h2v1h-2zM926 155h2v1h-2zM934 156h2v1h-2zM916 153h2v1h-2zM925 153h2v1h-2zM925 152h2v1h-2zM917 154h2v1h-2zM931 154h2v1h-2zM927 157h2v1h-2zM917 153h2v1h-2zM930 154h2v1h-2zM912 153h2v1h-2zM930 150h2v1h-2zM920 157h2v1h-2zM922 153h2v1h-2zM925 156h2v1h-2zM922 156h2v1h-2zM928 152h2v1h-2zM926 151h2v1h-2zM913 152h2v1h-2zM913 151h2v1h-2zM931 157h2v1h-2zM916 150h2v1h-2zM920 152h2v1h-2zM915 155h2v1h-2zM915 153h2v1h-2zM918 154h2v1h-2zM914 153h2v1h-2zM931 148h2v1h-2zM916 149h2v1h-2zM931 154h2v1h-2zM917 156h2v1h-2zM915 152h2v1h-2zM928 154h2v1h-2zM913 149h2v1h-2zM916 157h2v1h-2zM932 151h2v1h-2zM913 154h2v1h-2zM916 156h2v1h-2zM932 155h2v1h-2zM929 155h2v1h-2zM930 152h2v1h-2zM928 148h2v1h-2zM927 152h2v1h-2zM934 155h2v1h-2zM922 154h2v1h-2zM925 154h2v1h-2zM912 150h2v1h-2zM917 154h2v1h-2zM932 154h2v1h-2zM929 154h2v1h-2zM915 150h2v1h-2zM925 155h2v1h-2zM921 154h2v1h-2zM919 151h2v1h-2zM915 152h2v1h-2zM925 149h2v1h-2zM933 148h2v1h-2z" fill="#000" shape-rendering="crispEdges"/>
<rect x="208" y="125" width="3" height="3" fill="#000"/>
<polyline fill="none" stroke="#000" stroke-width="1.15" stroke-linejoin="round" points="88.9,182.6 89.8,182.6 90.8,183.4 91.7,183.1 92.7,183.2 93.6,184.1 94.4,183.2 95.2,183.1 96.0,182.4 96.8,181.6 97.9,185.3 98.8,184.9 99.7,184.1 100.6,183.5 101.5,183.5 102.4,182.9 103.3,182.0 104.1,183.7 104.9,185.5 105.7,186.8 106.5,188.8 107.5,187.7 108.6,186.5 109.4,187.6 110.2,188.2 111.0,188.3 111.8,189.4 112.7,190.5 113.5,190.8 114.3,191.8 115.1,191.8 115.9,193.1 116.7,194.5 117.5,195.8 118.3,197.1 119.2,198.1 120.1,199.2 121.0,200.4 121.9,201.2 122.8,201.5 123.7,203.0 124.6,203.2 125.5,203.2 126.4,203.3 127.4,204.3 128.3,204.0 129.2,204.4 130.1,204.7 130.9,205.6 131.7,206.1 132.5,206.5 133.3,206.9 134.2,207.3 135.0,207.3 135.8,207.4 136.6,208.0 137.5,208.3 138.3,208.6 139.2,209.0 140.0,209.6 140.9,209.7 141.8,210.3 142.6,211.2 143.5,211.0 144.3,211.6 145.2,212.3 146.1,211.9 146.9,212.8 147.8,212.9 148.6,212.8 149.5,213.9 150.3,214.0 151.2,213.6 152.1,214.6 152.9,214.4 153.8,214.7 154.6,214.6 155.4,214.6 156.3,215.4 157.2,215.7 158.0,215.4 158.8,215.5 159.6,216.3 160.4,216.3 161.2,216.6 162.1,217.3 162.9,217.3 163.7,217.2 164.5,218.0 165.3,218.2 166.1,218.2 167.0,218.7 167.8,218.5 168.6,218.8 169.4,218.4 170.3,218.8 171.1,219.0 171.9,219.3 172.7,219.5 173.6,219.3 174.4,220.0 175.2,219.6 176.1,220.0 176.9,220.5 177.8,220.2 178.6,220.7 179.5,221.3 180.4,221.5 181.2,221.4 182.1,221.4 182.9,222.1 183.8,222.4 184.6,222.0 185.4,222.6 186.2,223.0 187.1,223.4 187.9,223.2 188.7,224.0 189.5,224.1 190.3,224.6 191.1,224.9 191.9,224.8 192.8,224.9 193.6,224.8 194.4,224.9 195.2,225.2 196.1,225.7 196.9,225.7 197.7,225.6 198.5,226.3 199.4,226.1 200.2,226.7 201.0,226.5 201.8,226.9 202.6,226.8 203.4,227.7 204.2,227.5 205.1,227.9 205.9,228.0 206.7,228.3 207.5,228.3 208.4,228.9 209.2,229.4 210.1,230.1 210.9,230.0 211.8,230.5 212.7,231.3 213.5,231.6 214.4,232.4 215.2,232.0 216.1,232.8 216.9,233.2 217.7,233.2 218.5,232.9 219.3,233.1 220.1,233.1 220.9,232.8 221.7,232.9 222.5,233.1 223.3,233.6 224.1,233.0 224.9,233.0 225.7,233.3 226.5,233.4 227.3,233.3 228.1,233.0 228.9,233.0 229.8,232.6 230.6,233.3 231.4,232.9 232.2,232.8 233.0,232.7 233.8,232.9 234.6,232.6 235.4,232.7 236.3,232.7 237.1,233.0 238.0,233.5 238.8,233.5 239.7,233.5 240.5,234.4 241.3,233.9 242.1,234.4 242.9,234.5 243.7,234.4 244.5,234.8 245.3,235.2 246.1,235.6 247.0,235.0 247.8,235.0 248.7,235.3 249.5,234.9 250.4,234.6 251.3,233.8 252.1,233.7 253.0,233.3 253.8,232.1 254.7,232.1 255.6,231.3 256.4,230.9 257.3,230.1 258.1,229.8 259.0,229.4 259.9,229.0 260.7,229.1 261.6,228.8 262.4,227.8 263.3,227.8 264.1,227.0 264.9,227.0 265.7,226.4 266.6,226.8 267.4,226.1 268.2,225.9 269.0,225.8 269.8,225.3 270.7,224.8 271.6,224.6 272.5,223.9 273.5,223.5 274.4,222.8 275.3,222.2 276.2,221.9 277.3,223.3 278.3,223.6 279.4,223.9 280.2,223.2 281.0,222.7 281.9,221.8 282.7,221.4 283.6,221.8 284.4,221.5 285.3,222.6 286.1,223.2 287.0,223.4 287.9,223.0 288.7,221.8 289.6,221.4 290.4,220.8 291.3,220.3 292.1,219.5 293.0,219.0 293.8,217.9 294.7,217.6 295.5,216.8 296.3,215.8 297.1,213.9 298.0,212.8 298.8,211.7 300.0,210.5 300.9,209.3 301.8,207.6 302.7,206.4 303.6,205.4 304.5,204.5 305.4,202.8 306.4,205.8 307.5,207.9 308.6,208.3 309.6,208.7 310.7,209.2 311.5,208.7 312.3,208.3 313.1,207.0 313.9,206.2 314.8,206.2 315.6,205.3 316.4,204.9 317.2,204.1 318.0,202.9 318.8,202.4 319.6,201.6 320.4,201.2 321.2,200.3 322.0,200.2 322.8,199.5 323.6,198.2 324.4,198.3 325.3,197.6 326.1,196.4 327.0,196.2 327.8,195.6 328.7,194.7 329.5,193.7 330.4,193.3 331.2,192.7 332.0,192.8 332.9,193.4 333.7,193.6 334.5,194.1 335.4,195.2 336.2,195.2 337.0,196.0 337.9,196.3 338.7,197.0 339.6,195.9 340.4,194.9 341.3,194.7 342.1,193.6 343.0,192.8 343.9,192.9 344.7,192.8 345.6,193.0 346.4,192.7 347.3,192.3 348.2,192.1 349.0,192.1 349.9,191.6 350.7,191.6 351.6,191.7 352.5,191.8 353.4,191.3 354.3,190.8 355.3,191.3 356.2,190.9 357.1,190.2 358.0,190.2 358.9,189.6 359.7,189.9 360.6,189.1 361.4,189.4 362.3,189.0 363.2,189.6 364.0,190.0 364.9,190.2 365.7,190.6 366.6,191.7 367.5,190.4 368.4,190.2 369.3,189.7 370.2,188.4 371.1,188.0 372.0,187.3 373.1,188.4 374.1,189.9 375.2,191.7 376.1,191.7 377.0,192.2 377.9,192.6 378.8,193.7 379.7,194.1 380.6,193.9 381.5,194.6 382.4,194.8 383.2,194.8 384.1,195.4 385.0,196.1 385.9,195.9 386.7,196.7 387.5,196.0 388.3,196.0 389.1,196.5 390.0,195.7 390.8,195.7 391.6,195.9 392.4,195.7 393.2,196.7 394.0,198.0 394.8,199.3 395.6,199.8 396.4,200.5 397.2,201.8 398.0,203.2 398.8,203.8 399.7,203.8 400.5,204.3 401.4,204.6 402.2,205.0 403.1,205.3 404.0,206.0 404.8,206.3 405.7,206.1 406.5,206.5 407.4,207.4 408.3,207.8 409.1,208.0 410.0,207.8 410.8,208.6 411.7,208.3 412.6,209.2 413.4,209.1 414.3,210.0 415.1,210.3 416.0,210.3 416.9,210.9 417.7,211.6 418.6,211.9 419.4,212.2 420.3,212.6 421.2,212.8 422.0,213.5 422.9,213.4 423.7,214.1 424.6,214.2 425.5,214.7 426.3,215.6 427.2,215.8 428.0,216.1 428.9,217.2 429.8,217.0 430.6,217.6 431.5,218.0 432.3,218.2 433.2,219.3 434.1,219.5 434.9,219.9 435.8,219.7 436.6,220.5 437.5,220.9 438.4,221.2 439.2,220.9 440.1,221.2 440.9,221.4 441.8,221.7 442.7,222.5 443.5,222.0 444.4,222.6 445.2,222.6 446.1,223.2 447.0,222.7 447.8,223.5 448.7,223.9 449.5,223.4 450.4,223.7 451.2,224.2 452.0,224.0 452.8,224.7 453.6,225.0 454.4,224.5 455.2,224.9 456.0,224.8 456.9,225.4 457.7,225.4 458.5,226.1 459.3,226.1 460.1,226.5 460.9,226.5 461.7,226.7 462.5,226.5 463.3,226.9 464.1,226.5 464.9,226.8 465.7,227.3 466.5,227.4 467.3,226.7 468.1,227.1 468.9,227.0 469.8,227.3 470.6,227.3 471.4,227.0 472.2,227.6 473.0,227.3 473.8,227.6 474.6,227.6 475.4,227.9 476.2,227.5 477.0,227.9 477.8,228.3 478.6,228.2 479.4,228.3 480.2,229.3 481.0,229.5 481.8,229.8 482.6,230.2 483.4,229.9 484.2,230.8 485.0,230.9 485.8,231.5 486.7,231.0 487.5,231.2 488.4,230.4 489.2,230.4 490.1,230.6 490.9,230.6 491.8,230.2 492.6,229.9 493.4,230.5 494.3,229.6 495.1,230.3 496.0,229.6 496.8,229.9 497.7,229.7 498.5,229.7 499.4,230.1 500.2,230.3 501.1,230.9 501.9,230.9 502.8,231.5 503.6,231.6 504.4,231.7 505.3,232.5 506.1,232.5 507.0,233.4 507.8,233.2 508.7,233.4 509.5,234.1 510.4,234.3 511.3,233.8 512.2,234.1 513.2,233.7 514.1,234.3 515.0,233.7 515.8,233.8 516.6,234.0 517.4,234.8 518.2,235.1 519.1,234.5 519.9,234.2 520.8,233.9 521.6,233.5 522.5,233.0 523.4,233.6 524.3,234.0 525.2,233.7 526.1,234.8 527.0,234.5 527.9,235.0 528.8,235.1 529.7,235.8 530.6,235.9 531.6,236.3 532.5,236.5 533.4,236.9 534.3,236.8 535.2,237.4 536.0,236.7 536.9,236.4 537.7,236.6 538.6,235.9 539.4,235.7 540.2,234.6 541.1,233.7 541.9,233.4 542.8,233.9 543.6,234.6 544.5,236.1 545.3,236.8 546.2,237.2 547.0,237.0 547.9,236.5 548.7,235.7 549.6,235.1 550.4,235.1 551.2,234.7 552.1,235.1 552.9,235.0 553.8,234.6 554.6,235.0 555.5,235.2 556.3,234.7 557.2,235.1 558.0,234.6 558.8,234.2 559.6,234.6 560.5,234.5 561.3,235.0 562.1,234.6 562.9,235.0 563.8,234.3 564.6,234.5 565.4,234.2 566.2,234.2 567.1,234.8 567.9,234.2 568.7,234.3 569.6,234.2 570.4,234.3 571.3,233.3 572.1,232.8 573.0,233.1 573.8,233.0 574.7,232.4 575.5,233.0 576.3,232.9 577.2,232.9 578.0,232.7 578.8,232.3 579.6,232.4 580.5,231.8 581.3,232.2 582.1,231.8 583.0,231.7 583.8,231.6 584.6,231.3 585.4,231.8 586.2,231.6 587.0,230.8 587.8,231.1 588.6,230.5 589.4,230.9 590.2,230.4 591.0,231.0 591.8,230.3 592.6,230.3 593.4,229.9 594.2,230.4 595.0,229.4 595.8,229.6 596.6,229.4 597.5,230.0 598.3,229.9 599.2,230.6 600.0,230.3 600.9,230.4 601.7,230.5 602.5,230.0 603.3,229.8 604.1,230.0 605.0,229.8 605.8,229.3 606.6,229.1 607.4,229.2 608.3,229.1 609.1,229.1 610.0,229.3 610.8,228.8 611.7,228.7 612.6,228.7 613.4,229.3 614.3,229.2 615.1,228.7 616.0,228.8 616.9,228.9 617.8,229.6 618.7,229.2 619.7,229.5 620.6,229.1 621.5,229.1 622.4,229.4 623.2,229.7 624.1,229.4 624.9,229.7 625.7,229.6 626.6,229.4 627.4,229.6 628.2,229.5 629.0,229.3 629.9,228.5 630.7,228.7 631.5,228.4 632.4,228.8 633.2,228.6 634.1,228.6 635.0,228.9 635.9,229.6 636.7,230.1 637.6,230.3 638.5,230.7 639.4,231.0 640.3,231.2 641.2,231.4 642.1,231.4 643.0,231.3 643.9,232.1 644.8,230.7 645.6,230.3 646.5,229.6 647.3,229.3 648.2,228.7 649.1,227.5 650.0,227.2 650.9,226.5 651.8,225.9 652.7,224.6 653.6,224.5 654.7,225.5 655.7,227.1 656.8,228.3 657.7,228.7 658.5,228.3 659.4,228.2 660.2,227.7 661.1,227.1 662.2,226.9 663.2,226.0 664.3,226.6 665.4,227.8 666.2,226.5 667.0,226.3 667.8,225.4 668.6,225.5 669.4,225.9 670.3,225.1 671.1,225.5 671.9,226.2 672.8,225.7 673.6,225.9 674.4,226.6 675.3,226.7 676.1,226.3 676.9,226.7 677.7,226.9 678.5,226.7 679.4,226.5 680.2,227.0 681.0,227.4 681.8,227.8 682.6,227.4 683.5,227.2 684.4,226.9 685.3,226.8 686.2,226.1 687.1,226.6 688.0,226.4 688.9,226.1 689.8,226.6 690.6,227.3 691.5,227.7 692.4,228.7 693.3,229.3 694.1,229.2 695.0,229.7 695.8,229.1 696.6,229.2 697.5,229.5 698.3,229.7 699.1,229.6 699.9,230.4 700.8,230.4 701.6,230.1 702.4,230.2 703.3,230.4 704.1,230.6 705.0,230.5 705.8,230.3 706.7,230.1 707.5,229.0 708.4,228.8 709.3,228.7 710.1,228.9 711.0,228.1 711.8,228.0 712.7,227.8 713.6,227.7 714.4,227.8 715.3,228.4 716.1,228.5 717.0,229.0 717.9,228.9 718.7,230.0 719.6,230.1 720.4,230.9 721.3,231.2 722.1,231.1 722.9,231.3 723.7,230.6 724.5,230.7 725.3,230.8 726.1,231.1 726.9,230.5 727.7,231.0 728.9,230.6 730.0,231.2 730.9,231.4 731.8,231.7 732.7,231.6 733.5,232.0 734.4,232.0 735.3,231.8 736.2,232.0 737.0,231.8 737.8,232.2 738.7,231.6 739.5,231.4 740.3,231.4 741.1,231.4 741.9,231.8 742.8,231.6 743.6,231.1 744.4,231.2 745.3,232.0 746.1,232.3 747.0,232.0 747.9,232.9 748.8,232.4 749.6,233.5 750.5,233.2 751.4,234.0 752.2,233.3 753.1,234.1 753.9,234.5 754.8,234.6 755.6,234.5 756.5,234.3 757.4,234.6 758.2,235.4 759.1,235.5 759.9,235.1 760.8,235.4 761.6,235.7 762.5,235.5 763.3,235.5 764.2,236.2 765.0,235.6 765.9,236.1 766.8,236.0 767.6,236.1 768.5,236.6 769.3,236.6 770.1,236.7 771.0,236.1 771.8,236.6 772.6,236.4 773.5,235.6 774.3,235.6 775.1,235.9 775.9,235.8 776.7,235.4 777.6,235.5 778.4,234.6 779.2,234.6 780.0,235.0 780.8,234.8 781.7,234.1 782.5,234.2 783.3,233.9 784.1,234.3 784.9,234.0 785.8,234.0 786.6,234.4 787.4,234.4 788.2,234.2 789.0,234.6 789.9,234.2 790.7,234.5 791.5,234.3 792.3,234.4 793.1,234.6 794.0,234.3 794.8,234.6 795.6,234.7 796.4,234.6 797.2,234.6 798.1,234.9 798.9,234.7 799.7,234.1 800.5,233.9 801.3,233.8 802.2,234.4 803.0,234.2 803.8,234.1 804.6,234.1 805.4,233.6 806.3,233.3 807.1,233.1 807.9,233.3 808.7,233.5 809.5,232.7 810.4,232.9 811.2,232.5 812.0,232.4 812.8,232.6 813.6,232.6 814.5,232.7 815.3,232.0 816.1,231.8 816.9,231.5 817.7,231.4 818.6,231.2 819.4,231.0 820.2,231.0 821.0,231.5 821.8,231.6 822.7,232.1 823.5,231.9 824.3,231.7 825.1,231.9 825.9,232.5 826.8,232.9 827.6,232.9 828.4,232.6 829.3,232.5 830.1,232.4 831.0,232.2 831.8,231.9 832.7,231.6 833.5,231.3 834.4,231.9 835.3,231.8 836.1,231.7 837.0,230.9 837.8,231.0 838.7,230.4 839.6,230.5 840.4,230.5 841.2,230.9 842.1,231.4 843.0,231.3 843.8,231.1 844.6,231.4 845.5,231.6 846.4,231.4 847.2,231.7 848.0,232.3 848.9,232.0 849.7,232.2 850.6,231.7 851.4,230.9 852.2,231.3 853.0,230.8 853.9,230.3 854.7,229.8 855.5,230.0 856.4,229.3 857.2,229.3 858.0,228.7 858.8,228.7 859.7,228.9 860.5,228.3 861.3,228.0 862.1,227.8 862.9,227.5 863.8,227.2 864.6,226.7 865.4,226.3 866.3,226.4 867.1,226.4 868.0,226.1 868.9,225.4 869.8,225.0 870.6,225.0 871.5,224.2 872.4,224.5 873.3,224.6 874.2,224.7 875.0,223.8 875.9,223.8 876.8,223.9 877.7,223.9 878.5,223.8 879.3,222.7 880.2,222.4 881.0,222.3 881.8,222.2 882.6,221.2 883.4,221.1 884.3,221.0 885.1,220.4 885.9,219.8 886.7,219.5 887.5,220.0 888.4,219.6 889.2,219.5 890.0,219.4 890.8,219.3 891.6,218.8 892.5,218.6 893.3,218.9 894.1,218.0 895.0,218.8 895.8,218.7 896.7,219.0 897.6,218.9 898.5,219.7 899.3,219.3 900.2,219.5 901.1,219.4 902.0,220.2 902.9,220.2 903.7,219.5 904.6,219.7 905.5,219.9 906.4,219.7 907.2,219.7 908.0,219.6 908.9,219.0 909.7,218.4 910.5,218.4 911.4,217.4 912.2,217.0 913.1,216.5 914.0,216.3 914.9,215.8 915.7,215.0 916.6,214.9 917.5,215.3 918.4,215.2 919.3,215.0 920.2,215.2 921.1,214.9 922.0,214.9 922.9,215.1 923.8,214.6 924.7,214.4 925.7,213.7 926.6,212.9 927.6,212.5 928.5,211.6 929.3,212.6 930.2,212.6 931.0,213.5 931.9,213.3 932.9,213.9 933.8,213.7 934.7,214.3"/>
<polyline fill="none" stroke="#ff0000" stroke-width="1.15" stroke-linejoin="round" points="88.9,252.1 89.7,251.4 90.6,252.1 91.4,251.6 92.2,252.2 93.1,251.6 93.9,251.5 94.7,252.0 95.6,251.6 96.4,252.1 97.2,251.8 98.0,251.6 98.9,251.9 99.7,251.6 100.5,251.6 101.4,251.4 102.2,251.6 103.1,251.9 104.0,252.1 104.9,252.7 105.8,253.0 106.7,253.5 107.6,253.7 108.5,253.4 109.4,252.9 110.2,252.4 111.1,252.3 112.0,251.2 112.9,250.9 113.7,250.7 114.6,251.5 115.4,251.4 116.3,251.0 117.1,251.4 117.9,251.2 118.8,251.5 119.6,251.5 120.5,250.9 121.3,250.9 122.1,251.0 123.0,251.5 123.8,251.1 124.6,251.0 125.5,250.7 126.3,251.0 127.2,251.5 128.0,251.0 128.8,251.3 129.6,251.3 130.4,251.2 131.2,250.9 132.0,250.6 132.8,250.4 133.6,250.8 134.4,250.6 135.3,250.5 136.1,249.8 136.9,250.2 137.7,250.1 138.5,249.6 139.3,249.6 140.1,249.7 140.9,249.4 141.7,249.3 142.6,249.3 143.4,249.6 144.2,249.3 145.1,250.0 145.9,249.7 146.7,249.6 147.6,249.6 148.4,249.6 149.2,249.9 150.1,250.0 150.9,249.8 151.7,250.1 152.6,250.0 153.4,250.2 154.2,250.2 155.1,250.2 155.9,249.6 156.7,249.9 157.5,249.7 158.4,250.3 159.2,249.7 160.0,250.4 160.8,249.9 161.7,249.7 162.5,250.2 163.3,249.7 164.1,249.9 165.0,249.9 165.8,250.1 166.6,250.0 167.4,250.1 168.3,250.1 169.1,250.2 169.9,249.9 170.8,249.6 171.6,249.6 172.4,249.4 173.2,249.8 174.1,249.5 174.9,249.6 175.7,249.6 176.6,249.4 177.4,249.5 178.3,249.2 179.1,249.5 180.0,249.8 180.8,249.5 181.7,249.9 182.6,249.5 183.4,249.5 184.3,250.2 185.1,250.0 186.0,250.4 186.8,250.3 187.6,250.2 188.5,250.3 189.3,251.2 190.1,250.8 190.9,250.9 191.8,251.4 192.6,251.8 193.4,251.9 194.2,251.6 195.1,252.5 195.9,252.6 196.7,252.4 197.6,253.2 198.4,253.0 199.3,253.5 200.1,253.1 201.0,253.5 201.9,254.2 202.7,254.3 203.6,254.5 204.4,254.8 205.3,254.4 206.2,255.1 207.0,254.4 207.9,254.6 208.7,254.6 209.6,254.8 210.5,253.9 211.3,253.7 212.2,252.9 213.0,252.6 213.9,252.1 214.8,251.8 215.6,252.4 216.5,251.7 217.3,251.8 218.2,252.4 219.1,251.9 219.9,252.3 220.8,251.7 221.6,251.9 222.5,251.8 223.3,251.7 224.1,252.2 224.9,251.7 225.7,252.1 226.5,251.8 227.3,251.7 228.1,252.1 228.9,252.2 229.8,251.4 230.6,251.9 231.4,252.0 232.2,251.8 233.0,251.7 233.8,252.0 234.6,251.5 235.4,251.8 236.3,251.7 237.1,252.4 238.0,252.4 238.8,252.2 239.7,252.7 240.6,252.6 241.4,252.8 242.3,252.6 243.1,253.2 244.0,253.2 244.8,253.4 245.6,252.6 246.5,252.6 247.3,252.7 248.1,252.1 248.9,252.4 249.8,252.3 250.6,251.6 251.4,251.9 252.2,251.4 253.1,251.2 253.9,251.1 254.7,251.4 255.5,251.0 256.4,250.6 257.2,250.6 258.0,250.5 258.9,249.7 259.7,250.1 260.5,249.6 261.3,249.5 262.2,249.5 263.0,248.7 263.8,248.7 264.7,248.7 265.5,247.9 266.4,248.1 267.2,248.0 268.1,247.8 268.9,247.7 269.8,247.9 270.7,247.1 271.5,247.4 272.4,246.9 273.2,246.6 274.1,246.8 275.0,246.2 275.8,246.2 276.7,245.7 277.5,245.6 278.4,245.1 279.3,245.6 280.1,244.6 281.0,244.5 281.8,244.4 282.7,244.2 283.5,243.4 284.3,243.9 285.2,243.2 286.0,242.7 286.8,242.8 287.6,242.7 288.5,242.3 289.3,242.4 290.1,241.8 290.9,242.0 291.8,241.9 292.6,241.5 293.4,240.6 294.2,241.1 295.0,241.4 295.8,241.5 296.6,241.5 297.4,242.0 298.2,241.8 299.0,242.0 299.8,242.4 300.7,242.7 301.6,242.0 302.5,242.3 303.4,241.9 304.3,241.6 305.2,242.5 306.0,242.9 306.9,243.6 307.7,244.0 308.6,245.0 309.5,244.7 310.3,243.5 311.2,244.0 312.0,242.8 312.9,243.0 313.8,242.1 314.6,242.3 315.5,241.7 316.3,241.0 317.2,241.3 318.0,240.6 318.8,241.0 319.6,240.4 320.4,240.4 321.2,240.1 322.0,240.2 322.8,239.6 323.6,239.6 324.5,239.2 325.3,239.1 326.1,238.7 326.9,238.7 327.7,238.5 328.5,238.7 329.3,238.1 330.1,237.9 331.0,238.8 331.8,238.8 332.7,238.5 333.5,239.4 334.4,239.5 335.3,239.6 336.1,240.2 337.0,240.0 337.8,239.9 338.7,240.0 339.5,240.1 340.3,240.6 341.2,240.8 342.0,241.2 342.8,240.6 343.6,240.7 344.5,240.8 345.3,241.2 346.1,241.8 346.9,241.8 347.8,241.3 348.6,241.9 349.4,241.6 350.2,241.5 351.0,241.4 351.8,241.1 352.6,241.0 353.4,240.7 354.2,240.6 355.0,240.7 355.9,240.5 356.7,240.4 357.5,239.8 358.3,239.4 359.1,239.7 359.9,239.3 360.7,239.0 361.5,239.0 362.3,239.3 363.1,239.1 363.9,239.2 364.8,238.7 365.6,239.2 366.4,239.4 367.2,239.6 368.1,239.6 368.9,239.0 369.7,239.9 370.5,239.1 371.4,239.8 372.2,239.6 373.0,240.1 373.8,240.3 374.6,240.3 375.4,239.8 376.2,240.5 377.0,240.2 377.8,240.7 378.6,240.6 379.4,240.9 380.3,240.9 381.1,241.5 381.9,241.3 382.7,241.6 383.5,242.2 384.3,242.0 385.1,242.4 385.9,242.8 386.8,241.9 387.6,241.3 388.5,240.7 389.3,239.4 390.2,238.6 391.1,240.2 391.9,241.0 392.8,241.3 393.6,242.7 394.5,242.8 395.3,242.7 396.1,243.0 396.9,242.0 397.8,242.4 398.6,241.6 399.4,241.8 400.2,240.9 401.0,241.0 401.8,241.0 402.6,240.9 403.4,241.1 404.2,240.3 405.0,240.8 405.8,240.8 406.6,240.5 407.4,240.1 408.3,240.5 409.1,240.1 409.9,239.9 410.7,240.3 411.5,240.2 412.3,240.2 413.1,239.8 413.9,239.3 414.7,239.4 415.5,239.9 416.4,239.6 417.2,240.2 418.0,239.9 418.8,240.5 419.7,240.0 420.5,240.7 421.3,240.4 422.1,241.1 423.0,240.8 423.8,240.9 424.6,241.3 425.4,240.9 426.2,241.7 427.0,241.2 427.8,241.1 428.6,241.5 429.4,241.7 430.2,242.0 431.1,241.7 431.9,242.6 432.7,242.6 433.5,242.7 434.3,243.1 435.1,242.4 435.9,243.1 436.7,243.4 437.5,242.9 438.3,243.0 439.1,242.8 439.9,243.3 440.7,242.8 441.5,243.1 442.3,242.5 443.1,242.7 443.9,242.8 444.8,242.3 445.6,242.2 446.4,241.9 447.2,242.3 448.0,242.1 448.8,241.8 449.6,241.8 450.4,241.7 451.2,241.6 452.1,242.1 452.9,241.8 453.7,241.9 454.6,242.1 455.4,242.8 456.2,242.6 457.1,242.2 457.9,242.9 458.7,243.0 459.6,242.5 460.4,243.0 461.2,243.0 462.1,243.0 462.9,243.3 463.7,243.2 464.6,243.3 465.4,243.6 466.2,243.6 467.1,243.6 467.9,243.9 468.7,245.0 469.6,245.1 470.4,245.9 471.2,246.4 472.0,246.1 472.9,246.5 473.7,247.2 474.5,247.1 475.4,247.5 476.2,247.9 477.1,247.9 477.9,247.8 478.8,247.4 479.6,247.6 480.5,247.5 481.4,247.3 482.2,246.9 483.1,246.8 483.9,246.7 484.8,246.4 485.6,246.0 486.4,246.3 487.2,246.5 488.0,246.0 488.8,246.1 489.6,245.8 490.4,246.3 491.2,245.9 492.1,246.2 492.9,245.9 493.7,245.9 494.5,246.5 495.3,246.0 496.1,246.6 496.9,246.4 497.7,246.3 498.6,246.6 499.4,247.2 500.3,247.7 501.1,247.6 502.0,248.3 502.9,247.5 503.7,246.8 504.6,246.2 505.4,246.2 506.3,245.7 507.2,245.3 508.0,245.2 508.9,245.3 509.8,245.5 510.6,245.6 511.5,246.2 512.4,246.0 513.3,246.0 514.1,246.2 515.0,245.9 515.9,246.1 516.7,246.3 517.6,246.0 518.4,246.3 519.3,246.6 520.2,246.7 521.0,246.4 521.9,246.3 522.7,246.8 523.6,246.5 524.4,246.3 525.2,247.1 526.0,246.8 526.8,246.9 527.6,246.3 528.4,246.7 529.2,246.7 530.0,246.4 530.9,245.8 531.7,246.0 532.5,246.0 533.3,246.0 534.1,246.1 534.9,245.6 535.7,245.6 536.5,245.4 537.4,245.4 538.3,244.9 539.2,244.7 540.1,244.2 541.0,244.6 541.9,243.8 542.8,244.8 543.6,245.6 544.5,245.9 545.3,247.2 546.2,248.2 547.1,247.9 548.0,248.6 548.9,249.0 549.7,249.1 550.6,249.2 551.5,249.6 552.3,249.8 553.1,249.6 554.0,249.9 554.8,250.0 555.6,250.0 556.4,249.8 557.2,249.6 558.1,249.6 558.9,249.8 559.7,250.1 560.5,249.7 561.3,249.9 562.1,249.8 563.0,250.2 563.8,250.0 564.6,250.6 565.4,249.9 566.2,250.2 567.1,250.6 567.9,250.8 568.7,250.4 569.5,250.9 570.4,250.9 571.2,250.7 572.0,250.5 572.9,250.5 573.7,250.9 574.5,250.4 575.3,251.0 576.2,250.7 577.0,250.7 577.8,251.1 578.7,251.0 579.5,250.7 580.3,250.8 581.1,251.5 582.0,251.2 582.8,251.6 583.6,251.5 584.4,251.0 585.3,251.3 586.1,251.6 586.9,251.4 587.7,251.3 588.6,252.1 589.4,251.6 590.2,251.9 591.0,251.6 591.8,252.0 592.7,251.3 593.5,251.0 594.3,251.4 595.1,251.4 596.0,251.4 596.8,250.6 597.6,250.6 598.4,250.8 599.3,250.5 600.1,250.3 600.9,250.2 601.7,250.1 602.6,250.5 603.4,250.3 604.2,250.3 605.1,250.4 605.9,251.0 606.7,251.0 607.5,250.7 608.4,251.2 609.2,250.6 610.0,250.9 610.9,251.4 611.7,250.7 612.5,250.5 613.3,250.6 614.2,250.2 615.0,249.7 615.8,250.2 616.6,249.9 617.5,249.5 618.3,249.1 619.1,248.9 619.9,248.6 620.8,248.5 621.6,248.0 622.4,248.2 623.2,247.8 624.0,247.3 624.8,247.5 625.6,247.5 626.4,247.1 627.2,246.8 628.0,246.8 628.8,246.8 629.7,246.2 630.5,246.6 631.3,246.0 632.1,245.9 632.9,245.8 633.7,245.9 634.5,245.2 635.3,245.0 636.2,245.1 637.0,244.5 637.9,244.7 638.7,244.3 639.6,244.2 640.5,244.2 641.3,244.5 642.2,244.0 643.0,243.6 643.9,243.7 644.7,243.3 645.5,242.5 646.3,242.6 647.1,242.5 648.0,242.3 648.8,242.1 649.6,240.9 650.4,241.0 651.2,240.8 652.0,240.7 652.9,240.9 653.7,240.4 654.5,240.4 655.3,240.4 656.2,240.4 657.0,240.0 657.8,239.8 658.6,239.3 659.5,239.5 660.3,239.2 661.1,239.5 662.0,239.5 662.8,239.1 663.7,239.5 664.5,239.8 665.4,239.8 666.3,239.4 667.1,239.5 668.0,239.6 668.8,239.6 669.7,240.1 670.5,239.7 671.3,239.4 672.2,239.2 673.0,238.0 673.8,238.4 674.6,237.6 675.5,237.2 676.3,237.1 677.1,236.6 677.9,236.1 678.8,236.5 679.6,235.4 680.4,235.0 681.2,235.3 682.0,235.6 682.8,235.5 683.6,235.2 684.5,235.1 685.3,234.8 686.1,235.3 686.9,235.2 687.7,234.9 688.5,235.4 689.4,235.7 690.2,235.4 691.0,235.4 691.8,236.0 692.7,236.0 693.5,236.0 694.3,235.7 695.1,236.1 696.0,236.6 696.8,236.3 697.6,236.7 698.4,236.9 699.3,236.6 700.1,236.4 700.9,236.9 701.8,236.9 702.6,236.8 703.4,237.1 704.2,236.6 705.1,236.7 705.9,236.7 706.7,237.0 707.6,236.5 708.4,236.5 709.3,236.2 710.1,236.3 711.0,235.9 711.8,235.1 712.7,235.3 713.6,235.1 714.4,234.2 715.3,234.2 716.1,233.8 717.0,233.4 717.9,233.4 718.8,233.5 719.7,234.5 720.7,234.3 721.6,235.1 722.5,235.4 723.4,235.7 724.2,235.9 725.0,236.3 725.9,236.7 726.7,237.1 727.5,237.5 728.4,237.8 729.2,237.6 730.0,238.5 730.8,237.6 731.6,237.6 732.5,238.1 733.3,237.7 734.1,237.9 734.9,237.2 735.7,236.9 736.6,236.8 737.4,237.4 738.2,237.2 739.0,236.8 739.8,237.0 740.7,236.4 741.5,237.1 742.3,236.5 743.1,236.4 743.9,236.6 744.8,236.6 745.6,236.5 746.4,236.7 747.3,236.7 748.2,237.7 749.1,237.7 749.9,238.2 750.8,239.1 751.7,239.4 752.6,239.8 753.5,240.0 754.3,239.8 755.1,239.8 756.0,240.1 756.9,240.5 757.7,240.0 758.5,240.6 759.4,240.5 760.2,241.0 761.1,241.0 761.9,241.3 762.8,240.9 763.7,241.1 764.5,241.0 765.4,241.0 766.2,241.2 767.1,241.2 768.0,241.7 768.8,241.8 769.7,242.0 770.5,242.1 771.4,242.4 772.2,242.1 773.1,242.3 774.0,242.3 774.8,242.2 775.6,242.2 776.5,242.2 777.4,242.2 778.2,242.4 779.0,242.4 779.9,242.5 780.8,242.7 781.6,243.0 782.4,242.6 783.3,243.0 784.1,242.2 784.9,242.3 785.8,242.1 786.6,241.8 787.4,241.6 788.2,241.2 789.0,241.6 789.9,240.6 790.7,241.1 791.5,240.6 792.3,240.4 793.1,240.3 794.0,240.8 794.8,240.2 795.6,240.3 796.4,240.1 797.2,240.3 798.1,240.1 798.9,240.0 799.7,239.6 800.5,239.4 801.3,239.9 802.2,239.3 803.0,239.7 803.8,239.4 804.6,239.9 805.4,239.6 806.3,239.4 807.1,239.6 807.9,239.8 808.7,240.1 809.5,240.3 810.4,240.4 811.2,240.6 812.0,240.3 812.8,239.9 813.6,240.5 814.5,240.3 815.3,240.6 816.1,240.3 817.0,240.2 817.9,239.8 818.8,239.9 819.6,239.8 820.5,239.0 821.4,238.8 822.3,238.6 823.1,238.6 824.0,238.0 824.8,237.8 825.7,238.0 826.5,237.5 827.4,237.5 828.2,237.4 829.1,237.2 830.0,237.4 830.8,236.7 831.6,236.4 832.5,236.4 833.3,236.7 834.1,236.6 835.0,235.8 835.8,235.8 836.6,235.7 837.4,236.1 838.2,235.9 839.1,235.3 839.9,235.7 840.7,235.7 841.5,235.5 842.3,235.0 843.2,235.3 844.0,234.7 844.8,235.2 845.6,234.4 846.4,234.5 847.3,234.3 848.1,234.6 848.9,234.4 849.8,234.1 850.6,234.0 851.4,233.7 852.2,233.8 853.0,233.2 853.9,233.7 854.7,233.8 855.5,233.2 856.3,233.1 857.2,233.1 858.0,232.8 858.8,233.1 859.6,232.4 860.5,232.5 861.3,232.6 862.1,232.5 863.0,231.9 863.8,231.6 864.7,232.0 865.5,231.4 866.4,231.8 867.2,231.0 868.1,231.6 869.0,231.4 869.8,231.0 870.6,231.2 871.5,231.0 872.4,230.8 873.2,230.4 874.1,230.2 874.9,230.2 875.8,230.2 876.6,230.7 877.5,230.6 878.4,230.8 879.2,230.3 880.1,230.2 880.9,230.7 881.8,230.6 882.6,230.7 883.4,229.8 884.3,230.6 885.1,230.1 885.9,230.4 886.7,229.9 887.5,230.2 888.4,230.3 889.2,230.3 890.0,230.2 890.8,229.6 891.6,230.4 892.5,229.6 893.3,230.2 894.1,230.0 894.9,229.9 895.7,229.4 896.6,229.8 897.4,229.7 898.2,229.1 899.0,229.6 899.8,229.1 900.7,229.4 901.5,228.7 902.3,228.7 903.1,228.5 903.9,228.2 904.8,228.2 905.6,228.1 906.4,228.3 907.2,228.2 908.0,227.9 908.9,228.6 909.7,228.3 910.5,228.1 911.3,227.9 912.1,227.9 913.0,228.3 913.8,227.9 914.6,227.9 915.4,228.4 916.2,228.1 917.1,228.6 917.9,228.1 918.7,228.8 919.5,228.4 920.3,228.7 921.2,228.6 922.0,229.5 922.8,229.7 923.7,229.8 924.5,229.7 925.4,229.6 926.3,230.1 927.2,230.7 928.0,230.7 928.9,230.3 929.7,230.7 930.6,230.3 931.4,229.6 932.2,228.7 933.0,228.9 933.9,228.4 934.7,227.9"/>
<polyline fill="none" stroke="#000" stroke-width="1.15" stroke-linejoin="round" points="88.9,336.5 89.8,336.6 90.8,335.9 91.7,335.7 92.7,336.0 93.6,335.8 94.5,335.4 95.3,335.1 96.2,335.2 97.0,335.0 97.9,335.3 98.8,335.3 99.7,336.3 100.6,335.8 101.5,336.4 102.4,337.1 103.3,337.3 104.1,336.1 104.9,335.6 105.7,334.7 106.5,334.4 107.5,334.6 108.6,335.7 109.5,334.8 110.3,333.6 111.2,332.4 112.0,331.9 112.9,330.5 113.8,329.8 114.6,329.6 115.5,328.0 116.3,327.9 117.2,326.3 118.1,325.5 118.9,324.9 119.8,325.0 120.6,324.4 121.5,323.2 122.4,322.6 123.2,322.0 124.1,321.6 124.9,320.7 125.8,320.2 126.6,320.0 127.4,319.3 128.2,318.9 129.1,319.0 129.9,318.7 130.7,317.8 131.5,317.9 132.3,317.9 133.2,317.0 134.1,316.3 135.0,315.9 136.0,314.5 136.9,313.9 137.8,313.0 138.7,313.0 139.6,312.5 140.4,312.5 141.3,312.1 142.1,311.6 143.0,311.7 143.9,311.1 144.7,311.1 145.6,311.0 146.4,311.0 147.3,310.3 148.2,310.4 149.0,309.9 149.9,309.7 150.7,308.9 151.6,308.9 152.5,308.2 153.3,308.4 154.2,308.2 155.0,307.5 155.9,307.2 156.8,307.2 157.6,306.9 158.5,307.1 159.3,306.7 160.2,306.4 161.1,305.8 161.9,305.4 162.8,305.7 163.6,305.1 164.5,305.3 165.4,305.0 166.2,305.0 167.1,304.1 167.9,304.2 168.8,303.9 169.7,303.7 170.5,303.4 171.4,303.7 172.2,303.2 173.1,303.0 174.0,302.4 174.8,302.5 175.7,302.3 176.5,301.6 177.4,301.6 178.3,301.2 179.1,301.2 180.0,300.5 180.8,301.1 181.7,300.3 182.5,300.6 183.3,299.6 184.1,300.0 184.9,299.9 185.7,299.3 186.5,299.0 187.3,299.0 188.1,298.5 188.9,298.7 189.7,299.5 190.5,299.5 191.3,299.5 192.2,299.7 193.0,300.2 193.8,300.4 194.6,300.2 195.5,300.3 196.3,300.4 197.2,300.1 198.0,300.5 198.9,300.3 199.8,300.8 200.6,300.5 201.5,300.6 202.3,300.5 203.2,300.6 204.0,300.3 204.8,300.7 205.6,300.1 206.4,300.0 207.2,299.6 208.0,299.9 208.8,299.4 209.6,298.8 210.4,297.8 211.2,295.8 212.0,295.2 212.8,293.5 213.7,292.1 214.6,291.4 215.5,291.0 216.4,289.9 217.3,289.1 218.2,288.0 219.0,287.6 219.8,287.9 220.6,287.8 221.4,287.4 222.2,287.3 223.0,287.6 223.8,287.9 224.6,287.3 225.5,287.8 226.3,287.4 227.2,288.3 228.0,288.4 228.9,288.1 229.8,288.6 230.6,288.8 231.5,288.6 232.3,289.2 233.2,288.6 234.0,288.9 234.8,288.9 235.6,289.7 236.4,289.8 237.3,289.4 238.1,290.0 238.9,290.0 239.7,290.2 240.5,289.5 241.3,289.2 242.1,288.7 242.9,288.0 243.7,287.5 244.5,286.9 245.3,286.8 246.1,286.5 246.9,286.0 247.7,286.3 248.5,286.1 249.3,285.9 250.2,285.8 251.0,285.8 251.8,286.4 252.6,285.9 253.4,286.5 254.2,287.2 255.0,287.4 255.8,288.2 256.6,288.6 257.4,288.9 258.2,289.8 259.0,290.2 259.9,290.6 260.7,290.2 261.6,290.7 262.4,290.7 263.3,290.7 264.2,290.3 265.0,290.7 265.9,290.9 266.7,290.7 267.6,290.8 268.5,292.4 269.4,292.6 270.3,293.9 271.2,294.5 272.1,295.6 273.0,296.4 273.9,295.9 274.7,295.6 275.6,295.0 276.4,295.2 277.3,294.4 278.4,292.1 279.4,290.7 280.2,290.9 281.0,292.1 281.9,292.8 282.7,293.7 283.6,292.9 284.5,292.6 285.4,292.2 286.2,291.7 287.1,291.1 288.0,290.9 288.9,291.2 289.8,291.3 290.7,291.8 291.6,292.7 292.5,293.2 293.4,293.2 294.3,295.2 295.1,296.6 296.0,298.0 296.8,299.2 297.7,300.6 298.8,302.4 299.8,304.6 300.9,306.2 301.8,307.0 302.7,308.0 303.6,309.7 304.5,310.2 305.4,311.3 306.2,311.2 307.0,310.3 307.8,310.2 308.6,309.5 309.6,308.6 310.7,306.8 311.6,307.2 312.4,307.5 313.3,307.5 314.1,308.6 315.0,309.1 315.9,308.6 316.7,309.4 317.6,310.0 318.4,310.4 319.3,310.9 320.2,311.3 321.0,311.7 321.9,311.4 322.7,312.6 323.6,313.0 324.4,313.4 325.2,314.2 326.0,314.3 326.9,315.0 327.7,315.4 328.5,316.3 329.3,317.4 330.1,317.8 330.9,317.4 331.8,317.1 332.6,316.9 333.4,317.0 334.3,316.7 335.1,316.7 335.9,316.7 336.8,316.4 337.6,316.4 338.5,316.9 339.4,317.6 340.3,318.2 341.2,319.2 342.1,319.9 343.0,320.3 343.9,320.7 344.7,320.5 345.6,320.6 346.4,321.0 347.3,321.1 348.2,321.9 349.0,322.3 349.9,322.3 350.7,322.2 351.6,322.4 352.5,322.5 353.4,321.9 354.3,321.1 355.3,321.4 356.2,320.8 357.1,320.5 358.0,320.1 358.8,320.1 359.6,320.5 360.4,320.7 361.2,320.1 362.1,320.5 362.9,320.9 363.7,321.1 364.5,320.9 365.4,320.9 366.3,321.2 367.1,321.3 368.0,320.8 368.9,321.1 369.8,320.9 370.9,322.1 371.9,322.6 373.0,323.9 373.9,322.9 374.7,321.9 375.6,320.7 376.4,318.9 377.3,318.2 378.2,317.7 379.0,318.0 379.9,317.9 380.7,318.4 381.6,318.2 382.5,318.8 383.3,318.7 384.2,319.2 385.0,318.8 385.9,319.5 387.0,319.5 388.1,320.2 389.1,318.0 390.2,315.4 391.3,317.2 392.4,318.0 393.3,317.1 394.1,316.2 395.0,315.3 395.8,314.6 396.7,313.5 397.6,312.1 398.4,311.2 399.3,310.6 400.1,309.4 401.0,307.9 401.8,307.8 402.6,307.1 403.5,307.0 404.3,306.4 405.1,306.1 405.9,305.7 406.8,305.8 407.6,304.7 408.4,304.3 409.2,303.9 410.1,303.8 410.9,303.3 411.7,303.4 412.5,302.8 413.4,302.1 414.2,301.6 415.0,301.6 415.9,301.5 416.7,300.5 417.5,300.7 418.3,299.9 419.2,300.1 420.0,299.7 420.8,298.6 421.7,298.8 422.5,298.3 423.3,297.8 424.1,297.6 425.0,297.7 425.8,297.0 426.6,296.8 427.4,296.4 428.3,295.7 429.1,296.1 429.9,295.2 430.7,295.6 431.6,294.5 432.4,294.8 433.2,294.2 434.0,294.2 434.8,293.8 435.6,293.6 436.4,293.3 437.2,293.2 438.0,292.0 438.8,291.8 439.6,291.7 440.5,291.7 441.3,290.9 442.1,290.4 442.9,290.4 443.7,289.8 444.5,289.3 445.3,289.6 446.1,289.0 446.9,289.1 447.8,288.2 448.6,288.1 449.4,287.7 450.3,288.1 451.1,287.5 451.9,287.4 452.8,286.7 453.6,286.8 454.4,286.5 455.3,286.6 456.1,285.9 456.9,286.3 457.8,285.5 458.6,285.4 459.4,285.2 460.3,284.8 461.1,284.3 461.9,284.6 462.7,285.8 463.5,286.2 464.4,286.2 465.2,286.1 466.0,286.5 466.8,287.0 467.6,287.1 468.5,287.4 469.3,287.3 470.2,287.3 471.0,287.8 471.9,287.6 472.8,289.0 473.6,289.4 474.5,290.2 475.3,291.9 476.2,292.9 477.1,292.0 477.9,290.7 478.8,290.1 479.6,288.5 480.5,288.1 481.4,287.2 482.2,286.1 483.1,285.2 483.9,284.1 484.8,283.1 485.6,283.2 486.4,283.4 487.3,283.7 488.1,283.3 488.9,283.6 489.7,283.5 490.6,283.4 491.4,283.9 492.2,283.4 493.0,284.2 493.9,283.6 494.7,283.7 495.5,284.3 496.3,284.5 497.1,284.9 497.9,285.5 498.8,286.4 499.6,286.6 500.4,286.8 501.2,287.8 502.0,287.7 503.1,284.8 504.1,282.7 505.2,280.1 506.1,279.6 506.9,278.8 507.8,278.6 508.6,277.8 509.5,277.4 510.4,278.4 511.3,278.6 512.1,279.1 513.0,279.1 513.9,279.6 514.8,279.7 515.6,279.1 516.5,278.9 517.4,278.1 518.2,277.6 519.1,277.2 519.9,277.8 520.8,278.6 521.6,278.9 522.5,279.2 523.4,279.2 524.2,278.7 525.1,279.1 525.9,278.5 526.8,278.9 527.6,277.9 528.5,277.8 529.3,277.0 530.1,276.6 531.0,276.3 531.8,275.8 532.6,275.4 533.5,274.9 534.3,273.8 535.1,273.9 535.9,273.9 536.7,273.8 537.5,274.3 538.4,274.3 539.2,274.1 540.0,274.1 540.8,273.8 541.7,274.4 542.5,275.5 543.4,275.6 544.2,277.0 545.1,276.9 545.9,277.5 546.8,278.6 547.6,279.4 548.4,279.3 549.3,280.6 550.1,280.8 550.9,281.1 551.8,282.0 552.6,282.4 553.4,282.8 554.2,282.8 555.0,283.1 555.8,283.2 556.6,283.2 557.5,283.1 558.3,283.2 559.1,283.3 559.9,283.4 560.7,283.1 561.5,283.5 562.3,283.6 563.2,283.0 564.0,283.1 564.9,283.6 565.7,283.6 566.6,283.6 567.5,283.7 568.3,283.6 569.2,283.8 570.0,284.1 570.9,284.3 571.8,284.6 572.6,284.4 573.5,284.9 574.3,285.4 575.2,286.0 576.1,285.9 576.9,286.7 577.8,286.6 578.6,287.0 579.5,287.8 580.4,287.5 581.2,288.3 582.0,288.3 582.9,288.1 583.8,288.8 584.6,289.1 585.5,289.0 586.3,289.5 587.1,289.8 588.0,290.1 588.8,290.4 589.6,289.9 590.4,290.4 591.2,289.8 592.0,290.2 592.8,289.6 593.6,290.0 594.5,290.1 595.3,290.1 596.1,289.4 596.9,290.0 597.7,289.4 598.5,290.1 599.3,289.5 600.1,289.9 600.9,289.3 601.7,290.3 602.5,290.2 603.3,290.1 604.1,291.0 604.9,291.2 605.8,291.4 606.6,291.3 607.4,291.4 608.2,292.0 609.0,292.5 609.8,292.7 610.6,292.9 611.4,292.0 612.3,292.0 613.1,291.5 613.9,291.4 614.8,291.1 615.6,290.7 616.4,289.8 617.3,289.8 618.1,289.4 618.9,289.4 619.7,289.1 620.5,288.9 621.3,288.8 622.1,288.9 622.9,289.2 623.7,288.4 624.5,289.0 625.4,288.6 626.2,288.6 627.0,288.5 627.8,288.3 628.6,288.3 629.4,287.5 630.2,287.7 631.0,287.4 631.9,286.5 632.7,285.9 633.6,285.5 634.4,284.3 635.3,283.6 636.2,283.6 637.0,282.8 637.9,281.4 638.7,280.8 639.6,280.0 640.5,280.5 641.3,281.0 642.2,280.3 643.0,280.7 643.9,280.7 644.8,281.0 645.6,281.0 646.5,281.2 647.3,280.7 648.2,281.5 649.1,282.1 649.9,282.2 650.8,282.8 651.6,284.3 652.5,285.0 653.3,285.4 654.2,286.6 655.1,283.7 655.9,280.9 656.8,277.9 657.7,278.1 658.5,277.9 659.4,277.8 660.2,277.6 661.1,277.9 662.0,278.0 662.8,278.4 663.7,279.1 664.5,280.1 665.4,280.4 666.2,281.1 667.0,282.3 667.8,283.2 668.6,283.5 669.4,282.5 670.2,281.8 671.0,280.9 671.8,280.7 672.6,279.8 673.5,278.6 674.3,278.1 675.1,277.5 675.9,276.8 676.7,275.3 677.5,274.8 678.3,274.1 679.2,273.6 680.0,273.4 680.9,273.1 681.7,272.7 682.6,272.6 683.5,272.8 684.4,273.0 685.3,273.5 686.3,274.2 687.2,274.0 688.1,274.6 689.0,274.8 689.9,274.7 690.7,273.3 691.6,272.9 692.4,272.9 693.3,272.0 694.2,271.3 695.0,271.5 695.9,271.0 696.7,270.3 697.6,270.0 698.5,269.7 699.3,269.6 700.2,269.5 701.0,269.7 701.9,269.4 702.8,269.0 703.6,269.0 704.5,268.9 705.3,269.0 706.2,268.5 707.1,268.7 707.9,268.2 708.8,268.1 709.6,268.1 710.5,268.1 711.6,268.8 712.7,269.8 713.6,268.9 714.4,268.7 715.3,268.5 716.1,268.2 717.0,267.8 717.9,267.1 718.7,266.8 719.6,265.8 720.4,266.2 721.3,265.5 722.1,266.1 723.0,265.9 723.8,266.6 724.7,266.9 725.5,267.9 726.4,268.2 727.2,268.1 728.1,269.3 728.9,269.0 729.8,269.4 730.6,269.4 731.4,269.0 732.2,269.2 733.0,268.0 733.8,268.5 734.6,268.0 735.4,267.3 736.2,266.9 737.0,267.6 737.8,267.2 738.7,267.6 739.5,267.6 740.3,268.1 741.1,268.4 741.9,268.1 742.8,267.6 743.6,267.5 744.4,267.3 745.2,267.3 746.0,267.1 746.9,267.0 747.7,266.8 748.5,266.1 749.4,267.1 750.2,267.0 751.0,267.4 751.9,268.3 752.8,268.3 753.6,269.5 754.5,269.5 755.4,269.1 756.3,268.5 757.2,268.5 758.1,267.9 759.0,268.1 759.9,268.3 760.8,267.5 761.6,267.5 762.4,267.6 763.3,267.6 764.1,267.5 764.9,267.5 765.7,267.3 766.5,267.7 767.4,267.6 768.2,267.7 769.0,267.4 769.8,267.9 770.6,267.7 771.5,267.5 772.3,267.3 773.1,267.7 774.0,267.8 774.8,268.3 775.7,268.9 776.6,268.9 777.5,269.8 778.3,269.9 779.2,271.1 780.0,271.3 780.8,271.0 781.7,271.4 782.5,272.1 783.3,272.3 784.2,271.9 785.0,271.7 785.9,271.3 786.8,271.2 787.6,270.6 788.5,270.3 789.4,270.0 790.2,269.3 791.0,269.0 791.9,268.5 792.8,268.2 793.6,267.9 794.4,268.3 795.3,268.1 796.1,268.2 797.0,268.0 797.8,268.3 798.6,268.2 799.5,267.7 800.3,268.1 801.2,267.9 802.0,268.4 802.9,268.2 803.7,268.3 804.5,268.1 805.4,268.9 806.2,268.3 807.1,268.2 807.9,268.5 808.7,268.8 809.5,269.1 810.3,269.9 811.1,270.0 811.9,270.0 812.7,271.2 813.5,270.8 814.3,271.9 815.1,272.3 816.0,271.5 816.8,271.3 817.7,270.2 818.5,270.0 819.4,270.1 820.2,269.6 821.1,268.8 821.9,268.7 822.8,268.3 823.6,268.7 824.5,268.4 825.4,267.9 826.2,267.8 827.1,267.5 827.9,267.1 828.8,267.1 829.6,266.4 830.5,266.8 831.4,267.0 832.2,266.2 833.0,266.4 833.9,266.6 834.8,266.6 835.6,266.6 836.5,266.2 837.3,266.6 838.2,266.2 839.0,266.5 839.9,266.2 840.7,266.3 841.5,266.3 842.3,265.5 843.2,265.6 844.0,265.2 844.8,264.8 845.6,265.2 846.4,264.5 847.3,264.2 848.1,264.0 848.9,264.4 849.8,264.5 850.7,264.4 851.6,264.8 852.4,264.9 853.3,265.2 854.2,265.1 855.1,265.5 856.0,266.4 856.8,266.0 857.7,266.6 858.5,266.8 859.4,266.9 860.2,267.3 861.1,267.6 862.0,267.7 862.8,268.1 863.7,267.9 864.5,268.1 865.4,268.6 866.3,268.9 867.1,268.6 868.0,268.2 868.9,268.6 869.8,269.0 870.6,268.3 871.5,268.7 872.3,268.5 873.1,268.9 873.9,269.2 874.7,268.9 875.5,268.9 876.3,269.3 877.1,269.9 878.0,269.1 878.8,269.5 879.6,269.6 880.4,269.9 881.2,270.3 882.0,270.2 882.8,270.4 883.8,272.0 884.9,274.1 885.9,276.2 886.8,276.0 887.6,276.0 888.5,277.0 889.4,276.8 890.3,277.4 891.1,277.3 892.0,277.3 893.0,278.2 894.1,279.9 895.1,278.2 896.1,276.5 897.0,275.6 897.8,275.5 898.7,275.2 899.5,274.5 900.4,274.5 901.2,274.1 902.1,273.5 903.0,273.4 903.8,273.4 904.7,273.0 905.5,272.6 906.4,271.7 907.3,272.2 908.1,272.9 909.0,273.8 909.9,273.6 910.8,274.0 911.6,275.2 912.5,275.0 913.3,276.6 914.1,278.3 915.0,279.1 915.8,279.8 916.6,281.3 917.4,281.9 918.2,282.0 919.1,281.6 919.9,282.1 920.7,282.2 921.5,282.1 922.3,282.2 923.2,282.5 924.0,282.8 924.8,283.4 925.6,284.2 926.4,286.0 927.3,286.6 928.1,288.3 928.9,289.4 930.0,286.3 931.0,283.4 931.9,282.9 932.9,281.9 933.8,280.8 934.7,280.1"/>
<polyline fill="none" stroke="#000" stroke-width="1.15" stroke-linejoin="round" points="88.9,361.5 89.8,361.6 90.8,362.0 91.7,362.0 92.7,361.8 93.6,362.5 94.4,362.8 95.2,362.8 96.0,362.8 96.8,362.6 97.6,363.2 98.4,363.1 99.2,363.4 100.0,363.7 100.8,363.2 101.6,363.1 102.4,363.8 103.2,363.8 104.1,363.2 104.9,363.5 105.7,363.8 106.5,363.7 107.3,363.6 108.1,363.9 109.0,363.1 109.8,363.3 110.6,363.1 111.4,363.6 112.3,363.3 113.1,363.1 113.9,363.4 114.7,363.4 115.6,363.1 116.4,363.4 117.2,362.8 118.0,363.1 118.8,363.3 119.6,362.8 120.4,363.1 121.2,363.2 122.1,363.3 122.9,362.8 123.7,362.9 124.5,362.7 125.3,363.0 126.1,363.3 126.9,362.9 128.0,362.7 129.0,361.7 130.1,361.3 131.0,360.9 131.8,360.4 132.7,359.9 133.5,359.0 134.4,358.4 135.3,358.3 136.2,358.0 137.1,357.6 138.0,356.9 138.9,356.9 139.8,356.5 140.6,356.4 141.5,356.2 142.3,356.5 143.1,356.0 144.0,356.5 144.8,356.2 145.6,356.5 146.5,356.4 147.3,356.2 148.1,356.0 148.9,355.9 149.7,355.5 150.6,355.4 151.4,355.5 152.2,355.0 153.0,355.3 153.8,354.8 154.7,354.7 155.5,354.7 156.4,354.9 157.2,355.0 158.1,354.9 158.9,355.1 159.8,355.6 160.6,355.7 161.5,355.7 162.3,355.8 163.2,355.4 164.0,355.3 164.9,354.8 165.7,354.4 166.6,354.0 167.5,354.3 168.3,354.4 169.2,354.4 170.0,354.3 170.9,353.9 171.8,354.0 172.6,354.2 173.5,354.0 174.3,354.0 175.2,354.0 176.0,353.7 176.8,353.9 177.6,353.4 178.4,353.7 179.3,353.4 180.1,353.2 180.9,353.6 181.7,353.5 182.5,353.4 183.3,353.4 184.1,353.3 184.9,353.7 185.7,353.7 186.5,353.7 187.3,353.9 188.1,353.4 189.0,354.1 189.8,354.3 190.7,354.0 191.5,354.1 192.4,354.9 193.3,354.6 194.1,355.0 195.0,355.4 195.8,355.1 196.7,355.5 197.6,355.4 198.4,356.1 199.3,356.2 200.1,356.1 201.0,356.5 201.8,356.1 202.6,356.5 203.4,356.5 204.2,356.5 205.1,356.0 205.9,356.2 206.7,356.4 207.5,356.5 208.6,355.4 209.6,354.7 210.7,353.7 211.6,353.4 212.5,352.8 213.4,352.4 214.3,352.6 215.2,352.0 216.1,351.5 216.9,351.6 217.7,351.8 218.5,352.1 219.3,352.0 220.1,352.4 220.9,352.5 221.7,352.7 222.5,352.8 223.3,352.6 224.1,353.2 224.9,352.8 225.7,353.2 226.5,353.3 227.3,353.0 228.1,353.0 228.9,353.2 229.8,353.4 230.6,353.2 231.4,353.3 232.2,352.9 233.0,353.1 233.8,353.2 234.6,353.4 235.4,353.2 236.3,353.4 237.1,353.4 238.0,352.9 238.8,353.1 239.7,352.7 240.6,352.8 241.4,352.9 242.3,353.0 243.1,352.5 244.0,352.9 244.9,353.1 245.8,353.4 246.7,353.1 247.6,353.7 248.5,353.7 249.4,354.4 250.3,354.1 251.2,353.5 252.1,353.8 252.9,353.5 253.8,352.9 254.7,352.5 255.6,352.8 256.4,352.4 257.3,352.6 258.1,352.1 259.0,352.4 259.9,351.9 260.7,352.0 261.6,351.7 262.4,351.8 263.3,351.3 264.1,351.7 264.9,351.8 265.7,352.2 266.6,352.5 267.4,352.4 268.2,352.9 269.0,352.5 269.8,353.1 270.7,352.6 271.6,352.3 272.5,352.1 273.3,351.9 274.2,351.8 275.1,351.6 275.9,351.9 276.8,352.0 277.6,351.9 278.5,352.3 279.3,352.3 280.2,352.0 281.0,352.7 281.9,352.8 282.7,352.8 283.5,352.8 284.3,353.1 285.1,353.3 285.9,353.1 286.7,352.8 287.5,353.2 288.3,353.0 289.1,353.3 290.0,353.1 290.8,352.6 291.7,352.2 292.5,352.3 293.4,352.1 294.2,352.1 295.0,352.4 295.8,352.6 296.6,352.7 297.4,352.3 298.2,352.5 299.0,352.7 299.8,352.5 300.6,353.0 301.4,352.9 302.3,353.0 303.1,352.6 303.9,352.7 304.8,352.7 305.6,352.4 306.4,352.5 307.2,352.9 308.0,353.2 308.8,352.8 309.6,353.1 310.5,353.3 311.3,353.4 312.1,353.4 312.9,353.5 313.8,353.7 314.6,353.6 315.5,353.9 316.3,353.8 317.2,354.5 318.1,354.5 318.9,354.5 319.8,354.5 320.6,354.8 321.5,354.7 322.4,355.5 323.2,355.9 324.1,355.9 324.9,356.5 325.8,356.9 326.7,357.7 327.5,357.6 328.4,357.9 329.2,358.5 330.1,359.4 330.9,359.4 331.7,359.6 332.5,359.6 333.3,359.9 334.1,359.9 334.9,360.2 335.7,360.4 336.6,360.7 337.4,361.0 338.2,360.9 339.0,361.3 339.8,361.0 340.6,361.2 341.4,361.8 342.2,361.4 343.0,361.9 343.8,362.0 344.6,362.5 345.5,362.6 346.3,363.3 347.1,363.0 347.9,363.8 348.8,364.2 349.6,364.1 350.4,364.7 351.2,364.8 352.1,364.8 352.9,365.3 353.7,365.3 354.5,365.7 355.4,365.7 356.2,366.0 357.0,366.7 357.9,366.7 358.7,367.1 359.5,367.1 360.3,367.2 361.2,367.5 362.0,367.7 362.8,368.3 363.7,367.9 364.5,368.2 365.4,368.6 366.2,369.1 367.1,369.4 367.9,369.6 368.8,370.3 369.6,370.8 370.4,371.0 371.3,371.2 372.1,371.6 373.0,371.8 373.9,372.0 374.7,372.5 375.6,372.9 376.4,373.5 377.3,373.5 378.2,374.2 379.0,374.0 379.9,374.4 380.7,374.7 381.6,375.4 382.5,375.1 383.3,375.5 384.2,375.5 385.0,375.8 385.9,375.8 386.8,375.7 387.6,376.3 388.5,376.1 389.3,376.0 390.2,376.3 391.1,376.5 391.9,376.5 392.8,376.6 393.6,377.2 394.5,377.6 395.4,377.3 396.2,377.5 397.1,377.2 397.9,377.6 398.8,377.6 399.7,377.4 400.5,377.7 401.4,377.3 402.2,377.3 403.1,377.1 404.0,377.1 404.8,377.1 405.7,376.9 406.5,376.5 407.4,376.3 408.3,376.2 409.1,375.5 410.0,375.7 410.8,375.7 411.7,374.9 412.5,374.4 413.3,374.2 414.1,373.9 414.9,373.2 415.8,372.8 416.6,372.7 417.4,372.2 418.2,371.7 419.0,370.9 419.8,370.7 420.7,370.4 421.5,370.5 422.3,370.1 423.1,369.7 424.0,369.1 424.8,369.3 425.6,369.2 426.4,368.4 427.3,368.1 428.1,367.6 428.9,367.9 429.8,367.7 430.6,367.8 431.5,368.4 432.3,368.4 433.2,368.4 434.1,368.4 434.9,369.1 435.8,368.8 436.6,369.2 437.5,369.3 438.4,368.9 439.2,369.0 440.1,368.4 440.9,368.0 441.8,367.7 442.7,367.3 443.5,367.3 444.4,367.4 445.2,367.0 446.1,366.5 447.0,366.3 447.8,366.4 448.7,366.2 449.5,365.7 450.4,365.4 451.2,365.5 452.0,365.9 452.8,365.8 453.6,366.0 454.4,366.0 455.2,366.2 456.0,366.1 456.9,365.8 457.7,366.3 458.5,366.0 459.3,366.5 460.1,366.4 460.9,366.5 461.7,366.6 462.5,366.8 463.3,366.8 464.2,366.9 465.0,366.7 465.9,366.3 466.7,366.6 467.6,366.3 468.5,366.5 469.3,366.4 470.2,366.3 471.0,366.0 471.9,366.0 472.7,366.0 473.5,366.0 474.4,366.5 475.2,366.6 476.0,366.2 476.8,366.4 477.7,366.5 478.5,366.6 479.3,366.2 480.1,366.8 481.0,366.2 481.8,366.3 482.6,366.8 483.5,366.8 484.3,367.4 485.2,367.7 486.0,368.0 486.9,368.4 487.7,368.4 488.5,367.9 489.3,367.9 490.1,367.6 491.0,367.5 491.8,366.8 492.6,366.7 493.4,366.3 494.2,366.0 495.0,366.0 495.8,365.6 496.6,365.1 497.4,364.8 498.2,364.5 499.0,364.7 499.8,364.1 500.7,363.9 501.5,363.9 502.4,363.7 503.2,363.6 504.1,363.2 505.0,363.7 505.8,363.2 506.7,363.2 507.5,363.2 508.4,362.5 509.3,361.8 510.1,361.1 511.0,360.3 511.8,359.6 512.7,359.0 513.8,360.4 514.8,361.4 515.7,361.5 516.6,361.3 517.5,361.6 518.4,361.6 519.3,361.0 520.2,360.9 521.0,360.5 521.9,359.8 522.7,359.1 523.6,358.4 524.5,358.1 525.3,358.0 526.2,357.8 527.0,357.6 527.9,357.9 528.8,357.6 529.6,357.4 530.5,357.4 531.3,357.0 532.2,357.3 533.1,356.7 533.9,356.6 534.8,356.5 535.6,356.9 536.5,356.7 537.4,356.1 538.2,356.5 539.1,355.8 539.9,356.1 540.8,355.9 541.6,354.9 542.4,354.4 543.2,353.3 544.0,352.7 544.9,352.7 545.8,352.3 546.7,352.5 547.7,352.3 548.6,351.7 549.5,351.6 550.4,351.3 551.2,351.4 552.1,351.1 552.9,351.1 553.8,350.8 554.6,351.0 555.5,350.7 556.3,351.0 557.2,350.8 558.0,350.4 558.9,350.4 559.7,350.0 560.6,349.9 561.4,350.3 562.3,349.7 563.2,349.7 564.0,349.5 564.9,349.4 565.7,349.3 566.6,349.2 567.5,349.6 568.3,349.0 569.2,349.2 570.0,348.8 570.9,349.2 571.8,349.1 572.6,348.7 573.5,348.9 574.3,348.7 575.2,348.7 576.1,348.3 576.9,348.0 577.8,347.9 578.6,348.4 579.5,348.4 580.4,347.9 581.2,348.2 582.1,348.1 582.9,347.6 583.8,347.9 584.6,347.8 585.4,347.6 586.2,347.2 587.0,347.0 587.8,347.1 588.6,346.9 589.4,347.0 590.2,346.8 591.1,347.0 592.0,347.2 592.9,347.3 593.9,347.6 594.8,348.1 595.7,348.0 596.6,348.7 597.4,348.8 598.2,348.7 599.0,348.8 599.8,349.2 600.6,349.5 601.4,349.7 602.2,349.4 603.0,349.6 603.9,349.7 604.7,350.5 605.5,350.2 606.3,350.4 607.1,350.9 607.9,350.7 608.7,351.2 609.5,350.9 610.3,351.1 611.2,350.9 612.0,351.4 612.8,351.1 613.7,351.4 614.5,351.4 615.3,350.9 616.1,351.1 617.0,351.4 617.8,351.3 618.6,351.1 619.5,350.9 620.3,351.0 621.2,351.2 622.0,351.4 622.9,351.5 623.7,351.8 624.6,351.7 625.5,351.7 626.3,351.8 627.2,351.9 628.0,351.6 628.9,351.7 629.7,352.3 630.5,352.5 631.4,353.1 632.2,352.9 633.0,353.2 633.8,353.4 634.7,354.0 635.5,354.4 636.3,354.1 637.1,354.6 638.0,355.1 638.8,355.4 639.6,355.7 640.5,355.7 641.3,356.6 642.2,356.9 643.0,357.7 643.9,357.6 644.8,358.6 645.6,359.1 646.5,359.3 647.3,359.5 648.2,360.1 649.1,360.3 649.9,360.8 650.8,360.5 651.6,360.8 652.5,361.0 653.4,361.2 654.2,361.5 655.1,361.2 655.9,361.5 656.8,361.6 657.7,362.3 658.5,362.7 659.4,363.2 660.2,363.5 661.1,363.5 662.0,364.5 662.8,364.2 663.7,364.6 664.5,365.3 665.4,365.7 666.3,366.0 667.1,366.6 668.0,366.9 668.8,367.2 669.7,367.6 670.6,368.1 671.4,368.3 672.3,369.2 673.1,369.2 674.0,370.0 674.9,370.5 675.7,370.7 676.6,371.0 677.4,370.9 678.3,371.6 679.1,372.0 679.9,373.1 680.7,374.1 681.5,375.3 682.3,375.6 683.1,375.1 683.9,375.3 684.7,375.2 685.5,375.6 686.4,375.1 687.2,375.8 688.0,375.4 688.8,375.3 689.6,375.8 690.4,375.8 691.2,375.9 692.1,375.8 692.9,375.4 693.8,375.2 694.6,375.3 695.5,374.9 696.4,374.6 697.2,374.7 698.1,374.5 698.9,374.5 699.8,374.5 700.7,374.3 701.5,373.6 702.4,373.8 703.2,373.6 704.1,373.2 705.0,373.8 705.8,374.0 706.7,375.0 707.5,375.1 708.4,375.5 709.2,375.9 710.0,375.5 710.8,375.7 711.6,375.7 712.4,375.6 713.2,375.2 714.0,375.3 714.8,375.7 715.7,375.3 716.5,375.2 717.3,375.4 718.1,375.0 718.9,375.4 719.7,375.5 720.5,375.6 721.3,375.1 722.1,375.3 723.0,375.5 723.8,375.5 724.7,375.2 725.5,375.5 726.4,375.2 727.2,375.2 728.1,375.3 728.9,375.0 729.8,375.1 730.6,375.1 731.5,375.2 732.3,374.9 733.2,374.7 734.0,375.0 734.8,374.3 735.7,374.3 736.5,374.3 737.4,374.6 738.2,374.2 739.0,374.5 739.8,375.1 740.7,375.0 741.5,375.7 742.3,375.5 743.1,375.8 743.9,376.0 744.8,375.7 745.6,375.4 746.4,375.3 747.2,375.6 748.0,375.2 748.9,375.6 749.7,375.2 750.5,374.9 751.3,375.2 752.1,375.2 753.0,375.1 753.8,374.5 754.6,374.7 755.4,374.8 756.2,375.2 757.1,374.6 757.9,374.9 758.7,374.8 759.5,375.1 760.3,375.0 761.2,374.9 762.0,375.1 762.8,375.1 763.6,374.8 764.4,375.0 765.3,375.0 766.1,375.1 766.9,375.1 767.7,375.1 768.5,375.2 769.4,375.5 770.2,375.2 771.0,375.7 771.8,375.1 772.6,375.3 773.5,375.6 774.3,375.5 775.1,375.3 775.9,375.2 776.7,375.6 777.6,375.3 778.4,375.6 779.2,375.7 780.0,375.2 780.8,375.5 781.7,375.2 782.5,375.4 783.3,375.7 784.1,375.5 784.9,375.7 785.8,375.3 786.6,375.2 787.4,375.4 788.2,375.6 789.0,375.9 789.9,376.0 790.7,376.2 791.5,376.7 792.3,376.6 793.1,377.0 794.0,377.1 794.8,377.8 795.6,377.7 796.4,377.8 797.2,378.4 798.1,378.2 798.9,378.3 799.7,378.3 800.5,378.6 801.3,378.8 802.2,378.7 803.0,378.6 803.8,378.7 804.6,379.2 805.4,379.2 806.3,379.6 807.1,379.2 807.9,379.6 808.7,379.6 809.5,379.8 810.4,380.3 811.2,380.2 812.0,380.4 812.8,380.7 813.6,380.9 814.5,380.9 815.3,381.7 816.1,381.5 816.9,381.6 817.7,381.5 818.6,381.6 819.4,381.8 820.2,381.8 821.0,382.2 821.8,382.4 822.7,382.6 823.5,382.3 824.3,382.7 825.1,382.8 825.9,382.4 826.8,382.6 827.6,382.7 828.4,383.3 829.2,383.4 830.0,383.1 830.9,383.4 831.7,383.6 832.5,384.1 833.3,384.2 834.1,384.8 835.0,384.9 835.8,384.7 836.6,384.9 837.4,385.3 838.2,385.4 839.1,385.9 839.9,385.7 840.7,386.4 841.6,386.5 842.4,386.6 843.3,387.4 844.1,387.2 845.0,387.8 845.9,388.3 846.7,388.5 847.6,388.9 848.4,388.8 849.3,389.4 850.1,389.7 851.0,389.7 851.8,389.8 852.7,390.3 853.5,390.2 854.4,390.0 855.2,390.4 856.1,390.0 856.9,390.3 857.8,390.5 858.6,390.4 859.5,390.3 860.3,390.8 861.2,390.9 862.0,391.0 862.9,390.7 863.7,390.7 864.6,390.8 865.4,391.2 866.2,391.2 867.1,391.7 868.0,392.2 868.8,392.5 869.6,393.0 870.5,393.0 871.4,393.6 872.2,393.9 873.0,394.1 873.9,394.9 874.8,395.3 875.6,395.6 876.5,395.4 877.3,395.4 878.2,396.1 879.0,396.5 879.9,396.3 880.8,396.5 881.6,397.1 882.5,397.1 883.3,397.4 884.2,397.7 885.0,397.8 885.9,398.2 886.7,398.2 887.6,398.5 888.4,398.2 889.3,398.6 890.1,399.1 890.9,399.0 891.8,399.3 892.6,399.3 893.5,399.8 894.3,399.4 895.2,399.7 896.0,399.7 896.8,400.4 897.7,400.6 898.5,400.3 899.4,400.5 900.2,400.6 901.1,401.8 902.0,402.8 903.0,403.4 903.9,404.7 904.8,404.8 905.6,405.1 906.5,405.3 907.3,405.7 908.2,405.7 909.1,406.0 909.9,407.0 910.8,406.8 911.6,407.2 912.5,407.9 913.3,408.0 914.1,408.3 915.0,409.4 915.8,409.6 916.6,410.3 917.4,410.5 918.2,410.9 919.1,411.5 919.9,412.4 920.7,412.7 921.5,413.3 922.3,413.8 923.2,414.1 924.0,414.6 924.8,414.7 925.6,415.2 926.4,415.8 927.3,416.5 928.1,416.6 928.9,417.4 929.7,418.0 930.6,418.4 931.4,418.5 932.2,419.1 933.0,420.1 933.9,420.2 934.7,420.9"/>
<polyline fill="none" stroke="#0000ff" stroke-width="1.0" points="88.5,503.3 716.6,503.3 716.6,499.6 718.3,499.6 718.3,495.9 720.5,495.9 720.5,492.2 740.6,492.2 740.6,488.5 743.5,488.5 743.5,484.8 747.4,484.8 747.4,481.1 751.3,481.1 751.3,477.4 756.6,477.4 756.6,473.7 758.5,473.7 758.5,470.0 760.3,470.0 760.3,466.3 762.4,466.3 762.4,462.6 763.6,462.6 763.6,458.9 765.5,458.9 765.5,455.2 767.8,455.2 767.8,451.5 769.4,451.5 769.4,447.8 773.6,447.8 773.6,444.1 865.3,444.1 865.3,440.4 869.4,440.4 869.4,436.7 879.2,436.7 879.2,433.0 893.9,433.0 893.9,429.3 935.7,429.3"/>
<polygon fill="#000" points="88.5,586.3 88.5,532.6 89.3,538.0 90.1,541.0 90.5,542.5 91.0,542.4 91.4,543.1 91.9,543.8 92.3,544.5 92.8,547.6 93.2,546.4 93.7,547.4 94.1,547.3 94.6,548.0 95.1,549.2 95.6,550.5 96.1,551.6 96.5,554.1 97.0,554.1 97.5,555.3 98.0,556.5 98.5,557.7 99.0,558.1 99.4,561.0 99.9,558.8 100.3,559.2 100.8,561.2 101.2,559.9 101.7,560.3 102.4,580.8 102.9,580.8 103.4,580.8 103.9,580.8 104.4,580.8 104.9,580.8 105.6,576.7 106.2,566.7 106.8,574.9 107.5,582.0 108.0,582.0 108.5,582.0 108.9,582.3 109.4,582.0 110.3,571.2 110.8,571.7 111.3,572.7 111.7,572.7 112.2,573.2 112.7,575.9 113.2,574.2 113.6,574.9 114.1,575.4 114.6,575.7 115.2,580.6 115.8,582.8 116.3,583.1 116.8,583.0 117.3,583.1 117.8,583.2 118.2,583.6 118.7,584.3 119.2,583.6 119.7,583.7 120.2,583.8 120.6,583.9 121.1,584.0 121.5,584.1 122.0,584.5 122.4,585.9 122.9,584.4 123.3,584.9 123.8,584.6 124.2,584.6 124.7,584.7 125.1,585.2 125.6,584.9 126.0,586.1 126.5,585.1 126.9,586.3 127.4,585.3 127.9,586.3 128.4,585.6 128.8,585.5 129.3,585.6 129.8,585.7 130.3,585.8 130.8,585.9 131.3,586.0 131.8,586.0 132.2,586.1 132.7,586.2 133.2,586.3"/>
<polygon fill="#000" points="237.1,586.3 237.6,586.2 238.0,586.2 238.5,586.1 238.9,586.0 239.4,585.9 239.9,585.9 240.3,585.8 240.8,585.7 241.2,585.6 241.7,585.6 242.2,585.5 242.6,585.4 243.1,585.9 243.6,585.3 244.0,585.4 244.5,585.1 244.9,585.6 245.4,585.0 245.8,585.7 246.3,584.6 246.8,585.7 247.2,584.1 247.7,585.3 248.1,585.7 248.6,583.5 249.0,583.2 249.5,583.4 249.9,582.8 250.4,583.1 250.9,579.5 251.4,577.9 251.9,576.3 252.4,576.8 252.9,577.4 253.3,584.0 253.8,578.3 254.3,577.8 254.8,577.3 255.2,576.8 255.7,577.0 256.2,576.3 256.7,575.4 257.1,574.9 257.6,574.4 258.1,573.9 258.5,573.5 259.0,574.0 259.4,572.6 259.9,575.4 260.3,571.7 260.8,571.2 261.3,570.9 261.7,569.7 262.2,571.6 262.7,568.3 263.2,568.9 263.6,567.9 264.1,566.1 264.6,568.3 265.1,568.7 265.5,569.1 266.0,569.3 266.5,567.2 266.9,568.0 267.4,565.5 267.9,560.3 268.4,561.0 268.9,558.7 269.5,558.0 270.0,557.2 270.5,556.4 271.0,557.8 271.4,560.7 271.9,560.9 272.3,561.9 272.8,566.1 273.2,564.7 273.7,566.1 274.2,566.3 274.6,563.7 275.1,560.8 275.6,559.0 276.1,558.2 276.5,557.3 277.0,556.5 277.4,555.7 277.9,554.9 278.3,554.0 278.8,553.2 279.3,552.5 279.7,551.6 280.2,550.7 280.7,553.3 281.2,549.6 281.6,548.2 282.1,547.4 282.7,540.3 283.2,543.2 283.6,543.9 284.1,545.6 284.6,547.4 285.1,546.9 285.6,547.7 286.2,546.2 286.7,547.1 287.2,544.8 287.7,543.4 288.1,542.9 288.6,540.7 289.0,539.5 289.5,537.9 289.9,536.8 290.4,535.2 290.9,535.6 291.4,536.1 292.0,539.6 292.5,536.7 293.0,537.1 293.6,533.0 294.3,528.8 294.8,528.6 295.2,531.5 295.7,528.2 296.1,528.1 296.6,527.9 297.0,527.7 297.5,527.5 298.1,522.7 298.8,517.9 299.5,523.6 300.1,528.1 300.6,526.7 301.1,526.1 301.6,523.9 302.1,522.5 302.6,521.1 303.1,521.5 303.5,521.0 304.0,520.9 304.4,522.7 304.9,520.8 305.3,520.7 305.8,521.5 306.2,521.2 306.7,520.5 307.1,520.4 307.6,522.3 308.1,526.6 308.7,526.2 309.2,528.2 309.7,530.1 310.2,528.3 310.7,524.2 311.3,521.2 311.8,518.6 312.3,515.3 312.8,515.1 313.2,515.0 313.7,515.7 314.1,516.1 314.6,515.7 315.0,514.5 315.5,515.7 315.9,514.1 316.4,513.9 316.8,515.7 317.3,513.6 317.7,513.5 318.2,513.3 318.6,513.2 319.1,513.7 319.5,515.4 320.0,512.7 320.5,512.8 321.0,512.9 321.5,513.0 321.9,513.6 322.4,513.1 322.9,513.2 323.4,513.3 323.9,513.4 324.5,515.6 325.1,516.6 325.6,515.6 326.1,514.7 326.6,513.9 327.1,512.7 327.6,513.1 328.1,513.0 328.6,513.4 329.0,513.3 329.5,513.5 330.0,514.4 330.5,513.8 331.0,514.0 331.4,514.1 331.9,515.7 332.4,515.3 332.9,514.6 333.4,514.8 333.8,515.6 334.3,515.1 334.7,516.1 335.2,515.4 335.6,515.6 336.1,515.7 336.5,518.2 337.0,516.7 337.4,516.8 337.9,517.2 338.3,516.7 338.8,516.6 339.2,516.7 339.7,516.9 340.1,519.6 340.6,517.2 341.1,518.3 341.5,517.7 342.0,517.9 342.4,518.4 342.9,518.3 343.3,518.6 343.8,519.6 344.3,519.0 344.7,520.1 345.2,519.5 345.6,521.5 346.1,521.3 346.5,522.2 347.0,520.4 347.5,521.9 347.9,521.3 348.4,521.8 348.8,522.3 349.3,523.2 349.7,523.2 350.2,523.6 350.7,524.5 351.1,524.6 351.6,525.7 352.0,526.5 352.5,526.0 352.9,526.4 353.4,526.9 353.9,527.5 354.3,530.8 354.8,528.6 355.3,529.3 355.8,529.8 356.2,530.4 356.7,531.0 357.2,531.6 357.7,532.1 358.1,532.7 358.6,533.3 359.1,533.7 359.5,534.7 360.0,536.2 360.4,534.8 360.9,535.3 361.3,535.5 361.8,536.7 362.3,536.5 362.7,537.4 363.2,537.3 363.6,539.0 364.1,537.7 364.5,538.0 365.0,538.4 365.5,538.8 365.9,540.4 366.4,539.6 366.9,540.0 367.4,540.4 367.9,540.8 368.3,541.2 368.8,541.6 369.3,545.2 369.8,543.3 370.4,542.8 370.9,543.2 371.4,543.6 371.9,546.2 372.4,547.0 373.0,549.1 373.5,549.2 374.0,550.6 374.5,554.2 374.9,552.9 375.4,551.5 375.9,551.8 376.3,553.1 376.8,552.5 377.2,553.9 377.7,552.9 378.2,553.2 378.6,553.5 379.1,553.8 379.6,554.3 380.1,555.1 380.7,555.4 381.2,555.9 381.7,556.4 382.2,557.7 382.7,559.0 383.3,560.2 383.8,562.0 384.3,562.8 384.9,579.6 385.4,580.5 385.9,579.9 386.3,581.1 386.8,580.2 387.5,573.2 388.1,566.1 388.6,566.4 389.1,567.2 389.5,567.0 390.0,567.3 390.7,580.8 391.4,580.8 392.0,580.8 392.5,578.3 393.0,575.7 393.5,578.0 394.1,578.1 394.6,578.3 395.1,579.6 395.6,579.1 396.1,579.1 396.6,579.3 397.1,579.6 397.6,580.1 398.1,580.6 398.7,581.1 399.2,581.6 399.7,582.1 400.2,582.3 400.6,582.4 401.1,582.6 401.5,583.5 402.0,583.5 402.4,583.3 402.9,583.2 403.3,583.3 403.8,583.5 404.2,583.6 404.7,583.8 405.1,583.9 405.6,584.2 406.0,585.3 406.5,584.4 406.9,584.8 407.4,584.7 407.9,584.8 408.3,584.9 408.8,585.6 409.2,585.1 409.7,585.2 410.1,585.3 410.6,585.4 411.0,585.5 411.5,585.5 411.9,585.6 412.4,585.7 412.8,585.8 413.3,585.9 413.7,586.0 414.2,586.1 414.6,586.2 415.1,586.3"/>
<polygon fill="#000" points="520.3,586.3 520.8,586.2 521.2,586.2 521.7,586.1 522.1,586.1 522.6,586.0 523.0,586.0 523.5,585.9 523.9,585.9 524.4,585.8 524.8,585.7 525.3,585.7 525.7,585.6 526.2,585.6 526.6,585.5 527.1,585.5 527.5,585.4 528.0,585.4 528.4,586.3 528.9,585.8 529.3,585.3 529.8,585.1 530.2,585.1 530.7,585.0 531.1,585.0 531.6,586.3 532.0,584.9 532.5,585.1 532.9,584.8 533.4,584.7 533.9,584.5 534.4,584.2 534.9,584.4 535.4,583.7 535.9,583.5 536.4,583.9 536.9,583.0 537.4,583.1 537.9,585.7 538.3,583.3 538.8,583.5 539.3,583.5 539.8,583.1 540.3,586.3 540.8,583.2 541.3,582.0 541.8,582.7 542.2,583.4 542.7,583.8 543.2,584.4 543.7,585.4 544.2,584.0 544.7,583.8 545.2,583.6 545.6,583.4 546.1,586.3 546.6,583.9 547.1,582.8 547.6,582.3 548.1,582.2 548.5,581.2 549.0,580.7 549.5,581.7 550.0,579.6 550.5,581.3 551.0,580.5 551.5,578.7 552.0,578.1 552.5,579.1 553.0,579.2 553.4,579.5 553.9,580.0 554.4,580.0 554.9,579.5 555.4,579.3 555.9,579.1 556.4,579.5 556.9,580.3 557.4,580.4 557.8,580.8 558.3,581.2 558.8,582.6 559.3,583.0 559.8,582.5 560.3,582.2 560.8,581.9 561.2,581.8 561.7,582.0 562.2,581.0 562.7,581.6 563.2,582.1 563.7,582.0 564.2,581.8 564.7,582.0 565.2,581.7 565.7,581.4 566.1,581.1 566.6,580.8 567.1,581.4 567.6,581.1 568.1,581.3 568.6,581.5 569.1,581.6 569.6,581.8 570.1,581.5 570.6,581.2 571.0,581.7 571.5,581.0 572.0,583.1 572.5,580.0 573.0,578.9 573.5,578.4 574.0,578.2 574.4,577.2 574.9,575.0 575.4,573.2 575.9,574.1 576.4,574.9 576.9,575.8 577.4,576.6 577.9,576.5 578.4,576.9 578.8,576.9 579.3,576.3 579.8,576.5 580.3,576.1 580.8,575.0 581.3,575.4 581.8,574.9 582.2,573.2 582.7,570.8 583.2,569.8 583.7,570.9 584.2,570.5 584.7,570.9 585.2,571.3 585.7,572.3 586.2,573.2 586.6,574.2 587.1,575.1 587.6,576.1 588.1,576.9 588.6,576.6 589.1,576.9 589.6,576.6 590.1,577.0 590.6,576.0 591.0,575.6 591.5,575.7 592.0,575.0 592.5,574.7 593.0,573.8 593.5,573.5 594.0,572.4 594.5,571.8 594.9,570.0 595.4,569.0 595.9,567.9 596.4,566.9 596.9,569.5 597.4,569.3 597.9,569.6 598.4,570.3 598.9,571.7 599.4,571.7 599.8,572.3 600.3,573.0 600.8,573.7 601.3,576.3 601.8,572.5 602.4,572.1 602.9,571.4 603.4,571.6 603.9,572.6 604.4,574.9 604.9,572.6 605.4,572.2 605.9,570.7 606.3,568.9 606.8,567.2 607.3,565.6 607.8,572.8 608.3,571.3 608.8,573.7 609.3,573.5 609.8,572.8 610.2,573.9 610.7,572.0 611.2,571.5 611.7,571.1 612.2,572.0 612.7,573.1 613.2,573.7 613.7,576.8 614.2,575.0 614.7,575.7 615.1,576.3 615.6,577.0 616.1,577.6 616.6,577.0 617.1,576.8 617.6,576.6 618.0,575.1 618.5,574.8 619.0,573.8 619.5,573.2 620.0,575.4 620.5,575.0 621.0,575.2 621.5,574.5 622.0,574.4 622.5,573.0 623.0,573.9 623.5,574.6 623.9,575.5 624.4,578.5 624.9,577.1 625.5,577.4 626.0,575.7 626.6,575.0 627.1,577.1 627.7,577.3 628.2,579.7 628.8,578.6 629.3,579.1 629.8,578.7 630.3,579.5 630.7,578.8 631.2,578.8 631.7,580.8 632.2,578.9 632.7,583.6 633.2,580.7 633.7,579.4 634.2,579.5 634.6,579.8 635.1,579.9 635.6,580.3 636.1,580.2 636.6,580.2 637.1,580.2 637.6,580.9 638.1,580.1 638.5,580.8 639.0,580.1 639.5,582.1 640.0,580.8 640.5,580.5 641.0,580.0 641.5,579.9 642.0,580.3 642.5,579.6 643.0,579.0 643.5,580.3 643.9,576.3 644.4,575.2 644.9,578.2 645.4,578.6 645.9,576.7 646.4,574.9 646.9,573.0 647.4,573.4 647.9,569.3 648.4,568.6 648.9,567.9 649.3,568.4 649.8,566.6 650.3,565.9 650.8,567.1 651.3,568.2 651.8,569.3 652.3,571.0 652.7,568.6 653.2,568.3 653.7,569.4 654.2,571.1 654.7,571.7 655.2,571.6 655.7,569.4 656.1,568.3 656.6,566.9 657.1,568.0 657.6,569.1 658.1,570.2 658.6,571.3 659.1,570.7 659.6,570.3 660.0,569.6 660.5,569.2 661.0,568.3 661.5,569.3 662.0,571.1 662.5,571.4 663.0,570.9 663.5,570.2 663.9,568.9 664.4,568.1 664.9,567.3 665.4,568.1 665.9,569.1 666.4,569.7 666.9,571.1 667.4,571.3 667.9,573.1 668.4,574.7 668.8,576.0 669.3,577.5 669.8,579.1 670.3,579.2 670.8,579.4 671.3,579.5 671.7,579.9 672.2,579.9 672.7,580.5 673.2,580.0 673.7,580.6 674.2,580.6 674.7,580.9 675.2,581.1 675.7,581.4 676.2,581.7 676.7,582.0 677.2,582.2 677.7,582.4 678.2,584.4 678.6,582.9 679.1,583.1 679.6,583.3 680.1,583.5 680.6,584.5 681.1,584.0 681.6,586.3 682.1,584.4 682.5,584.5 683.0,585.5 683.5,585.5 684.0,585.8 684.5,585.9 685.0,585.4 685.5,585.4 685.9,585.5 686.4,585.5 686.9,585.6 687.3,585.6 687.8,585.6 688.3,585.7 688.7,585.7 689.2,585.8 689.7,585.8 690.1,585.8 690.6,585.9 691.0,585.9 691.5,585.9 692.0,586.0 692.4,586.0 692.9,586.1 693.4,586.1 693.8,586.1 694.3,586.2 694.8,586.2 695.2,586.3 695.7,586.3"/>
<polygon fill="#000" points="803.0,586.3 803.5,586.3 803.9,586.2 804.4,586.2 804.8,586.2 805.3,586.1 805.7,586.1 806.2,586.1 806.6,586.1 807.1,586.0 807.5,586.0 808.0,586.0 808.4,585.9 808.9,585.9 809.3,585.9 809.8,585.8 810.2,585.8 810.7,585.8 811.1,585.7 811.6,585.7 812.0,585.7 812.5,585.6 813.0,585.6 813.4,585.6 813.9,585.6 814.3,585.5 814.8,585.6 815.2,586.3 815.7,585.4 816.1,585.6 816.6,585.8 817.0,585.3 817.5,585.8 817.9,585.3 818.4,585.6 818.8,585.2 819.3,585.2 819.7,585.2 820.2,585.1 820.6,585.2 821.1,586.0 821.5,585.0 822.0,585.0 822.5,584.9 823.0,584.7 823.5,584.6 824.0,584.5 824.5,585.6 825.0,584.1 825.5,584.0 826.0,583.9 826.4,583.8 826.9,583.8 827.3,583.7 827.8,584.8 828.2,583.5 828.6,583.4 829.1,584.0 829.5,583.3 830.0,583.2 830.5,582.9 831.0,582.7 831.5,582.4 832.0,582.6 832.5,581.8 833.0,581.5 833.5,581.8 834.0,581.0 834.5,581.6 834.9,581.9 835.4,581.5 835.8,581.8 836.2,581.8 836.7,581.9 837.1,582.7 837.6,586.3 838.0,583.0 838.5,582.5 839.0,582.7 839.5,581.8 840.0,581.1 840.5,581.0 841.0,579.5 841.5,579.9 842.0,580.6 842.5,581.2 843.0,581.0 843.5,580.4 844.0,579.9 844.5,579.3 845.0,578.7 845.5,578.1 846.0,577.6 846.5,577.0 847.0,578.4 847.5,578.1 848.0,578.2 848.5,579.7 849.0,578.0 849.5,577.7 850.0,577.4 850.5,577.7 851.0,576.8 851.5,577.0 852.0,577.8 852.5,577.7 853.0,577.8 853.5,578.1 854.0,576.4 854.5,575.7 855.0,575.0 855.5,575.1 856.0,574.7 856.5,574.5 857.0,573.2 857.5,571.5 858.0,571.9 858.5,568.5 859.0,567.0 859.5,568.3 860.0,570.2 860.5,571.0 861.0,570.9 861.5,571.4 862.0,570.7 862.5,570.6 863.0,570.5 863.5,571.0 864.0,568.5 864.5,567.5 865.0,568.0 865.5,570.5 866.0,569.0 866.5,567.6 867.1,566.2 867.6,564.8 868.1,565.4 868.5,565.9 869.0,566.5 869.4,567.1 869.9,567.6 870.3,568.1 870.8,568.7 871.3,569.7 871.8,568.7 872.4,567.9 872.9,567.7 873.4,567.4 873.9,567.9 874.4,569.5 874.9,569.0 875.4,569.5 875.9,570.0 876.4,568.6 876.9,567.2 877.4,570.7 877.9,564.4 878.4,564.7 878.8,566.0 879.3,565.4 879.7,566.0 880.2,566.2 880.6,566.4 881.1,566.7 881.8,568.4 882.4,570.0 882.9,568.6 883.3,570.8 883.8,565.8 884.3,564.4 884.8,565.6 885.3,566.9 885.9,568.2 886.4,569.4 886.9,570.6 887.4,573.0 887.8,570.9 888.3,572.8 888.8,571.2 889.3,572.2 889.8,573.6 890.2,574.1 890.7,575.1 891.2,575.1 891.6,576.6 892.1,575.1 892.5,575.1 893.0,575.1 893.4,575.1 893.9,575.1 894.5,576.9 895.2,576.4 895.7,574.2 896.2,573.8 896.7,571.6 897.2,567.8 897.7,568.7 898.2,568.2 898.7,568.4 899.2,569.0 899.7,568.7 900.2,568.6 900.7,568.4 901.3,568.3 901.8,569.2 902.3,568.0 902.8,570.0 903.2,573.9 903.7,573.8 904.2,575.7 904.7,574.1 905.2,572.5 905.7,570.9 906.2,569.3 906.7,569.7 907.1,568.9 907.6,569.9 908.0,569.2 908.5,568.4 908.9,568.7 909.4,568.0 909.9,565.1 910.3,562.7 910.8,559.7 911.3,556.4 911.8,551.9 912.2,546.5 912.7,543.1 913.2,536.5 913.9,540.0 914.5,543.6 915.0,549.2 915.5,552.6 915.9,557.1 916.4,561.6 917.0,566.1 917.7,568.0 918.2,569.3 918.7,570.6 919.3,571.9 919.8,574.1 920.3,574.5 920.8,574.0 921.3,574.1 921.9,572.9 922.4,572.4 922.9,571.9 923.4,574.2 923.8,573.5 924.3,574.6 924.8,575.1 925.3,571.9 925.8,568.7 926.4,569.7 926.9,562.2 927.4,559.0 927.9,560.9 928.3,562.9 928.8,565.2 929.3,566.7 929.8,568.6 930.3,572.1 930.9,572.1 931.4,574.0 931.9,575.7 932.4,575.2 932.9,574.7 933.5,574.2 934.0,573.7 934.5,573.2 935.0,573.2 935.5,573.2 935.5,586.3"/>
<text x="89.6" y="519" text-anchor="middle" font-size="8.8" fill="#a020f0">21</text>
<text x="270.3" y="519" text-anchor="middle" font-size="8.8" fill="#a020f0">1</text>
<text x="288.8" y="519" text-anchor="middle" font-size="8.8" fill="#a020f0">3</text>
<text x="304.5" y="519" text-anchor="middle" font-size="8.8" fill="#a020f0">6</text>
<text x="317.5" y="519" text-anchor="middle" font-size="8.8" fill="#a020f0">9</text>
<text x="334.7" y="519" text-anchor="middle" font-size="8.8" fill="#a020f0">13</text>
<text x="356.4" y="519" text-anchor="middle" font-size="8.8" fill="#a020f0">18</text>
<text x="373.3" y="519" text-anchor="middle" font-size="8.8" fill="#a020f0">21</text>
<text x="585.1" y="519" text-anchor="middle" font-size="8.8" fill="#a020f0">1</text>
<text x="607.8" y="519" text-anchor="middle" font-size="8.8" fill="#a020f0">2</text>
<text x="637.9" y="519" text-anchor="middle" font-size="8.8" fill="#a020f0">3</text>
<text x="661.1" y="519" text-anchor="middle" font-size="8.8" fill="#a020f0">4</text>
<text x="864.1" y="519" text-anchor="middle" font-size="8.8" fill="#a020f0">1</text>
<text x="880.6" y="519" text-anchor="middle" font-size="8.8" fill="#a020f0">2</text>
<text x="899.7" y="519" text-anchor="middle" font-size="8.8" fill="#a020f0">3</text>
<text x="914.1" y="519" text-anchor="middle" font-size="8.8" fill="#a020f0">4</text>
<text x="931.4" y="519" text-anchor="middle" font-size="8.8" fill="#a020f0">5</text>
<text x="128.7" y="519" text-anchor="start" font-size="9.2" fill="#a020f0" textLength="85" lengthAdjust="spacingAndGlyphs">Sum of previous day</text>
<text x="128.7" y="530" text-anchor="start" font-size="9.2" fill="#a020f0" textLength="85" lengthAdjust="spacingAndGlyphs">&lt;--- 23 MJoules/m^2</text>
<text x="411.4" y="519" text-anchor="start" font-size="9.2" fill="#a020f0" textLength="85" lengthAdjust="spacingAndGlyphs">Sum of previous day</text>
<text x="404.9" y="530" text-anchor="start" font-size="9.2" fill="#a020f0" textLength="98" lengthAdjust="spacingAndGlyphs">&lt;--- 22.47 MJoules/m^2</text>
<text x="693.8" y="519" text-anchor="start" font-size="9.2" fill="#a020f0" textLength="85" lengthAdjust="spacingAndGlyphs">Sum of previous day</text>
<text x="692.3" y="530" text-anchor="start" font-size="9.2" fill="#a020f0" textLength="88" lengthAdjust="spacingAndGlyphs">&lt;--- 4.6 MJoules/m^2</text>
<path d="M88.9 509.8v2.4M97.2 509.8v2.4M170.9 509.8v2.4M270.3 509.8v2.4M281.3 509.8v2.4M288.5 509.8v2.4M294.7 509.8v2.4M299.4 509.8v2.4M304.2 509.8v2.4M309.0 509.8v2.4M313.8 509.8v2.4M317.9 509.8v2.4M322.0 509.8v2.4M326.1 509.8v2.4M330.2 509.8v2.4M334.3 509.8v2.4M338.4 509.8v2.4M342.5 509.8v2.4M348.0 509.8v2.4M352.1 509.8v2.4M356.2 509.8v2.4M361.0 509.8v2.4M365.7 509.8v2.4M370.5 509.8v2.4M374.6 509.8v2.4M384.2 509.8v2.4M453.3 509.8v2.4M585.1 509.8v2.4M607.8 509.8v2.4M637.9 509.8v2.4M661.1 509.8v2.4M735.7 509.8v2.4M864.1 509.8v2.4M880.6 509.8v2.4M899.7 509.8v2.4M914.1 509.8v2.4M931.4 509.8v2.4" stroke="#000" stroke-width="0.9"/></svg>
</body></html>
